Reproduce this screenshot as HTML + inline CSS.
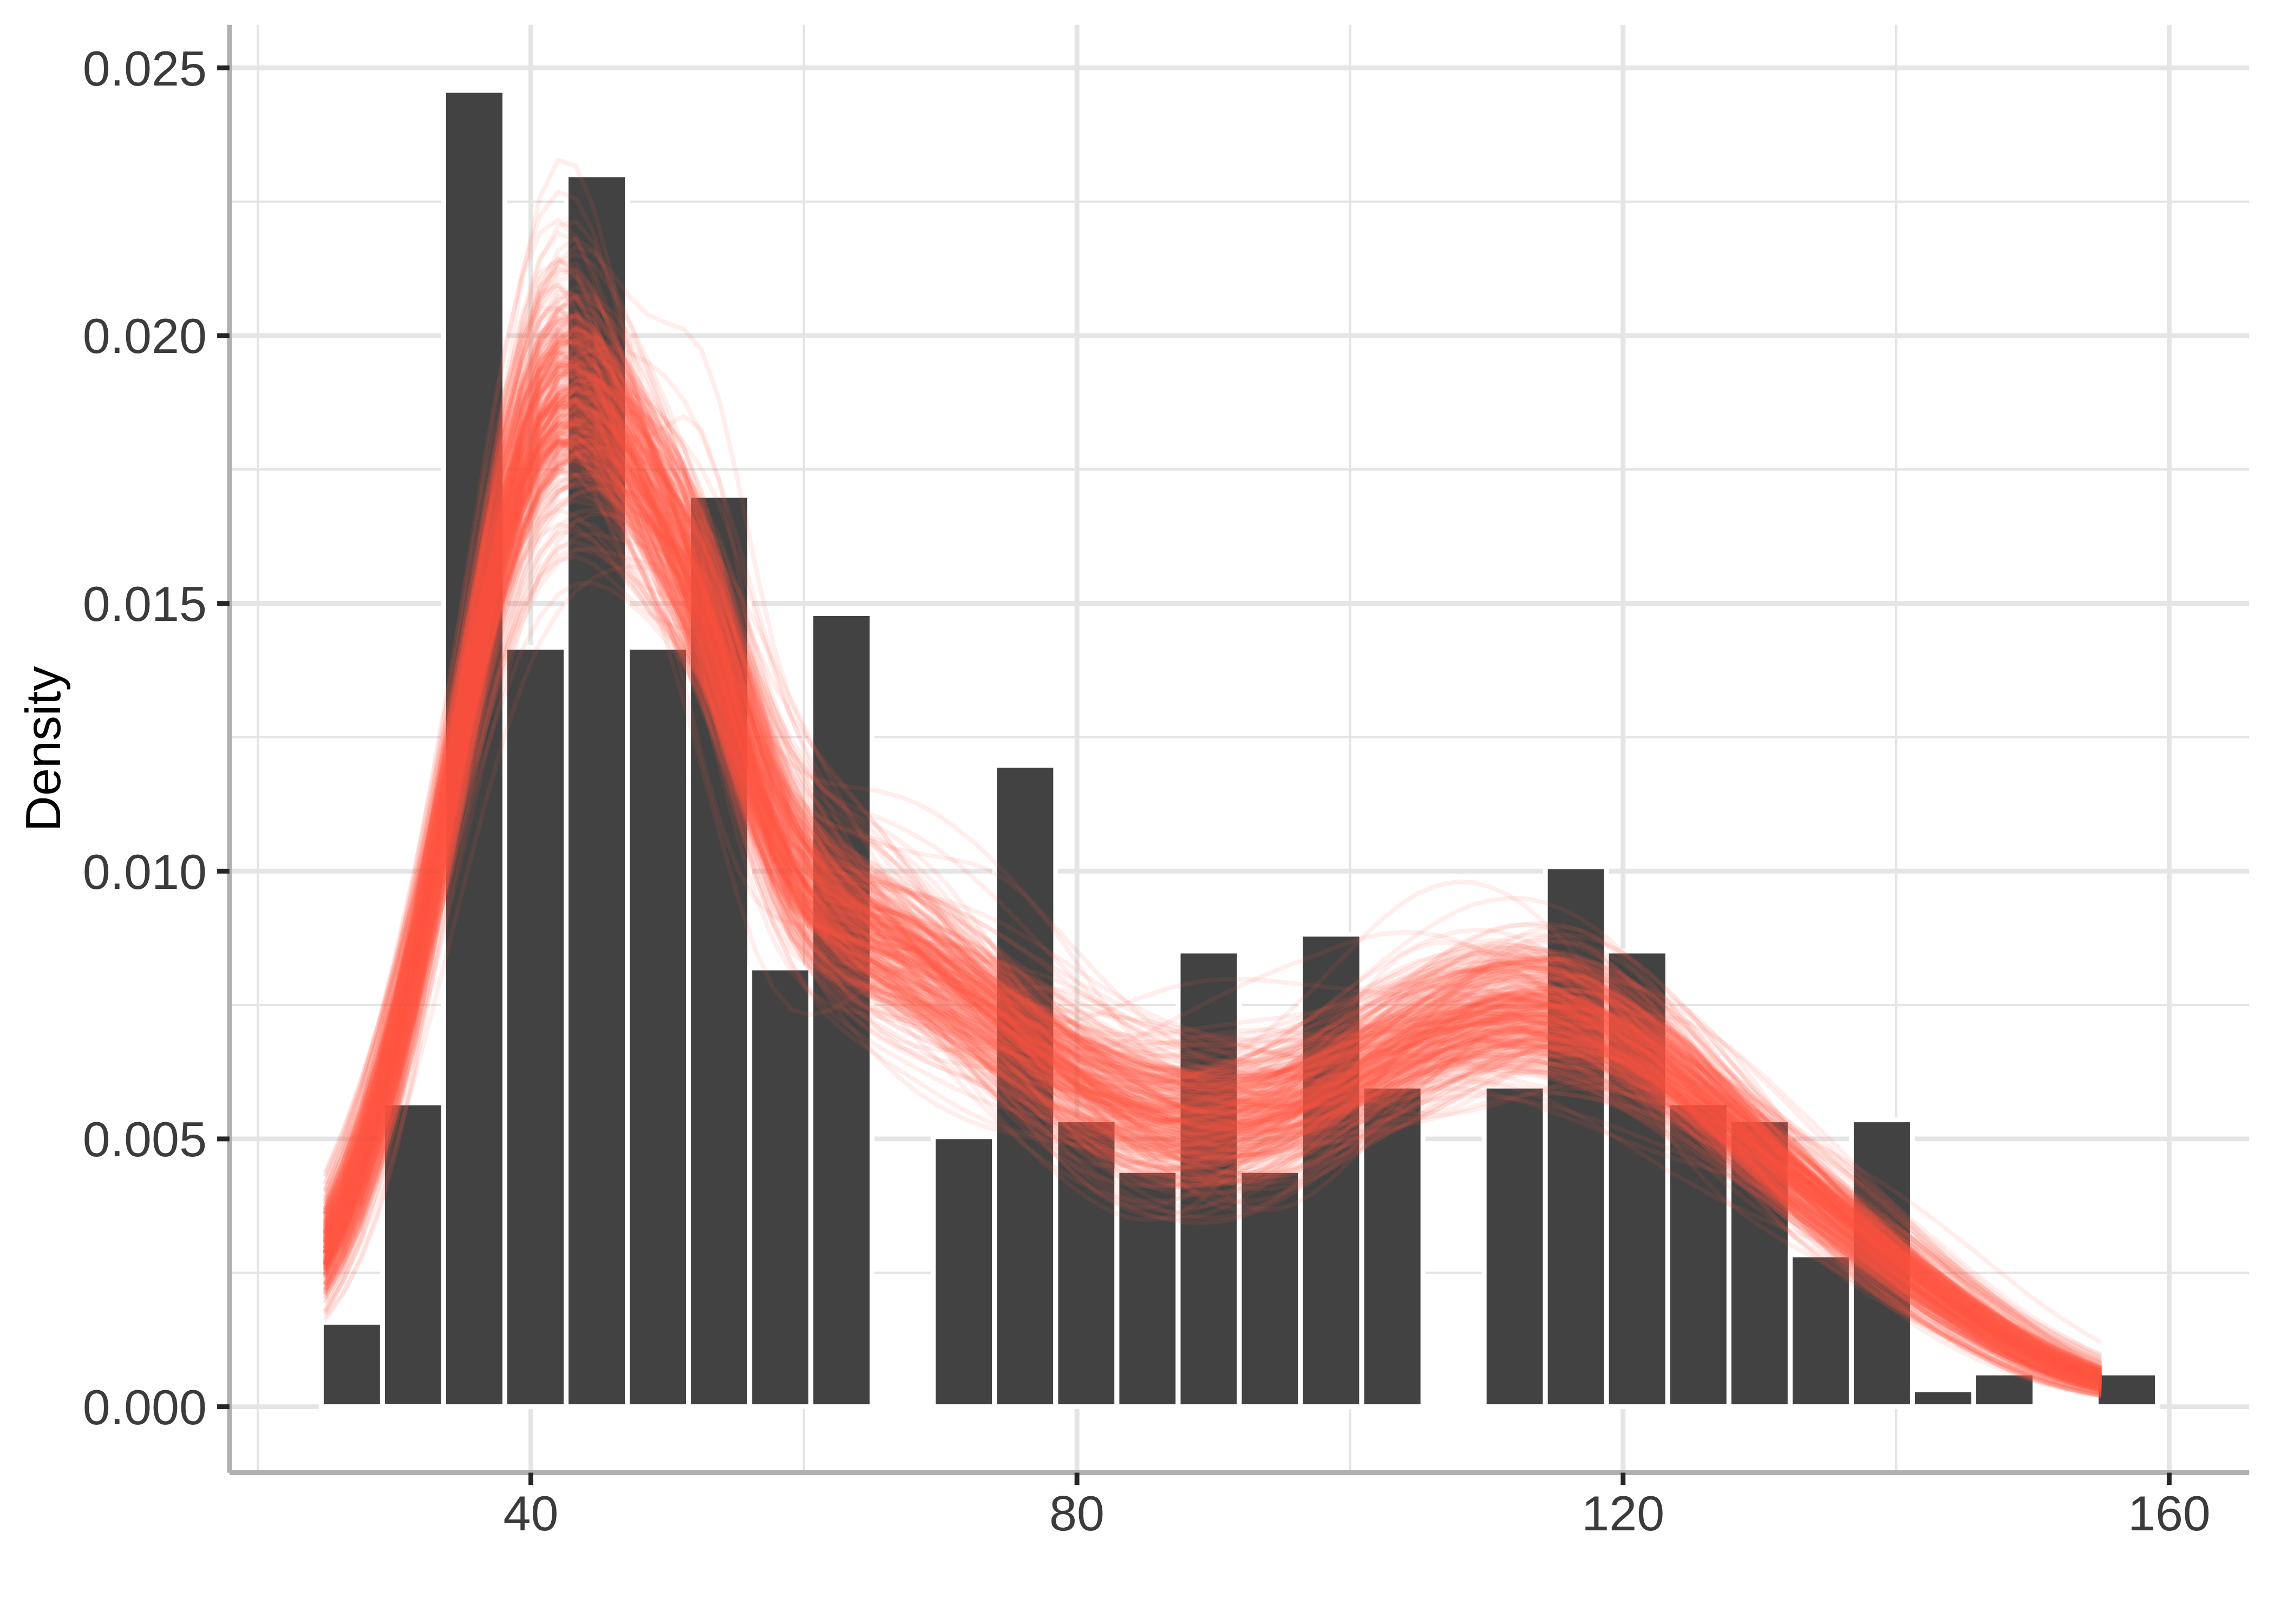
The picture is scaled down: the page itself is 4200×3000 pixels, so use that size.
<!DOCTYPE html>
<html><head><meta charset="utf-8"><title>Density</title>
<style>html,body{margin:0;padding:0;background:#fff;width:4200px;height:3000px;overflow:hidden}svg{display:block}text{font-family:"Liberation Sans",Arial,Helvetica,sans-serif;font-size:91.67px}</style></head>
<body>
<svg width="4200" height="3000" viewBox="0 0 4200 3000">
<rect width="4200" height="3000" fill="#fff"/>
<g stroke="#E5E5E5" stroke-width="4.4" fill="none">
<line x1="423.8" x2="4154.2" y1="2351.3" y2="2351.3"/><line x1="423.8" x2="4154.2" y1="1856.6" y2="1856.6"/><line x1="423.8" x2="4154.2" y1="1361.9" y2="1361.9"/><line x1="423.8" x2="4154.2" y1="867.3" y2="867.3"/><line x1="423.8" x2="4154.2" y1="372.6" y2="372.6"/><line y1="45.8" y2="2720.5" x1="476.2" x2="476.2"/><line y1="45.8" y2="2720.5" x1="1484.8" x2="1484.8"/><line y1="45.8" y2="2720.5" x1="2493.5" x2="2493.5"/><line y1="45.8" y2="2720.5" x1="3502.1" x2="3502.1"/>
</g>
<g stroke="#E5E5E5" stroke-width="8.9" fill="none">
<line x1="423.8" x2="4154.2" y1="2598.6" y2="2598.6"/><line x1="423.8" x2="4154.2" y1="2103.9" y2="2103.9"/><line x1="423.8" x2="4154.2" y1="1609.3" y2="1609.3"/><line x1="423.8" x2="4154.2" y1="1114.6" y2="1114.6"/><line x1="423.8" x2="4154.2" y1="620.0" y2="620.0"/><line x1="423.8" x2="4154.2" y1="125.3" y2="125.3"/><line y1="45.8" y2="2720.5" x1="980.5" x2="980.5"/><line y1="45.8" y2="2720.5" x1="1989.1" x2="1989.1"/><line y1="45.8" y2="2720.5" x1="2997.8" x2="2997.8"/><line y1="45.8" y2="2720.5" x1="4006.4" x2="4006.4"/>
</g>
<g fill="#424242" stroke="#fff" stroke-width="9">
<rect x="593.4" y="2442.7" width="113.04" height="155.9"/><rect x="706.4" y="2037.4" width="113.04" height="561.1"/><rect x="819.5" y="166.9" width="113.04" height="2431.7"/><rect x="932.5" y="1195.7" width="113.04" height="1402.9"/><rect x="1045.6" y="322.8" width="113.04" height="2275.8"/><rect x="1158.6" y="1195.7" width="113.04" height="1402.9"/><rect x="1271.6" y="915.1" width="113.04" height="1683.5"/><rect x="1384.7" y="1788.0" width="113.04" height="810.6"/><rect x="1497.7" y="1133.4" width="113.04" height="1465.2"/><path d="M1610.8 2598.6h113.04" stroke-linecap="square"/><rect x="1723.8" y="2099.8" width="113.04" height="498.8"/><rect x="1836.8" y="1413.9" width="113.04" height="1184.7"/><rect x="1949.9" y="2068.6" width="113.04" height="530.0"/><rect x="2062.9" y="2162.2" width="113.04" height="436.4"/><rect x="2176.0" y="1756.9" width="113.04" height="841.7"/><rect x="2289.0" y="2162.2" width="113.04" height="436.4"/><rect x="2402.0" y="1725.7" width="113.04" height="872.9"/><rect x="2515.1" y="2006.3" width="113.04" height="592.3"/><path d="M2628.1 2598.6h113.04" stroke-linecap="square"/><rect x="2741.2" y="2006.3" width="113.04" height="592.3"/><rect x="2854.2" y="1601.0" width="113.04" height="997.6"/><rect x="2967.2" y="1756.9" width="113.04" height="841.7"/><rect x="3080.3" y="2037.4" width="113.04" height="561.1"/><rect x="3193.3" y="2068.6" width="113.04" height="530.0"/><rect x="3306.4" y="2318.0" width="113.04" height="280.6"/><rect x="3419.4" y="2068.6" width="113.04" height="530.0"/><rect x="3532.4" y="2567.4" width="113.04" height="31.2"/><rect x="3645.5" y="2536.2" width="113.04" height="62.4"/><path d="M3758.5 2598.6h113.04" stroke-linecap="square"/><rect x="3871.6" y="2536.2" width="113.04" height="62.4"/>
</g>
<g fill="none" stroke="#FF5A44" stroke-opacity="0.1" stroke-width="8.3" stroke-linejoin="round" stroke-linecap="butt">
<path d="M600 2202l33-69 33-85 33-104 33-121 34-138 33-151 33-156 33-155 33-142 33-120 33-89 33-51 34-12 33 24 33 52 33 68 33 71 33 67 33 62 34 64 33 77 33 95 33 108 33 109 33 97 33 77 34 56 33 41 33 29 33 25 33 23 33 22 33 21 34 22 33 20 33 18 33 15 33 13 33 8 33 5 34 2 33-1 33-4 33-5 33-7 33-7 33-8 34-8 33-10 33-11 33-12 33-14 33-17 33-20 34-22 33-24 33-26 33-27 33-28 33-28 33-27 34-24 33-22 33-17 33-13 33-8 33-2 33 4 34 11 33 16 33 23 33 28 33 32 33 37 33 40 34 43 33 43 33 45 33 43 33 42 33 39 33 37 34 35 33 33 33 33 33 32 33 31 33 32 33 31 34 29 33 27 33 23 33 20 33 17 33 13 33 11 34 9 33 7 33 5"/>
<path d="M600 2219l33-72 33-88 33-105 33-123 34-139 33-152 33-161 33-160 33-152 33-134 33-108 33-74 34-38 33 0 33 30 33 51 33 57 33 51 33 44 34 52 33 78 33 111 33 130 33 127 33 104 33 76 34 52 33 40 33 32 33 31 33 32 33 32 33 34 34 34 33 34 33 34 33 32 33 29 33 26 33 22 34 18 33 13 33 9 33 6 33 2 33-1 33-3 34-5 33-6 33-7 33-8 33-9 33-9 33-10 34-10 33-11 33-11 33-11 33-11 33-10 33-10 34-8 33-8 33-5 33-4 33-1 33 1 33 3 34 5 33 7 33 10 33 11 33 12 33 15 33 15 34 16 33 16 33 17 33 17 33 18 33 17 33 17 34 18 33 18 33 19 33 20 33 20 33 22 33 22 34 23 33 23 33 23 33 23 33 21 33 21 33 19 34 17 33 16 33 14"/>
<path d="M600 2198l33-81 33-96 33-111 33-125 34-136 33-144 33-145 33-140 33-128 33-109 33-84 33-55 34-24 33 7 33 34 33 53 33 61 33 55 33 40 34 26 33 24 33 43 33 78 33 109 33 122 33 112 34 88 33 62 33 42 33 30 33 24 33 22 33 21 34 22 33 22 33 22 33 23 33 22 33 22 33 21 34 20 33 17 33 15 33 13 33 9 33 5 33 1 34-4 33-8 33-13 33-17 33-21 33-25 33-28 34-28 33-29 33-28 33-25 33-22 33-18 33-13 34-8 33-5 33 0 33 4 33 6 33 8 33 11 34 12 33 14 33 17 33 19 33 23 33 26 33 29 34 32 33 35 33 38 33 38 33 40 33 39 33 39 34 37 33 35 33 33 33 30 33 28 33 25 33 23 34 20 33 18 33 16 33 15 33 12 33 11 33 9 34 8 33 6 33 6"/>
<path d="M600 2299l33-57 33-70 33-84 33-99 34-114 33-126 33-136 33-138 33-135 33-124 33-105 33-79 34-50 33-20 33 9 33 31 33 47 33 55 33 54 34 50 33 44 33 42 33 41 33 44 33 45 33 45 34 41 33 33 33 24 33 19 33 15 33 17 33 22 34 28 33 35 33 39 33 40 33 39 33 36 33 32 34 27 33 22 33 18 33 14 33 9 33 6 33 2 34-2 33-6 33-9 33-13 33-16 33-18 33-22 34-23 33-24 33-25 33-24 33-22 33-21 33-17 34-14 33-9 33-4 33 1 33 7 33 12 33 16 34 22 33 25 33 30 33 32 33 35 33 37 33 38 34 39 33 40 33 40 33 39 33 39 33 37 33 35 34 33 33 32 33 29 33 28 33 26 33 25 33 23 34 22 33 20 33 18 33 17 33 15 33 13 33 11 34 10 33 8 33 6"/>
<path d="M600 2313l33-70 33-88 33-108 33-128 34-149 33-166 33-177 33-180 33-174 33-157 33-129 33-95 34-55 33-16 33 18 33 44 33 61 33 69 33 73 34 75 33 80 33 86 33 92 33 93 33 89 33 78 34 66 33 52 33 43 33 36 33 33 33 33 33 33 34 35 33 37 33 38 33 38 33 38 33 37 33 35 34 32 33 28 33 24 33 19 33 13 33 7 33 2 34-4 33-8 33-13 33-15 33-18 33-20 33-20 34-19 33-20 33-18 33-16 33-15 33-14 33-11 34-10 33-7 33-5 33-2 33 0 33 3 33 6 34 8 33 11 33 14 33 17 33 18 33 21 33 22 34 24 33 24 33 25 33 25 33 26 33 25 33 24 34 24 33 24 33 23 33 23 33 23 33 22 33 21 34 22 33 21 33 20 33 19 33 18 33 17 33 15 34 14 33 12 33 11"/>
<path d="M600 2289l33-65 33-81 33-97 33-116 34-132 33-147 33-156 33-159 33-152 33-137 33-112 33-81 34-47 33-13 33 15 33 34 33 41 33 41 33 42 34 51 33 69 33 93 33 111 33 117 33 105 33 84 34 59 33 40 33 26 33 18 33 16 33 14 33 15 34 17 33 17 33 19 33 19 33 20 33 20 33 19 34 19 33 18 33 16 33 15 33 12 33 9 33 6 34 3 33 0 33-3 33-6 33-9 33-11 33-14 34-15 33-17 33-18 33-19 33-19 33-19 33-19 34-19 33-16 33-12 33-8 33-1 33 7 33 15 34 22 33 28 33 32 33 34 33 34 33 32 33 32 34 30 33 30 33 28 33 28 33 28 33 26 33 26 34 25 33 24 33 23 33 23 33 22 33 23 33 23 34 23 33 23 33 22 33 21 33 20 33 19 33 16 34 14 33 12 33 9"/>
<path d="M600 2382l33-49 33-68 33-93 33-123 34-156 33-190 33-216 33-228 33-221 33-192 33-142 33-79 34-17 33 36 33 69 33 87 33 95 33 106 33 122 34 136 33 136 33 120 33 90 33 57 33 30 33 14 34 4 33 3 33 3 33 5 33 7 33 10 33 11 34 14 33 15 33 18 33 18 33 20 33 22 33 22 34 23 33 22 33 21 33 18 33 15 33 12 33 8 34 5 33 2 33-1 33-5 33-6 33-9 33-12 34-12 33-14 33-15 33-15 33-14 33-12 33-11 34-9 33-6 33-4 33-2 33 1 33 4 33 6 34 8 33 10 33 13 33 14 33 17 33 18 33 20 34 21 33 22 33 23 33 22 33 23 33 23 33 22 34 23 33 24 33 24 33 25 33 27 33 27 33 29 34 29 33 29 33 28 33 27 33 25 33 23 33 20 34 18 33 16 33 13"/>
<path d="M600 2281l33-69 33-86 33-106 33-127 34-148 33-165 33-177 33-180 33-174 33-155 33-125 33-87 34-44 33-2 33 33 33 59 33 72 33 75 33 76 34 80 33 90 33 102 33 106 33 101 33 85 33 65 34 46 33 32 33 24 33 21 33 21 33 21 33 21 34 23 33 24 33 25 33 25 33 25 33 24 33 23 34 22 33 20 33 18 33 16 33 13 33 11 33 8 34 6 33 3 33 1 33-1 33-2 33-3 33-4 34-2 33-3 33-1 33-1 33-2 33-4 33-7 34-11 33-14 33-18 33-20 33-21 33-19 33-15 34-9 33-2 33 6 33 13 33 20 33 26 33 31 34 33 33 36 33 37 33 36 33 36 33 34 33 32 34 30 33 28 33 26 33 24 33 22 33 21 33 20 34 19 33 17 33 17 33 17 33 15 33 14 33 13 34 12 33 11 33 10"/>
<path d="M600 2316l33-67 33-84 33-101 33-122 34-140 33-156 33-167 33-170 33-166 33-150 33-126 33-94 34-59 33-23 33 7 33 31 33 46 33 55 33 65 34 77 33 93 33 107 33 118 33 117 33 107 33 90 34 71 33 52 33 38 33 27 33 21 33 17 33 15 34 15 33 16 33 18 33 21 33 24 33 25 33 26 34 26 33 24 33 22 33 19 33 15 33 11 33 7 34 2 33-1 33-6 33-9 33-12 33-14 33-17 34-18 33-19 33-19 33-18 33-17 33-16 33-14 34-11 33-9 33-6 33-4 33 0 33 1 33 5 34 6 33 9 33 11 33 14 33 15 33 18 33 20 34 22 33 24 33 25 33 27 33 28 33 28 33 28 34 28 33 27 33 27 33 26 33 25 33 23 33 23 34 22 33 21 33 20 33 19 33 19 33 17 33 16 34 15 33 13 33 12"/>
<path d="M600 2272l33-79 33-95 33-112 33-130 34-144 33-154 33-158 33-154 33-142 33-122 33-93 33-62 34-27 33 4 33 28 33 43 33 46 33 40 33 36 34 37 33 53 33 74 33 93 33 100 33 91 33 73 34 52 33 36 33 25 33 21 33 19 33 20 33 22 34 23 33 25 33 25 33 26 33 27 33 26 33 25 34 25 33 24 33 23 33 23 33 21 33 20 33 18 34 15 33 12 33 9 33 4 33 1 33-4 33-7 34-10 33-13 33-16 33-17 33-18 33-18 33-18 34-17 33-15 33-13 33-11 33-7 33-4 33-1 34 4 33 7 33 11 33 14 33 18 33 21 33 24 34 26 33 28 33 29 33 31 33 31 33 31 33 32 34 30 33 30 33 29 33 28 33 26 33 26 33 23 34 23 33 21 33 19 33 18 33 17 33 15 33 13 34 12 33 11 33 9"/>
<path d="M600 2355l33-62 33-79 33-99 33-120 34-141 33-158 33-172 33-177 33-172 33-155 33-128 33-92 34-52 33-12 33 23 33 47 33 60 33 61 33 61 34 63 33 72 33 86 33 97 33 101 33 93 33 77 34 57 33 39 33 28 33 21 33 19 33 18 33 20 34 21 33 23 33 26 33 26 33 28 33 28 33 29 34 28 33 26 33 25 33 23 33 21 33 17 33 14 34 11 33 8 33 3 33-1 33-5 33-8 33-13 34-17 33-20 33-22 33-25 33-26 33-27 33-26 34-25 33-23 33-21 33-16 33-13 33-8 33-3 34 2 33 6 33 11 33 15 33 19 33 23 33 25 34 29 33 30 33 31 33 32 33 31 33 32 33 31 34 30 33 29 33 29 33 28 33 27 33 28 33 26 34 27 33 25 33 25 33 23 33 22 33 20 33 18 34 16 33 13 33 11"/>
<path d="M600 2312l33-72 33-90 33-109 33-129 34-147 33-161 33-167 33-165 33-152 33-129 33-97 33-59 34-19 33 17 33 46 33 63 33 69 33 67 33 64 34 63 33 67 33 76 33 80 33 81 33 71 33 58 34 43 33 31 33 25 33 23 33 23 33 25 33 28 34 29 33 29 33 29 33 26 33 23 33 18 33 14 34 9 33 5 33 2 33 0 33-2 33-3 33-3 34-3 33-4 33-4 33-5 33-6 33-7 33-9 34-9 33-11 33-12 33-12 33-13 33-12 33-12 34-10 33-9 33-7 33-5 33-2 33 0 33 4 34 7 33 10 33 13 33 16 33 18 33 22 33 23 34 26 33 27 33 28 33 29 33 30 33 30 33 30 34 30 33 30 33 29 33 28 33 27 33 27 33 25 34 25 33 23 33 21 33 21 33 18 33 17 33 16 34 13 33 12 33 11"/>
<path d="M600 2400l33-64 33-83 33-103 33-125 34-145 33-163 33-173 33-175 33-167 33-148 33-117 33-81 34-39 33 1 33 36 33 58 33 66 33 59 33 41 34 22 33 15 33 27 33 51 33 75 33 87 33 82 34 64 33 45 33 29 33 21 33 20 33 21 33 24 34 28 33 32 33 35 33 36 33 38 33 37 33 36 34 35 33 31 33 28 33 25 33 20 33 16 33 12 34 7 33 3 33-2 33-6 33-10 33-14 33-18 34-21 33-24 33-26 33-27 33-27 33-27 33-25 34-23 33-19 33-15 33-11 33-5 33 0 33 5 34 11 33 17 33 21 33 26 33 30 33 34 33 36 34 38 33 39 33 40 33 40 33 39 33 38 33 37 34 35 33 33 33 32 33 30 33 28 33 26 33 24 34 23 33 21 33 18 33 17 33 15 33 13 33 10 34 9 33 8 33 6"/>
<path d="M600 2200l33-79 33-96 33-116 33-135 34-152 33-163 33-170 33-166 33-153 33-129 33-98 33-59 34-19 33 19 33 52 33 73 33 85 33 86 33 81 34 76 33 73 33 74 33 78 33 81 33 77 33 71 34 60 33 48 33 40 33 32 33 28 33 26 33 24 34 22 33 22 33 21 33 21 33 20 33 19 33 19 34 18 33 16 33 16 33 14 33 12 33 10 33 9 34 7 33 6 33 4 33 3 33 2 33 2 33 1 34-1 33-2 33-5 33-8 33-11 33-15 33-17 34-20 33-21 33-21 33-19 33-17 33-13 33-9 34-5 33 1 33 5 33 9 33 13 33 16 33 20 34 21 33 24 33 26 33 27 33 28 33 28 33 29 34 29 33 29 33 29 33 28 33 28 33 27 33 26 34 25 33 24 33 22 33 20 33 18 33 17 33 15 34 13 33 12 33 10"/>
<path d="M600 2254l33-78 33-93 33-107 33-119 34-130 33-135 33-135 33-129 33-117 33-99 33-75 33-48 34-20 33 5 33 25 33 37 33 43 33 42 33 41 34 43 33 53 33 65 33 75 33 79 33 71 33 55 34 38 33 21 33 10 33 4 33 4 33 7 33 13 34 19 33 24 33 29 33 30 33 30 33 28 33 25 34 22 33 19 33 15 33 12 33 9 33 7 33 3 34 0 33-3 33-5 33-9 33-11 33-14 33-15 34-17 33-18 33-19 33-19 33-18 33-16 33-15 34-13 33-10 33-6 33-3 33 2 33 5 33 11 34 15 33 19 33 24 33 27 33 31 33 34 33 36 34 37 33 39 33 38 33 38 33 38 33 36 33 34 34 32 33 31 33 29 33 28 33 25 33 25 33 23 34 22 33 21 33 19 33 18 33 16 33 14 33 13 34 11 33 9 33 8"/>
<path d="M600 2317l33-79 33-97 33-114 33-131 34-146 33-157 33-164 33-163 33-155 33-140 33-118 33-92 34-64 33-37 33-16 33-1 33 9 33 17 33 27 34 43 33 64 33 88 33 106 33 115 33 111 33 101 34 85 33 72 33 62 33 56 33 54 33 53 33 54 34 55 33 54 33 53 33 51 33 49 33 45 33 40 34 36 33 32 33 26 33 21 33 15 33 10 33 4 34-1 33-6 33-12 33-15 33-20 33-23 33-26 34-29 33-32 33-33 33-35 33-35 33-35 33-34 34-32 33-29 33-24 33-20 33-14 33-7 33-2 34 5 33 10 33 15 33 20 33 24 33 27 33 29 34 32 33 33 33 34 33 35 33 36 33 35 33 35 34 35 33 34 33 33 33 31 33 31 33 29 33 27 34 26 33 25 33 22 33 21 33 19 33 17 33 15 34 13 33 12 33 10"/>
<path d="M600 2269l33-79 33-97 33-117 33-138 34-156 33-171 33-180 33-179 33-170 33-151 33-121 33-88 34-52 33-18 33 10 33 30 33 45 33 61 33 77 34 96 33 114 33 125 33 126 33 114 33 96 33 75 34 56 33 41 33 33 33 28 33 26 33 27 33 27 34 29 33 30 33 31 33 31 33 31 33 31 33 29 34 27 33 26 33 23 33 20 33 18 33 13 33 11 34 6 33 2 33-3 33-7 33-13 33-18 33-23 34-28 33-33 33-36 33-38 33-38 33-37 33-33 34-27 33-21 33-12 33-3 33 5 33 12 33 20 34 25 33 29 33 33 33 34 33 36 33 36 33 36 34 36 33 36 33 35 33 33 33 32 33 31 33 29 34 27 33 26 33 24 33 23 33 22 33 20 33 20 34 19 33 19 33 18 33 17 33 17 33 15 33 14 34 12 33 12 33 9"/>
<path d="M600 2322l33-70 33-87 33-103 33-122 34-138 33-151 33-160 33-161 33-155 33-140 33-117 33-88 34-55 33-22 33 5 33 27 33 39 33 44 33 48 34 55 33 69 33 85 33 98 33 103 33 95 33 79 34 61 33 45 33 33 33 26 33 23 33 22 33 24 34 24 33 26 33 28 33 28 33 30 33 29 33 30 34 29 33 28 33 25 33 23 33 19 33 14 33 11 34 6 33 2 33-2 33-4 33-6 33-9 33-10 34-11 33-13 33-13 33-14 33-13 33-14 33-12 34-12 33-10 33-8 33-7 33-3 33-2 33 2 34 4 33 7 33 10 33 13 33 15 33 17 33 20 34 21 33 22 33 22 33 23 33 23 33 23 33 22 34 22 33 23 33 22 33 24 33 24 33 26 33 26 34 27 33 26 33 26 33 25 33 23 33 21 33 18 34 16 33 14 33 12"/>
<path d="M600 2384l33-63 33-79 33-97 33-116 34-132 33-147 33-155 33-158 33-151 33-136 33-112 33-82 34-49 33-17 33 9 33 25 33 27 33 23 33 18 34 25 33 48 33 77 33 102 33 108 33 98 33 73 34 48 33 28 33 16 33 11 33 10 33 11 33 13 34 16 33 19 33 21 33 23 33 25 33 25 33 26 34 26 33 25 33 24 33 22 33 21 33 19 33 17 34 15 33 13 33 11 33 7 33 5 33 1 33-2 34-5 33-9 33-10 33-13 33-15 33-15 33-16 34-16 33-15 33-13 33-13 33-10 33-8 33-6 34-4 33-1 33 3 33 7 33 11 33 18 33 23 34 28 33 33 33 36 33 38 33 38 33 38 33 36 34 35 33 33 33 30 33 29 33 27 33 26 33 25 34 24 33 22 33 22 33 21 33 19 33 19 33 16 34 15 33 13 33 12"/>
<path d="M600 2289l33-76 33-93 33-111 33-129 34-144 33-155 33-160 33-158 33-146 33-125 33-98 33-64 34-29 33 4 33 29 33 43 33 43 33 33 33 27 34 34 33 58 33 93 33 118 33 122 33 106 33 79 34 53 33 35 33 25 33 19 33 19 33 20 33 20 34 22 33 23 33 24 33 25 33 24 33 24 33 24 34 21 33 21 33 18 33 15 33 13 33 10 33 7 34 4 33 1 33-2 33-4 33-7 33-9 33-12 34-12 33-14 33-15 33-14 33-15 33-14 33-12 34-11 33-8 33-5 33-3 33 1 33 5 33 7 34 10 33 13 33 14 33 16 33 18 33 18 33 19 34 19 33 20 33 21 33 22 33 22 33 23 33 23 34 23 33 23 33 23 33 23 33 23 33 23 33 23 34 23 33 23 33 22 33 22 33 22 33 20 33 19 34 17 33 16 33 14"/>
<path d="M600 2265l33-74 33-88 33-103 33-118 34-131 33-140 33-144 33-143 33-133 33-118 33-94 33-68 34-37 33-9 33 15 33 29 33 31 33 26 33 23 34 34 33 64 33 99 33 123 33 125 33 107 33 79 34 54 33 38 33 28 33 24 33 22 33 22 33 23 34 23 33 24 33 24 33 25 33 24 33 23 33 21 34 20 33 17 33 14 33 11 33 8 33 5 33 2 34-2 33-5 33-7 33-11 33-13 33-15 33-18 34-19 33-21 33-22 33-23 33-23 33-22 33-21 34-20 33-17 33-13 33-10 33-5 33 0 33 5 34 10 33 15 33 19 33 23 33 25 33 29 33 30 34 31 33 31 33 31 33 30 33 30 33 29 33 28 34 27 33 27 33 28 33 28 33 28 33 30 33 29 34 29 33 29 33 27 33 24 33 23 33 20 33 17 34 14 33 13 33 10"/>
<path d="M600 2273l33-77 33-92 33-106 33-119 34-131 33-138 33-140 33-137 33-127 33-112 33-91 33-66 34-41 33-18 33 1 33 12 33 18 33 22 33 28 34 40 33 59 33 80 33 96 33 102 33 94 33 81 34 62 33 46 33 35 33 28 33 25 33 26 33 27 34 29 33 30 33 32 33 32 33 30 33 27 33 24 34 21 33 18 33 16 33 15 33 15 33 14 33 15 34 15 33 14 33 12 33 9 33 6 33 0 33-4 34-10 33-15 33-19 33-21 33-22 33-23 33-21 34-19 33-17 33-15 33-12 33-10 33-7 33-3 34-1 33 2 33 6 33 8 33 12 33 14 33 17 34 19 33 20 33 22 33 23 33 24 33 24 33 24 34 24 33 24 33 24 33 25 33 25 33 25 33 26 34 27 33 26 33 27 33 25 33 25 33 23 33 21 34 19 33 16 33 15"/>
<path d="M600 2348l33-59 33-75 33-93 33-112 34-134 33-152 33-168 33-176 33-176 33-166 33-145 33-116 34-79 33-42 33-9 33 16 33 33 33 46 33 61 34 83 33 108 33 127 33 131 33 119 33 97 33 73 34 52 33 39 33 29 33 24 33 22 33 21 33 22 34 22 33 25 33 26 33 28 33 29 33 30 33 30 34 30 33 29 33 27 33 25 33 23 33 19 33 16 34 12 33 9 33 5 33 1 33-2 33-5 33-8 34-10 33-12 33-14 33-15 33-15 33-16 33-16 34-16 33-15 33-14 33-13 33-11 33-8 33-5 34-1 33 1 33 6 33 10 33 13 33 17 33 20 34 23 33 25 33 27 33 28 33 29 33 30 33 30 34 30 33 29 33 29 33 28 33 27 33 26 33 25 34 23 33 22 33 20 33 19 33 18 33 15 33 14 34 12 33 11 33 9"/>
<path d="M600 2317l33-69 33-84 33-102 33-121 34-136 33-150 33-158 33-158 33-150 33-133 33-108 33-76 34-41 33-6 33 22 33 39 33 42 33 36 33 33 34 45 33 75 33 111 33 133 33 127 33 102 33 68 34 41 33 22 33 10 33 6 33 5 33 6 33 9 34 12 33 16 33 19 33 22 33 24 33 24 33 26 34 25 33 24 33 22 33 21 33 18 33 16 33 12 34 9 33 5 33 2 33-2 33-5 33-8 33-12 34-14 33-16 33-17 33-19 33-18 33-17 33-16 34-14 33-10 33-6 33-3 33 3 33 6 33 10 34 13 33 15 33 18 33 18 33 19 33 20 33 20 34 22 33 23 33 24 33 26 33 27 33 28 33 29 34 29 33 30 33 29 33 29 33 28 33 27 33 25 34 24 33 22 33 21 33 19 33 18 33 15 33 14 34 12 33 11 33 9"/>
<path d="M600 2320l33-70 33-86 33-102 33-119 34-134 33-145 33-150 33-149 33-141 33-124 33-101 33-71 34-40 33-10 33 15 33 27 33 24 33 11 33-5 34-2 33 27 33 73 33 113 33 128 33 115 33 87 34 59 33 39 33 29 33 26 33 25 33 26 33 26 34 28 33 27 33 27 33 27 33 27 33 25 33 24 34 23 33 21 33 19 33 17 33 14 33 11 33 8 34 6 33 2 33-2 33-4 33-7 33-10 33-12 34-14 33-16 33-18 33-18 33-18 33-18 33-17 34-15 33-13 33-11 33-7 33-3 33 0 33 4 34 9 33 11 33 15 33 18 33 21 33 23 33 24 34 26 33 27 33 28 33 28 33 28 33 28 33 29 34 28 33 28 33 28 33 28 33 29 33 28 33 27 34 28 33 26 33 25 33 24 33 22 33 20 33 18 34 16 33 13 33 12"/>
<path d="M600 2247l33-69 33-83 33-99 33-115 34-129 33-143 33-151 33-154 33-150 33-137 33-117 33-92 34-61 33-31 33-4 33 15 33 27 33 32 33 39 34 51 33 72 33 96 33 114 33 119 33 110 33 92 34 72 33 56 33 45 33 40 33 38 33 37 33 38 34 39 33 38 33 38 33 36 33 35 33 33 33 30 34 28 33 24 33 21 33 18 33 13 33 10 33 5 34 1 33-2 33-7 33-11 33-14 33-18 33-20 34-23 33-25 33-26 33-27 33-27 33-25 33-24 34-21 33-17 33-13 33-9 33-3 33 3 33 10 34 14 33 20 33 24 33 27 33 27 33 26 33 25 34 23 33 21 33 19 33 18 33 20 33 20 33 22 34 23 33 25 33 25 33 27 33 27 33 26 33 26 34 25 33 24 33 23 33 22 33 20 33 18 33 17 34 14 33 13 33 11"/>
<path d="M600 2284l33-71 33-84 33-97 33-110 34-121 33-129 33-133 33-132 33-126 33-114 33-97 33-75 34-52 33-30 33-12 33 1 33 6 33 7 33 12 34 26 33 49 33 76 33 99 33 107 33 100 33 83 34 63 33 46 33 33 33 27 33 24 33 23 33 23 34 23 33 24 33 25 33 25 33 25 33 24 33 24 34 23 33 21 33 20 33 17 33 15 33 12 33 9 34 6 33 3 33 0 33-4 33-7 33-10 33-11 34-14 33-13 33-13 33-13 33-10 33-9 33-5 34-4 33-1 33 1 33 3 33 5 33 6 33 8 34 9 33 10 33 12 33 14 33 16 33 17 33 19 34 20 33 21 33 23 33 23 33 24 33 24 33 25 34 24 33 25 33 24 33 25 33 25 33 24 33 24 34 24 33 23 33 22 33 21 33 21 33 18 33 18 34 15 33 15 33 12"/>
<path d="M600 2343l33-72 33-90 33-113 33-136 34-157 33-175 33-185 33-186 33-175 33-152 33-119 33-77 34-34 33 7 33 38 33 55 33 59 33 53 33 47 34 50 33 64 33 82 33 96 33 96 33 83 33 63 34 44 33 30 33 24 33 21 33 23 33 24 33 27 34 29 33 31 33 31 33 31 33 31 33 31 33 29 34 28 33 27 33 25 33 24 33 21 33 19 33 17 34 15 33 12 33 10 33 8 33 6 33 5 33 3 34 2 33 0 33 0 33-3 33-4 33-6 33-7 34-9 33-10 33-10 33-9 33-8 33-5 33-3 34 1 33 4 33 8 33 12 33 15 33 17 33 20 34 22 33 23 33 24 33 24 33 25 33 24 33 23 34 23 33 23 33 21 33 21 33 20 33 20 33 19 34 18 33 18 33 17 33 16 33 16 33 14 33 13 34 12 33 11 33 10"/>
<path d="M600 2307l33-77 33-96 33-117 33-138 34-157 33-173 33-182 33-183 33-172 33-151 33-122 33-84 34-43 33-4 33 29 33 53 33 65 33 71 33 75 34 82 33 91 33 104 33 109 33 106 33 93 33 74 34 54 33 37 33 27 33 21 33 19 33 20 33 23 34 24 33 27 33 30 33 30 33 32 33 32 33 32 34 31 33 31 33 29 33 27 33 24 33 22 33 19 34 14 33 11 33 6 33 2 33-3 33-8 33-13 34-18 33-21 33-24 33-26 33-27 33-28 33-26 34-25 33-22 33-19 33-15 33-11 33-7 33-3 34 1 33 5 33 9 33 13 33 16 33 19 33 22 34 24 33 26 33 27 33 28 33 30 33 29 33 30 34 30 33 29 33 29 33 29 33 29 33 27 33 27 34 26 33 25 33 23 33 22 33 19 33 18 33 16 34 15 33 12 33 10"/>
<path d="M600 2317l33-75 33-96 33-117 33-139 34-161 33-177 33-187 33-189 33-177 33-156 33-125 33-85 34-45 33-6 33 25 33 44 33 55 33 61 33 67 34 79 33 92 33 104 33 108 33 101 33 86 33 66 34 48 33 36 33 29 33 26 33 26 33 29 33 30 34 33 33 35 33 36 33 36 33 37 33 37 33 36 34 35 33 36 33 34 33 34 33 33 33 29 33 26 34 21 33 16 33 9 33 3 33-3 33-8 33-13 34-16 33-20 33-22 33-23 33-25 33-24 33-24 34-22 33-21 33-19 33-15 33-13 33-9 33-5 34-1 33 2 33 7 33 10 33 13 33 17 33 20 34 22 33 24 33 26 33 27 33 28 33 28 33 29 34 30 33 29 33 29 33 28 33 28 33 27 33 26 34 25 33 24 33 22 33 20 33 18 33 16 33 15 34 12 33 11 33 9"/>
<path d="M600 2339l33-64 33-79 33-99 33-118 34-137 33-153 33-163 33-166 33-159 33-142 33-117 33-82 34-44 33-7 33 26 33 50 33 64 33 73 33 80 34 90 33 101 33 110 33 110 33 98 33 79 33 56 34 37 33 21 33 12 33 6 33 2 33 2 33 0 34 1 33 2 33 3 33 6 33 10 33 12 33 15 34 17 33 18 33 18 33 17 33 14 33 12 33 8 34 4 33 0 33-2 33-6 33-9 33-11 33-13 34-15 33-16 33-18 33-17 33-18 33-17 33-16 34-14 33-12 33-10 33-7 33-4 33 0 33 4 34 7 33 11 33 15 33 19 33 22 33 24 33 27 34 29 33 31 33 31 33 32 33 32 33 32 33 32 34 31 33 31 33 30 33 31 33 30 33 31 33 29 34 29 33 29 33 26 33 25 33 23 33 20 33 18 34 16 33 13 33 11"/>
<path d="M600 2334l33-72 33-89 33-107 33-125 34-142 33-156 33-163 33-165 33-157 33-141 33-116 33-86 34-52 33-17 33 11 33 26 33 23 33 1 33-20 34-18 33 25 33 95 33 159 33 184 33 165 33 122 34 82 33 53 33 37 33 31 33 28 33 28 33 27 34 29 33 29 33 31 33 33 33 34 33 35 33 36 34 35 33 34 33 31 33 25 33 19 33 11 33 4 34-3 33-8 33-14 33-17 33-18 33-20 33-21 34-22 33-21 33-22 33-22 33-22 33-21 33-20 34-18 33-17 33-13 33-11 33-8 33-5 33-1 34 2 33 6 33 10 33 13 33 17 33 19 33 22 34 25 33 27 33 28 33 29 33 30 33 29 33 29 34 27 33 25 33 23 33 21 33 19 33 19 33 19 34 20 33 21 33 24 33 24 33 25 33 25 33 24 34 22 33 20 33 16"/>
<path d="M600 2287l33-63 33-79 33-98 33-116 34-135 33-151 33-162 33-165 33-159 33-143 33-117 33-83 34-45 33-8 33 25 33 50 33 64 33 73 33 78 34 84 33 93 33 102 33 106 33 101 33 87 33 69 34 50 33 34 33 23 33 16 33 13 33 12 33 12 34 12 33 13 33 13 33 14 33 15 33 15 33 15 34 15 33 16 33 14 33 14 33 13 33 11 33 8 34 5 33 2 33-3 33-6 33-10 33-13 33-15 34-17 33-17 33-17 33-17 33-15 33-14 33-11 34-9 33-7 33-5 33-2 33 1 33 3 33 6 34 8 33 11 33 14 33 17 33 19 33 21 33 24 34 26 33 27 33 28 33 29 33 28 33 27 33 27 34 24 33 23 33 21 33 20 33 19 33 19 33 20 34 22 33 23 33 24 33 24 33 24 33 23 33 21 34 18 33 16 33 13"/>
<path d="M600 2269l33-79 33-92 33-106 33-120 34-132 33-139 33-143 33-141 33-133 33-120 33-100 33-78 34-54 33-30 33-10 33 3 33 11 33 14 33 20 34 31 33 50 33 73 33 93 33 102 33 101 33 89 34 74 33 60 33 50 33 44 33 42 33 41 33 41 34 41 33 41 33 41 33 39 33 39 33 36 33 35 34 32 33 30 33 27 33 24 33 20 33 18 33 13 34 10 33 6 33 3 33-1 33-4 33-7 33-11 34-13 33-15 33-18 33-20 33-20 33-22 33-21 34-21 33-20 33-17 33-16 33-12 33-9 33-6 34-2 33 2 33 6 33 9 33 12 33 15 33 18 34 20 33 22 33 24 33 24 33 26 33 25 33 26 34 26 33 25 33 26 33 25 33 24 33 24 33 24 34 24 33 23 33 22 33 21 33 21 33 19 33 18 34 17 33 15 33 14"/>
<path d="M600 2288l33-79 33-96 33-113 33-129 34-142 33-151 33-155 33-151 33-139 33-119 33-95 33-65 34-37 33-10 33 10 33 24 33 33 33 43 33 56 34 72 33 89 33 102 33 104 33 97 33 80 33 61 34 42 33 28 33 19 33 14 33 12 33 12 33 14 34 15 33 17 33 19 33 19 33 21 33 21 33 22 34 20 33 21 33 19 33 17 33 16 33 14 33 11 34 10 33 6 33 5 33 2 33-1 33-2 33-4 34-6 33-7 33-7 33-8 33-8 33-8 33-7 34-6 33-4 33-3 33-1 33 1 33 4 33 6 34 9 33 11 33 13 33 16 33 18 33 20 33 21 34 23 33 23 33 25 33 24 33 24 33 25 33 23 34 24 33 22 33 23 33 22 33 22 33 22 33 21 34 22 33 21 33 21 33 20 33 18 33 18 33 17 34 14 33 14 33 11"/>
<path d="M600 2326l33-60 33-77 33-95 33-116 34-138 33-155 33-169 33-175 33-170 33-153 33-127 33-90 34-48 33-5 33 31 33 58 33 71 33 72 33 69 34 72 33 84 33 101 33 114 33 115 33 100 33 77 34 51 33 32 33 19 33 11 33 9 33 8 33 8 34 9 33 10 33 11 33 12 33 11 33 12 33 12 34 11 33 10 33 9 33 8 33 6 33 3 33 2 34-1 33-4 33-6 33-9 33-12 33-14 33-17 34-19 33-20 33-20 33-21 33-20 33-19 33-16 34-13 33-11 33-6 33-4 33 1 33 4 33 7 34 11 33 13 33 17 33 21 33 23 33 26 33 30 34 32 33 35 33 36 33 38 33 38 33 38 33 37 34 36 33 35 33 33 33 31 33 30 33 28 33 28 34 25 33 25 33 23 33 21 33 20 33 18 33 15 34 14 33 12 33 10"/>
<path d="M600 2335l33-65 33-84 33-104 33-127 34-149 33-166 33-178 33-181 33-170 33-150 33-116 33-76 34-33 33 7 33 37 33 58 33 66 33 71 33 77 34 87 33 100 33 109 33 107 33 94 33 74 33 53 34 35 33 24 33 18 33 18 33 19 33 19 33 21 34 20 33 19 33 16 33 13 33 11 33 10 33 10 34 10 33 10 33 11 33 10 33 10 33 9 33 8 34 5 33 4 33 1 33-2 33-3 33-6 33-7 34-9 33-10 33-12 33-11 33-12 33-12 33-11 34-10 33-10 33-7 33-7 33-4 33-2 33 1 34 3 33 7 33 10 33 13 33 17 33 20 33 23 34 25 33 28 33 29 33 30 33 30 33 29 33 29 34 28 33 27 33 26 33 25 33 24 33 24 33 24 34 23 33 23 33 22 33 21 33 21 33 19 33 17 34 16 33 15 33 12"/>
<path d="M600 2315l33-62 33-78 33-94 33-112 34-129 33-143 33-154 33-156 33-153 33-139 33-117 33-88 34-55 33-21 33 10 33 31 33 44 33 46 33 47 34 53 33 66 33 86 33 102 33 108 33 99 33 79 34 58 33 38 33 25 33 18 33 14 33 13 33 13 34 15 33 15 33 17 33 17 33 18 33 17 33 18 34 17 33 17 33 15 33 14 33 12 33 11 33 8 34 7 33 4 33 2 33 0 33-1 33-4 33-5 34-7 33-8 33-10 33-12 33-13 33-14 33-16 34-16 33-15 33-12 33-9 33-5 33 2 33 8 34 13 33 19 33 22 33 24 33 27 33 27 33 28 34 28 33 28 33 28 33 28 33 28 33 27 33 26 34 26 33 25 33 24 33 24 33 24 33 24 33 23 34 23 33 23 33 22 33 20 33 20 33 17 33 16 34 13 33 12 33 10"/>
<path d="M600 2320l33-69 33-86 33-104 33-123 34-140 33-154 33-163 33-164 33-157 33-140 33-115 33-84 34-48 33-14 33 15 33 37 33 50 33 55 33 59 34 64 33 73 33 83 33 91 33 93 33 86 33 72 34 57 33 42 33 32 33 25 33 22 33 22 33 22 34 24 33 26 33 26 33 28 33 28 33 28 33 26 34 25 33 21 33 18 33 15 33 11 33 7 33 3 34 1 33-2 33-3 33-5 33-5 33-6 33-8 34-7 33-9 33-11 33-11 33-12 33-13 33-14 34-14 33-13 33-12 33-11 33-8 33-6 33-4 34 0 33 3 33 7 33 10 33 13 33 16 33 19 34 22 33 23 33 26 33 27 33 27 33 29 33 29 34 30 33 30 33 29 33 29 33 30 33 28 33 28 34 27 33 26 33 24 33 24 33 21 33 20 33 18 34 16 33 14 33 13"/>
<path d="M600 2236l33-75 33-89 33-104 33-118 34-130 33-140 33-142 33-140 33-130 33-112 33-88 33-61 34-31 33-3 33 17 33 30 33 32 33 30 33 29 34 40 33 63 33 90 33 111 33 118 33 106 33 85 34 62 33 43 33 31 33 23 33 21 33 19 33 19 34 19 33 20 33 20 33 20 33 19 33 20 33 19 34 18 33 17 33 16 33 14 33 13 33 12 33 9 34 8 33 5 33 4 33 0 33-2 33-4 33-8 34-10 33-13 33-15 33-16 33-17 33-17 33-16 34-15 33-12 33-10 33-6 33-4 33 1 33 3 34 7 33 9 33 11 33 14 33 15 33 16 33 18 34 19 33 20 33 21 33 21 33 21 33 21 33 20 34 20 33 18 33 18 33 18 33 17 33 19 33 19 34 22 33 23 33 25 33 26 33 26 33 26 33 24 34 22 33 20 33 17"/>
<path d="M600 2288l33-70 33-84 33-100 33-116 34-130 33-141 33-148 33-148 33-141 33-128 33-108 33-83 34-58 33-34 33-11 33 6 33 24 33 41 33 60 34 79 33 98 33 106 33 107 33 97 33 81 33 61 34 45 33 32 33 23 33 20 33 18 33 20 33 23 34 25 33 29 33 31 33 33 33 35 33 34 33 34 34 32 33 30 33 27 33 23 33 19 33 15 33 11 34 6 33 2 33-3 33-6 33-10 33-14 33-17 34-19 33-20 33-22 33-22 33-22 33-21 33-18 34-17 33-16 33-13 33-13 33-11 33-9 33-8 34-4 33 0 33 4 33 10 33 15 33 20 33 23 34 28 33 30 33 31 33 33 33 33 33 33 33 33 34 32 33 31 33 30 33 29 33 29 33 28 33 29 34 28 33 27 33 26 33 26 33 23 33 22 33 20 34 17 33 14 33 13"/>
<path d="M600 2427l33-59 33-72 33-87 33-102 34-116 33-125 33-132 33-131 33-126 33-115 33-97 33-78 34-57 33-39 33-24 33-15 33-6 33 3 33 14 34 30 33 47 33 59 33 64 33 61 33 51 33 36 34 23 33 12 33 6 33 5 33 5 33 9 33 13 34 18 33 23 33 26 33 30 33 34 33 35 33 37 34 37 33 36 33 36 33 34 33 31 33 29 33 26 34 22 33 18 33 14 33 11 33 6 33 3 33-1 34-4 33-7 33-10 33-12 33-13 33-14 33-15 34-14 33-14 33-11 33-9 33-7 33-2 33 2 34 5 33 10 33 14 33 18 33 20 33 23 33 25 34 27 33 27 33 28 33 28 33 28 33 27 33 27 34 27 33 26 33 26 33 25 33 24 33 24 33 24 34 24 33 23 33 22 33 22 33 20 33 19 33 18 34 16 33 15 33 12"/>
<path d="M600 2287l33-71 33-87 33-101 33-116 34-129 33-138 33-142 33-142 33-135 33-120 33-101 33-79 34-54 33-32 33-13 33 3 33 18 33 34 33 54 34 74 33 94 33 105 33 107 33 98 33 82 33 61 34 44 33 29 33 19 33 14 33 13 33 14 33 17 34 22 33 26 33 31 33 35 33 38 33 39 33 39 34 38 33 38 33 35 33 32 33 28 33 24 33 16 34 8 33-1 33-9 33-15 33-21 33-23 33-24 34-23 33-23 33-20 33-20 33-17 33-17 33-15 34-14 33-12 33-10 33-8 33-5 33-2 33 1 34 4 33 8 33 10 33 13 33 17 33 18 33 21 34 22 33 24 33 24 33 25 33 25 33 26 33 25 34 27 33 26 33 28 33 28 33 29 33 29 33 29 34 28 33 28 33 27 33 24 33 23 33 20 33 18 34 15 33 13 33 12"/>
<path d="M600 2346l33-60 33-75 33-93 33-112 34-132 33-148 33-162 33-167 33-165 33-152 33-129 33-99 34-62 33-27 33 6 33 28 33 39 33 43 33 47 34 57 33 76 33 98 33 113 33 113 33 98 33 75 34 52 33 34 33 23 33 17 33 16 33 15 33 17 34 18 33 19 33 21 33 21 33 22 33 22 33 22 34 21 33 19 33 18 33 16 33 14 33 11 33 8 34 6 33 3 33 0 33-3 33-4 33-6 33-8 34-8 33-9 33-9 33-9 33-9 33-8 33-8 34-6 33-6 33-5 33-3 33-1 33 0 33 2 34 4 33 8 33 10 33 14 33 18 33 21 33 24 34 26 33 28 33 28 33 28 33 28 33 27 33 25 34 25 33 23 33 23 33 22 33 22 33 22 33 22 34 23 33 22 33 22 33 21 33 20 33 20 33 18 34 16 33 14 33 13"/>
<path d="M600 2285l33-77 33-95 33-114 33-132 34-149 33-161 33-167 33-164 33-151 33-129 33-100 33-66 34-30 33 2 33 25 33 40 33 48 33 53 33 61 34 73 33 91 33 106 33 111 33 107 33 90 33 70 34 51 33 35 33 24 33 19 33 16 33 16 33 17 34 18 33 20 33 20 33 21 33 22 33 22 33 21 34 21 33 19 33 18 33 16 33 14 33 12 33 8 34 6 33 2 33 0 33-3 33-7 33-9 33-11 34-14 33-15 33-16 33-17 33-17 33-17 33-17 34-15 33-14 33-12 33-10 33-8 33-5 33-3 34 1 33 4 33 7 33 11 33 15 33 19 33 22 34 25 33 27 33 29 33 30 33 31 33 31 33 31 34 31 33 31 33 30 33 30 33 30 33 29 33 28 34 27 33 27 33 24 33 23 33 22 33 19 33 18 34 15 33 13 33 12"/>
<path d="M600 2322l33-62 33-80 33-99 33-120 34-143 33-162 33-175 33-181 33-177 33-159 33-131 33-95 34-55 33-18 33 11 33 33 33 48 33 63 33 85 34 109 33 129 33 135 33 126 33 105 33 78 33 54 34 38 33 27 33 23 33 21 33 22 33 23 33 25 34 25 33 27 33 26 33 26 33 25 33 23 33 21 34 17 33 14 33 10 33 5 33 2 33-3 33-6 34-9 33-11 33-13 33-14 33-15 33-17 33-18 34-18 33-20 33-20 33-19 33-19 33-17 33-15 34-12 33-9 33-6 33-2 33 2 33 5 33 10 34 13 33 18 33 20 33 24 33 27 33 30 33 31 34 34 33 34 33 34 33 35 33 34 33 34 33 33 34 32 33 31 33 30 33 29 33 28 33 26 33 26 34 24 33 23 33 21 33 20 33 17 33 16 33 14 34 12 33 10 33 9"/>
<path d="M600 2278l33-71 33-86 33-104 33-122 34-137 33-149 33-158 33-157 33-150 33-134 33-109 33-81 34-48 33-19 33 7 33 28 33 48 33 66 33 89 34 110 33 128 33 132 33 124 33 105 33 82 33 59 34 41 33 28 33 20 33 15 33 12 33 11 33 10 34 9 33 10 33 11 33 9 33 10 33 8 33 7 34 4 33 2 33-2 33-7 33-10 33-13 33-17 34-17 33-18 33-17 33-15 33-15 33-14 33-13 34-13 33-13 33-12 33-10 33-7 33-3 33 1 34 5 33 9 33 13 33 16 33 18 33 20 33 22 34 23 33 25 33 26 33 28 33 30 33 31 33 32 34 33 33 32 33 33 33 32 33 31 33 30 33 29 34 27 33 27 33 26 33 25 33 25 33 24 33 23 34 22 33 21 33 20 33 18 33 17 33 14 33 12 34 11 33 9 33 7"/>
<path d="M600 2313l33-77 33-94 33-111 33-127 34-142 33-152 33-157 33-156 33-145 33-128 33-104 33-77 34-48 33-21 33-1 33 14 33 25 33 39 33 57 34 80 33 103 33 117 33 121 33 110 33 91 33 70 34 50 33 35 33 25 33 19 33 16 33 15 33 15 34 16 33 19 33 21 33 22 33 25 33 25 33 26 34 26 33 24 33 23 33 20 33 17 33 14 33 11 34 6 33 3 33-1 33-5 33-9 33-12 33-14 34-18 33-19 33-20 33-22 33-21 33-21 33-19 34-17 33-15 33-12 33-8 33-5 33 0 33 4 34 9 33 13 33 17 33 21 33 24 33 27 33 30 34 32 33 33 33 33 33 34 33 32 33 31 33 30 34 29 33 27 33 26 33 26 33 25 33 26 33 25 34 25 33 24 33 23 33 22 33 20 33 17 33 15 34 13 33 11 33 8"/>
<path d="M600 2230l33-82 33-96 33-109 33-121 34-131 33-136 33-139 33-135 33-127 33-111 33-93 33-71 34-48 33-26 33-8 33 6 33 16 33 27 33 38 34 55 33 75 33 92 33 105 33 107 33 99 33 87 34 70 33 57 33 45 33 38 33 33 33 32 33 30 34 31 33 30 33 32 33 31 33 31 33 31 33 30 34 29 33 27 33 25 33 22 33 19 33 15 33 12 34 8 33 4 33 1 33-4 33-8 33-11 33-15 34-19 33-21 33-24 33-26 33-28 33-28 33-27 34-26 33-25 33-21 33-17 33-14 33-9 33-5 34 0 33 4 33 8 33 11 33 15 33 17 33 20 34 22 33 24 33 25 33 26 33 27 33 27 33 27 34 27 33 27 33 28 33 27 33 27 33 28 33 27 34 28 33 27 33 27 33 26 33 25 33 23 33 21 34 19 33 17 33 14"/>
<path d="M600 2336l33-65 33-82 33-103 33-125 34-146 33-165 33-179 33-183 33-177 33-160 33-130 33-93 34-51 33-9 33 26 33 51 33 67 33 75 33 81 34 88 33 97 33 102 33 104 33 94 33 80 33 60 34 44 33 30 33 22 33 19 33 18 33 18 33 20 34 21 33 23 33 24 33 24 33 25 33 25 33 24 34 22 33 22 33 19 33 17 33 15 33 12 33 9 34 6 33 2 33 0 33-4 33-6 33-9 33-11 34-13 33-15 33-15 33-15 33-15 33-14 33-12 34-10 33-8 33-4 33-1 33 3 33 7 33 10 34 13 33 16 33 17 33 18 33 19 33 20 33 20 34 20 33 21 33 21 33 22 33 22 33 23 33 23 34 23 33 22 33 23 33 23 33 24 33 23 33 24 34 24 33 23 33 23 33 22 33 20 33 19 33 17 34 15 33 14 33 11"/>
<path d="M600 2315l33-62 33-79 33-96 33-116 34-135 33-153 33-165 33-170 33-168 33-154 33-131 33-101 34-65 33-30 33 3 33 30 33 53 33 70 33 87 34 102 33 113 33 119 33 116 33 106 33 89 33 69 34 52 33 38 33 28 33 22 33 20 33 19 33 19 34 19 33 20 33 19 33 20 33 18 33 17 33 15 34 12 33 10 33 7 33 4 33 1 33-2 33-6 34-9 33-12 33-16 33-20 33-23 33-27 33-31 34-32 33-35 33-34 33-33 33-31 33-26 33-21 34-13 33-7 33 1 33 9 33 15 33 22 33 28 34 34 33 37 33 40 33 44 33 45 33 47 33 47 34 47 33 46 33 45 33 42 33 40 33 37 33 33 34 30 33 27 33 24 33 22 33 19 33 19 33 17 34 17 33 17 33 16 33 16 33 15 33 13 33 12 34 11 33 8 33 7"/>
<path d="M600 2306l33-71 33-88 33-105 33-122 34-139 33-150 33-158 33-157 33-148 33-132 33-108 33-79 34-47 33-18 33 9 33 30 33 46 33 61 33 75 34 88 33 100 33 106 33 105 33 97 33 82 33 64 34 47 33 34 33 25 33 19 33 16 33 15 33 15 34 17 33 17 33 18 33 18 33 19 33 19 33 18 34 17 33 15 33 13 33 11 33 7 33 4 33-1 34-5 33-9 33-14 33-17 33-20 33-22 33-22 34-22 33-20 33-19 33-16 33-14 33-13 33-11 34-10 33-8 33-6 33-4 33-1 33 3 33 7 34 12 33 16 33 20 33 24 33 28 33 30 33 31 34 33 33 34 33 34 33 34 33 33 33 33 33 32 34 32 33 31 33 30 33 29 33 27 33 27 33 26 34 24 33 23 33 22 33 20 33 19 33 17 33 15 34 14 33 13 33 11"/>
<path d="M600 2358l33-68 33-88 33-110 33-136 34-159 33-181 33-195 33-199 33-191 33-170 33-135 33-93 34-46 33-3 33 30 33 48 33 55 33 57 33 65 34 83 33 107 33 124 33 126 33 111 33 85 33 59 34 38 33 28 33 22 33 22 33 24 33 26 33 29 34 31 33 34 33 36 33 36 33 37 33 37 33 36 34 35 33 32 33 30 33 27 33 24 33 20 33 16 34 13 33 8 33 4 33 0 33-3 33-7 33-10 34-13 33-15 33-19 33-20 33-23 33-23 33-25 34-24 33-24 33-23 33-20 33-18 33-14 33-11 34-5 33 0 33 4 33 10 33 15 33 18 33 22 34 25 33 27 33 29 33 30 33 30 33 31 33 31 34 30 33 30 33 30 33 29 33 28 33 28 33 27 34 27 33 25 33 25 33 22 33 21 33 20 33 17 34 15 33 13 33 11"/>
<path d="M600 2376l33-68 33-87 33-109 33-133 34-155 33-176 33-188 33-193 33-185 33-166 33-136 33-97 34-57 33-18 33 15 33 36 33 49 33 54 33 57 34 63 33 70 33 77 33 82 33 79 33 71 33 60 34 50 33 42 33 40 33 40 33 42 33 46 33 48 34 50 33 51 33 52 33 51 33 50 33 46 33 44 34 40 33 35 33 31 33 26 33 21 33 15 33 11 34 5 33 0 33-5 33-8 33-13 33-15 33-19 34-20 33-22 33-22 33-23 33-23 33-22 33-23 34-21 33-21 33-19 33-17 33-13 33-7 33-2 34 5 33 11 33 18 33 24 33 28 33 31 33 32 34 34 33 34 33 34 33 33 33 33 33 31 33 31 34 30 33 29 33 28 33 26 33 26 33 24 33 24 34 21 33 21 33 19 33 18 33 16 33 14 33 13 34 12 33 10 33 8"/>
<path d="M600 2295l33-68 33-87 33-111 33-135 34-161 33-181 33-196 33-199 33-190 33-165 33-127 33-79 34-27 33 23 33 65 33 94 33 108 33 109 33 103 34 97 33 94 33 95 33 95 33 92 33 82 33 68 34 51 33 37 33 25 33 18 33 15 33 13 33 14 34 14 33 15 33 15 33 16 33 16 33 15 33 14 34 14 33 12 33 11 33 9 33 6 33 5 33 2 34-1 33-3 33-5 33-8 33-11 33-13 33-16 34-18 33-22 33-24 33-27 33-28 33-28 33-27 34-25 33-20 33-13 33-5 33 2 33 11 33 18 34 24 33 29 33 31 33 33 33 34 33 34 33 34 34 34 33 33 33 32 33 32 33 31 33 31 33 30 34 28 33 28 33 26 33 25 33 23 33 23 33 20 34 20 33 18 33 17 33 17 33 15 33 14 33 14 34 12 33 12 33 10"/>
<path d="M600 2257l33-68 33-83 33-102 33-120 34-137 33-150 33-157 33-157 33-146 33-126 33-98 33-62 34-25 33 11 33 40 33 59 33 69 33 69 33 65 34 62 33 64 33 71 33 79 33 81 33 76 33 64 34 49 33 32 33 21 33 12 33 7 33 7 33 8 34 11 33 14 33 18 33 21 33 23 33 24 33 24 34 22 33 21 33 18 33 15 33 13 33 11 33 9 34 7 33 6 33 4 33 3 33 0 33-2 33-6 34-11 33-14 33-18 33-20 33-22 33-22 33-21 34-18 33-15 33-11 33-7 33-4 33 1 33 5 34 9 33 12 33 16 33 19 33 22 33 24 33 27 34 29 33 30 33 31 33 31 33 31 33 31 33 29 34 28 33 26 33 25 33 24 33 23 33 22 33 21 34 22 33 21 33 22 33 21 33 20 33 19 33 18 34 16 33 15 33 12"/>
<path d="M600 2283l33-74 33-90 33-107 33-124 34-140 33-152 33-160 33-161 33-153 33-138 33-115 33-87 34-55 33-25 33-1 33 17 33 28 33 38 33 51 34 72 33 94 33 112 33 119 33 112 33 95 33 76 34 59 33 47 33 39 33 36 33 36 33 36 33 36 34 38 33 38 33 39 33 39 33 37 33 37 33 34 34 32 33 28 33 24 33 20 33 14 33 9 33 3 34-3 33-8 33-13 33-18 33-22 33-26 33-27 34-30 33-31 33-31 33-30 33-28 33-27 33-23 34-19 33-14 33-8 33-2 33 4 33 10 33 15 34 20 33 23 33 25 33 25 33 26 33 25 33 25 34 25 33 25 33 26 33 26 33 27 33 26 33 26 34 24 33 24 33 23 33 23 33 24 33 24 33 25 34 25 33 26 33 25 33 23 33 22 33 19 33 16 34 13 33 11 33 8"/>
<path d="M600 2325l33-70 33-87 33-106 33-126 34-145 33-160 33-170 33-173 33-166 33-150 33-124 33-92 34-54 33-19 33 11 33 32 33 43 33 49 33 56 34 70 33 90 33 111 33 123 33 122 33 107 33 85 34 63 33 46 33 36 33 31 33 28 33 30 33 30 34 31 33 32 33 32 33 32 33 31 33 29 33 28 34 26 33 23 33 21 33 19 33 15 33 12 33 8 34 4 33 0 33-4 33-9 33-13 33-17 33-21 34-24 33-29 33-31 33-33 33-36 33-36 33-36 34-34 33-32 33-29 33-24 33-19 33-14 33-7 34-1 33 5 33 11 33 17 33 22 33 27 33 32 34 36 33 38 33 41 33 42 33 43 33 44 33 42 34 42 33 41 33 38 33 37 33 34 33 32 33 29 34 27 33 25 33 22 33 20 33 17 33 16 33 13 34 12 33 10 33 8"/>
<path d="M600 2224l33-71 33-89 33-106 33-125 34-143 33-156 33-166 33-166 33-156 33-138 33-109 33-74 34-35 33 4 33 37 33 62 33 76 33 81 33 81 34 83 33 87 33 94 33 96 33 93 33 82 33 68 34 52 33 39 33 32 33 28 33 26 33 26 33 26 34 27 33 28 33 28 33 28 33 27 33 26 33 25 34 24 33 21 33 19 33 16 33 12 33 9 33 5 34 2 33-3 33-6 33-9 33-12 33-14 33-14 34-14 33-14 33-12 33-11 33-10 33-10 33-11 34-13 33-16 33-18 33-19 33-20 33-19 33-14 34-10 33-4 33 2 33 10 33 15 33 21 33 25 34 29 33 32 33 33 33 35 33 35 33 35 33 34 34 33 33 32 33 30 33 28 33 27 33 26 33 24 34 23 33 21 33 21 33 19 33 18 33 16 33 14 34 13 33 11 33 10"/>
<path d="M600 2293l33-60 33-74 33-92 33-111 34-128 33-144 33-155 33-158 33-150 33-134 33-108 33-73 34-34 33 5 33 38 33 60 33 68 33 63 33 50 34 41 33 45 33 63 33 86 33 101 33 99 33 84 34 61 33 40 33 26 33 17 33 14 33 13 33 13 34 14 33 15 33 16 33 16 33 18 33 17 33 18 34 17 33 16 33 14 33 12 33 9 33 6 33 3 34-2 33-5 33-9 33-13 33-17 33-19 33-23 34-24 33-25 33-26 33-24 33-23 33-20 33-15 34-10 33-4 33 2 33 7 33 13 33 15 33 16 34 17 33 14 33 13 33 12 33 11 33 12 33 15 34 19 33 23 33 27 33 30 33 34 33 35 33 36 34 36 33 36 33 34 33 32 33 31 33 30 33 28 34 26 33 25 33 23 33 22 33 20 33 18 33 16 34 14 33 12 33 11"/>
<path d="M600 2324l33-66 33-80 33-97 33-115 34-132 33-145 33-154 33-156 33-150 33-135 33-113 33-84 34-53 33-22 33 3 33 19 33 27 33 32 33 36 34 47 33 64 33 84 33 98 33 100 33 91 33 73 34 55 33 41 33 32 33 26 33 26 33 26 33 26 34 27 33 28 33 27 33 28 33 28 33 27 33 27 34 27 33 25 33 23 33 22 33 18 33 16 33 12 34 9 33 5 33 2 33-2 33-5 33-8 33-10 34-13 33-13 33-14 33-15 33-14 33-12 33-11 34-8 33-6 33-3 33 0 33 3 33 6 33 8 34 10 33 11 33 13 33 14 33 14 33 16 33 15 34 17 33 17 33 18 33 18 33 19 33 20 33 20 34 21 33 21 33 22 33 22 33 23 33 24 33 24 34 24 33 25 33 25 33 23 33 23 33 21 33 19 34 17 33 15 33 12"/>
<path d="M600 2330l33-64 33-81 33-98 33-115 34-132 33-146 33-154 33-156 33-149 33-133 33-109 33-79 34-46 33-13 33 13 33 31 33 38 33 34 33 26 34 25 33 33 33 52 33 75 33 89 33 92 33 81 34 64 33 49 33 36 33 30 33 27 33 26 33 26 34 25 33 26 33 25 33 25 33 23 33 21 33 19 34 17 33 13 33 9 33 6 33 1 33-1 33-3 34-5 33-5 33-4 33-5 33-4 33-4 33-5 34-6 33-8 33-10 33-11 33-12 33-11 33-11 34-9 33-6 33-3 33 0 33 5 33 8 33 13 34 17 33 20 33 25 33 27 33 30 33 33 33 34 34 35 33 35 33 35 33 33 33 32 33 30 33 27 34 26 33 25 33 24 33 24 33 24 33 25 33 24 34 25 33 25 33 23 33 21 33 20 33 16 33 15 34 11 33 10 33 7"/>
<path d="M600 2324l33-67 33-85 33-106 33-128 34-148 33-166 33-178 33-181 33-173 33-154 33-125 33-87 34-45 33-6 33 28 33 53 33 70 33 82 33 93 34 104 33 114 33 118 33 111 33 95 33 72 33 52 34 33 33 22 33 14 33 12 33 12 33 12 33 15 34 16 33 19 33 20 33 22 33 23 33 23 33 24 34 25 33 24 33 24 33 22 33 21 33 18 33 14 34 10 33 4 33-1 33-6 33-11 33-14 33-15 34-17 33-16 33-16 33-16 33-14 33-14 33-13 34-12 33-11 33-9 33-8 33-6 33-5 33-1 34 0 33 4 33 7 33 11 33 15 33 18 33 22 34 25 33 28 33 31 33 31 33 33 33 33 33 32 34 31 33 30 33 29 33 27 33 25 33 25 33 23 34 22 33 21 33 20 33 19 33 19 33 17 33 15 34 14 33 13 33 12"/>
<path d="M600 2348l33-67 33-82 33-97 33-112 34-126 33-135 33-141 33-140 33-133 33-119 33-100 33-75 34-49 33-25 33-5 33 9 33 18 33 22 33 32 34 45 33 63 33 80 33 91 33 89 33 78 33 61 34 43 33 29 33 20 33 15 33 14 33 15 33 17 34 21 33 23 33 26 33 29 33 29 33 29 33 29 34 26 33 23 33 21 33 20 33 18 33 17 33 17 34 15 33 13 33 11 33 7 33 3 33-1 33-6 34-10 33-14 33-18 33-22 33-24 33-27 33-27 34-28 33-26 33-25 33-21 33-17 33-13 33-8 34-2 33 3 33 9 33 14 33 20 33 24 33 29 34 32 33 35 33 37 33 39 33 41 33 40 33 41 34 39 33 39 33 38 33 35 33 34 33 32 33 30 34 28 33 26 33 23 33 21 33 19 33 16 33 15 34 13 33 10 33 9"/>
<path d="M600 2308l33-71 33-88 33-104 33-122 34-139 33-151 33-159 33-160 33-154 33-139 33-116 33-88 34-56 33-24 33 3 33 22 33 33 33 37 33 42 34 53 33 70 33 90 33 105 33 108 33 98 33 80 34 61 33 46 33 35 33 29 33 27 33 27 33 25 34 25 33 22 33 20 33 19 33 17 33 15 33 16 34 16 33 17 33 17 33 19 33 18 33 19 33 18 34 18 33 16 33 14 33 11 33 8 33 5 33 1 34-3 33-6 33-9 33-12 33-14 33-14 33-15 34-15 33-14 33-12 33-10 33-8 33-5 33-1 34 1 33 5 33 8 33 12 33 14 33 18 33 20 34 22 33 24 33 25 33 26 33 27 33 27 33 26 34 26 33 26 33 25 33 23 33 24 33 22 33 22 34 22 33 21 33 20 33 20 33 20 33 18 33 18 34 16 33 15 33 14"/>
<path d="M600 2338l33-71 33-88 33-108 33-129 34-149 33-165 33-176 33-178 33-170 33-152 33-123 33-89 34-49 33-13 33 17 33 34 33 40 33 39 33 42 34 53 33 75 33 98 33 113 33 112 33 95 33 72 34 50 33 35 33 26 33 22 33 23 33 24 33 27 34 30 33 31 33 33 33 35 33 35 33 36 33 35 34 34 33 33 33 32 33 31 33 29 33 30 33 28 34 28 33 27 33 23 33 18 33 11 33 0 33-9 34-19 33-26 33-31 33-32 33-31 33-29 33-25 34-21 33-17 33-13 33-10 33-6 33-2 33 1 34 5 33 8 33 11 33 14 33 16 33 18 33 19 34 21 33 20 33 21 33 21 33 21 33 20 33 19 34 18 33 19 33 18 33 18 33 19 33 20 33 21 34 22 33 23 33 24 33 23 33 24 33 22 33 20 34 18 33 16 33 14"/>
<path d="M600 2338l33-55 33-72 33-92 33-115 34-140 33-164 33-181 33-190 33-188 33-172 33-140 33-99 34-51 33-4 33 37 33 67 33 84 33 93 33 98 34 103 33 108 33 108 33 102 33 86 33 67 33 45 34 29 33 17 33 11 33 11 33 12 33 15 33 19 34 24 33 26 33 29 33 31 33 31 33 30 33 28 34 27 33 24 33 22 33 19 33 15 33 13 33 10 34 7 33 3 33 0 33-3 33-7 33-10 33-13 34-16 33-19 33-21 33-23 33-24 33-25 33-24 34-25 33-23 33-22 33-19 33-17 33-14 33-10 34-7 33-2 33 2 33 6 33 10 33 15 33 18 34 22 33 25 33 28 33 30 33 32 33 32 33 34 34 34 33 33 33 33 33 32 33 32 33 31 33 30 34 30 33 29 33 27 33 27 33 25 33 24 33 22 34 20 33 17 33 16"/>
<path d="M600 2174l33-77 33-91 33-105 33-117 34-128 33-137 33-140 33-137 33-129 33-115 33-93 33-69 34-43 33-16 33 6 33 23 33 34 33 39 33 44 34 54 33 67 33 83 33 96 33 100 33 95 33 83 34 68 33 57 33 48 33 43 33 41 33 42 33 43 34 44 33 43 33 43 33 41 33 38 33 34 33 29 34 24 33 20 33 14 33 10 33 6 33 2 33-2 34-5 33-8 33-11 33-13 33-16 33-17 33-18 34-20 33-21 33-21 33-21 33-20 33-20 33-18 34-16 33-14 33-10 33-8 33-4 33-1 33 3 34 7 33 10 33 13 33 17 33 19 33 22 33 24 34 25 33 27 33 28 33 28 33 29 33 29 33 28 34 28 33 27 33 27 33 25 33 25 33 24 33 22 34 22 33 21 33 19 33 18 33 17 33 15 33 14 34 13 33 11 33 9"/>
<path d="M600 2294l33-64 33-81 33-101 33-121 34-142 33-161 33-172 33-178 33-172 33-155 33-128 33-91 34-51 33-11 33 23 33 47 33 64 33 74 33 85 34 98 33 111 33 117 33 114 33 99 33 77 33 57 34 39 33 27 33 21 33 18 33 17 33 18 33 20 34 20 33 22 33 22 33 22 33 23 33 21 33 20 34 18 33 15 33 12 33 8 33 4 33 1 33-3 34-6 33-9 33-10 33-11 33-10 33-10 33-9 34-9 33-7 33-6 33-6 33-7 33-6 33-6 34-5 33-5 33-2 33-1 33 2 33 4 33 7 34 10 33 12 33 15 33 17 33 20 33 21 33 23 34 24 33 25 33 26 33 26 33 26 33 27 33 26 34 26 33 25 33 24 33 24 33 23 33 22 33 22 34 22 33 21 33 20 33 20 33 19 33 19 33 17 34 16 33 15 33 13"/>
<path d="M600 2279l33-67 33-83 33-98 33-116 34-129 33-142 33-147 33-147 33-137 33-121 33-95 33-65 34-32 33-1 33 25 33 41 33 47 33 50 33 51 34 61 33 77 33 95 33 104 33 102 33 87 33 66 34 46 33 31 33 21 33 16 33 13 33 13 33 13 34 14 33 14 33 15 33 14 33 14 33 14 33 13 34 12 33 10 33 8 33 6 33 4 33 1 33-1 34-5 33-7 33-11 33-13 33-16 33-19 33-22 34-23 33-26 33-26 33-27 33-27 33-26 33-24 34-21 33-18 33-14 33-8 33-4 33 1 33 7 34 13 33 17 33 23 33 28 33 33 33 36 33 40 34 42 33 44 33 44 33 44 33 43 33 41 33 39 34 36 33 34 33 32 33 30 33 28 33 28 33 26 34 26 33 24 33 23 33 22 33 20 33 19 33 16 34 14 33 12 33 10"/>
<path d="M600 2311l33-65 33-83 33-102 33-124 34-145 33-163 33-176 33-180 33-173 33-156 33-127 33-90 34-48 33-6 33 31 33 57 33 74 33 81 33 84 34 86 33 90 33 96 33 101 33 100 33 90 33 76 34 59 33 43 33 31 33 22 33 19 33 17 33 18 34 18 33 18 33 20 33 20 33 20 33 20 33 19 34 19 33 16 33 15 33 13 33 10 33 7 33 4 34 1 33-2 33-5 33-8 33-12 33-14 33-16 34-19 33-20 33-22 33-23 33-24 33-24 33-25 34-25 33-25 33-24 33-22 33-20 33-15 33-9 34-2 33 7 33 16 33 25 33 33 33 38 33 42 34 45 33 45 33 44 33 43 33 40 33 38 33 36 34 34 33 32 33 30 33 29 33 28 33 27 33 26 34 24 33 23 33 23 33 20 33 20 33 17 33 16 34 14 33 13 33 11"/>
<path d="M600 2277l33-77 33-92 33-108 33-125 34-139 33-151 33-155 33-156 33-147 33-131 33-110 33-83 34-56 33-29 33-8 33 9 33 22 33 33 33 48 34 66 33 87 33 103 33 113 33 112 33 100 33 84 34 66 33 51 33 39 33 33 33 30 33 29 33 29 34 29 33 29 33 30 33 30 33 29 33 28 33 26 34 24 33 22 33 19 33 15 33 12 33 9 33 4 34 1 33-4 33-6 33-11 33-13 33-17 33-19 34-22 33-24 33-25 33-26 33-27 33-25 33-22 34-19 33-15 33-9 33-1 33 5 33 13 33 20 34 27 33 33 33 39 33 43 33 46 33 46 33 45 34 42 33 38 33 32 33 27 33 23 33 21 33 19 34 19 33 19 33 19 33 20 33 20 33 20 33 20 34 19 33 17 33 17 33 15 33 14 33 12 33 11 34 10 33 8 33 7"/>
<path d="M600 2344l33-62 33-77 33-94 33-112 34-129 33-144 33-154 33-158 33-153 33-139 33-117 33-88 34-54 33-21 33 11 33 35 33 48 33 55 33 57 34 58 33 63 33 75 33 84 33 90 33 86 33 75 34 59 33 43 33 30 33 23 33 18 33 18 33 18 34 19 33 21 33 22 33 24 33 25 33 26 33 26 34 26 33 26 33 24 33 24 33 21 33 19 33 16 34 12 33 7 33 2 33-3 33-8 33-13 33-18 34-22 33-25 33-27 33-29 33-30 33-28 33-28 34-25 33-23 33-19 33-15 33-11 33-6 33-2 34 3 33 7 33 12 33 16 33 20 33 23 33 26 34 29 33 30 33 32 33 32 33 32 33 33 33 32 34 33 33 32 33 31 33 32 33 31 33 31 33 31 34 30 33 28 33 27 33 25 33 22 33 20 33 18 34 15 33 13 33 10"/>
<path d="M600 2345l33-65 33-80 33-98 33-117 34-135 33-152 33-163 33-168 33-165 33-154 33-132 33-104 34-70 33-37 33-5 33 19 33 38 33 50 33 62 34 74 33 89 33 102 33 109 33 106 33 96 33 79 34 61 33 47 33 38 33 31 33 28 33 27 33 27 34 26 33 27 33 26 33 26 33 24 33 24 33 23 34 21 33 20 33 17 33 15 33 11 33 8 33 4 34 0 33-4 33-7 33-10 33-12 33-12 33-13 34-13 33-12 33-12 33-11 33-10 33-10 33-9 34-9 33-8 33-7 33-6 33-4 33-1 33 1 34 4 33 7 33 11 33 14 33 17 33 19 33 23 34 24 33 26 33 28 33 28 33 29 33 28 33 29 34 29 33 27 33 28 33 26 33 26 33 26 33 24 34 24 33 23 33 22 33 21 33 20 33 18 33 17 34 15 33 13 33 12"/>
<path d="M600 2266l33-79 33-97 33-118 33-138 34-157 33-172 33-181 33-180 33-171 33-150 33-120 33-82 34-41 33-1 33 33 33 55 33 66 33 70 33 72 34 79 33 94 33 111 33 121 33 119 33 105 33 83 34 61 33 44 33 33 33 28 33 26 33 26 33 28 34 29 33 30 33 31 33 30 33 30 33 28 33 27 34 23 33 21 33 18 33 15 33 11 33 8 33 4 34 1 33-2 33-6 33-8 33-12 33-14 33-16 34-19 33-20 33-21 33-22 33-22 33-22 33-21 34-20 33-19 33-17 33-16 33-13 33-10 33-7 34-3 33 1 33 8 33 13 33 20 33 26 33 31 34 36 33 39 33 40 33 41 33 41 33 39 33 38 34 35 33 33 33 32 33 29 33 28 33 26 33 24 34 22 33 21 33 19 33 18 33 16 33 14 33 13 34 11 33 10 33 8"/>
<path d="M600 2336l33-58 33-74 33-93 33-115 34-136 33-155 33-171 33-177 33-174 33-158 33-132 33-94 34-51 33-7 33 32 33 58 33 64 33 54 33 38 34 39 33 64 33 105 33 133 33 132 33 104 33 68 34 38 33 20 33 12 33 11 33 12 33 14 33 18 34 20 33 24 33 25 33 28 33 28 33 28 33 28 34 27 33 25 33 22 33 20 33 16 33 12 33 7 34 3 33-3 33-9 33-15 33-22 33-27 33-33 34-35 33-35 33-33 33-29 33-23 33-18 33-13 34-9 33-6 33-5 33-3 33-1 33 0 33 3 34 7 33 11 33 15 33 20 33 24 33 28 33 31 34 34 33 35 33 37 33 37 33 36 33 35 33 34 34 32 33 31 33 30 33 29 33 29 33 30 33 29 34 29 33 29 33 28 33 26 33 24 33 21 33 19 34 16 33 12 33 11"/>
<path d="M600 2296l33-78 33-96 33-116 33-136 34-153 33-167 33-175 33-173 33-162 33-141 33-112 33-75 34-37 33 1 33 32 33 54 33 66 33 72 33 74 34 79 33 88 33 96 33 101 33 96 33 84 33 69 34 53 33 42 33 35 33 31 33 30 33 31 33 31 34 32 33 31 33 32 33 30 33 29 33 27 33 25 34 21 33 18 33 15 33 10 33 7 33 3 33 0 34-4 33-6 33-9 33-11 33-14 33-15 33-19 34-21 33-22 33-23 33-23 33-20 33-16 33-10 34-5 33 1 33 6 33 9 33 10 33 10 33 9 34 8 33 8 33 8 33 9 33 13 33 15 33 19 34 23 33 26 33 28 33 29 33 30 33 30 33 30 34 29 33 28 33 27 33 27 33 26 33 24 33 24 34 24 33 21 33 21 33 19 33 17 33 15 33 13 34 11 33 9 33 8"/>
<path d="M600 2334l33-58 33-74 33-91 33-111 34-130 33-146 33-158 33-163 33-156 33-142 33-115 33-84 34-49 33-16 33 11 33 29 33 39 33 48 33 57 34 69 33 84 33 95 33 97 33 88 33 72 33 51 34 34 33 20 33 14 33 12 33 13 33 16 33 20 34 23 33 26 33 27 33 28 33 28 33 27 33 26 34 24 33 21 33 20 33 16 33 14 33 10 33 8 34 4 33 1 33-2 33-6 33-8 33-10 33-14 34-15 33-16 33-18 33-19 33-19 33-18 33-17 34-16 33-14 33-12 33-9 33-5 33-2 33 1 34 6 33 9 33 13 33 17 33 20 33 24 33 26 34 28 33 29 33 31 33 31 33 30 33 31 33 29 34 29 33 29 33 29 33 29 33 29 33 30 33 30 34 31 33 30 33 28 33 27 33 24 33 22 33 19 34 17 33 14 33 11"/>
<path d="M600 2306l33-79 33-101 33-123 33-146 34-169 33-185 33-194 33-193 33-180 33-155 33-118 33-75 34-29 33 16 33 50 33 74 33 85 33 84 33 80 34 76 33 79 33 86 33 92 33 93 33 85 33 72 34 56 33 41 33 31 33 25 33 24 33 23 33 25 34 27 33 29 33 29 33 31 33 31 33 31 33 30 34 30 33 28 33 27 33 24 33 22 33 20 33 16 34 14 33 10 33 8 33 4 33 1 33-2 33-5 34-8 33-10 33-13 33-14 33-17 33-17 33-19 34-20 33-21 33-21 33-21 33-20 33-20 33-17 34-15 33-9 33-4 33 3 33 11 33 16 33 23 34 26 33 29 33 30 33 30 33 29 33 29 33 29 34 28 33 28 33 27 33 28 33 28 33 28 33 27 34 26 33 26 33 25 33 23 33 21 33 20 33 17 34 16 33 13 33 12"/>
<path d="M600 2382l33-66 33-84 33-107 33-129 34-152 33-172 33-186 33-191 33-185 33-167 33-137 33-99 34-54 33-11 33 26 33 48 33 54 33 52 33 57 34 78 33 113 33 141 33 143 33 121 33 85 33 52 34 30 33 18 33 12 33 10 33 9 33 10 33 12 34 13 33 16 33 18 33 20 33 23 33 23 33 25 34 24 33 24 33 23 33 21 33 21 33 18 33 18 34 14 33 13 33 9 33 5 33 2 33-1 33-4 34-7 33-8 33-9 33-10 33-10 33-10 33-9 34-8 33-8 33-5 33-4 33-2 33 0 33 3 34 5 33 7 33 9 33 12 33 14 33 17 33 17 34 20 33 21 33 21 33 23 33 23 33 23 33 24 34 24 33 23 33 24 33 23 33 23 33 23 33 22 34 22 33 21 33 21 33 20 33 19 33 17 33 16 34 15 33 14 33 12"/>
<path d="M600 2295l33-67 33-81 33-96 33-111 34-125 33-136 33-142 33-143 33-136 33-121 33-102 33-76 34-48 33-24 33-3 33 10 33 16 33 20 33 29 34 47 33 73 33 100 33 116 33 119 33 105 33 84 34 60 33 41 33 27 33 19 33 15 33 13 33 12 34 14 33 14 33 15 33 16 33 17 33 18 33 18 34 18 33 17 33 16 33 15 33 13 33 11 33 7 34 5 33 2 33-2 33-4 33-7 33-10 33-12 34-12 33-14 33-13 33-13 33-13 33-11 33-10 34-8 33-7 33-6 33-3 33-2 33 1 33 3 34 5 33 8 33 11 33 14 33 16 33 19 33 21 34 23 33 24 33 26 33 27 33 29 33 28 33 29 34 30 33 29 33 29 33 29 33 28 33 28 33 27 34 25 33 25 33 23 33 21 33 20 33 19 33 17 34 15 33 13 33 12"/>
<path d="M600 2347l33-63 33-82 33-105 33-132 34-157 33-181 33-198 33-205 33-198 33-177 33-140 33-94 34-41 33 10 33 52 33 82 33 97 33 100 33 99 34 97 33 98 33 102 33 102 33 98 33 85 33 67 34 49 33 34 33 22 33 15 33 12 33 12 33 13 34 14 33 15 33 17 33 17 33 19 33 18 33 19 34 18 33 19 33 17 33 16 33 16 33 13 33 12 34 10 33 7 33 5 33 2 33-2 33-4 33-7 34-11 33-12 33-15 33-17 33-17 33-19 33-18 34-18 33-17 33-16 33-13 33-9 33-5 33 0 34 8 33 13 33 20 33 25 33 28 33 29 33 29 34 26 33 24 33 21 33 20 33 18 33 18 33 18 34 20 33 21 33 22 33 23 33 25 33 24 33 26 34 24 33 25 33 23 33 23 33 21 33 19 33 18 34 17 33 14 33 13"/>
<path d="M600 2286l33-76 33-95 33-115 33-134 34-152 33-164 33-171 33-167 33-153 33-131 33-97 33-60 34-21 33 17 33 47 33 67 33 78 33 81 33 80 34 80 33 81 33 85 33 87 33 88 33 82 33 73 34 61 33 51 33 40 33 31 33 25 33 17 33 12 34 5 33 2 33-1 33-1 33-1 33 2 33 5 34 7 33 9 33 10 33 9 33 9 33 8 33 5 34 4 33 0 33-2 33-6 33-9 33-13 33-15 34-19 33-21 33-22 33-22 33-19 33-17 33-12 34-7 33-2 33 3 33 6 33 9 33 11 33 14 34 14 33 16 33 18 33 20 33 21 33 23 33 25 34 26 33 27 33 27 33 26 33 25 33 22 33 21 34 20 33 19 33 19 33 20 33 23 33 26 33 29 34 30 33 32 33 30 33 28 33 25 33 22 33 19 34 15 33 12 33 10"/>
<path d="M600 2329l33-74 33-90 33-107 33-122 34-136 33-146 33-151 33-149 33-141 33-124 33-102 33-76 34-47 33-22 33-2 33 11 33 16 33 21 33 28 34 43 33 67 33 91 33 105 33 108 33 95 33 77 34 57 33 40 33 29 33 22 33 19 33 18 33 18 34 18 33 18 33 18 33 18 33 18 33 16 33 16 34 15 33 13 33 11 33 10 33 9 33 8 33 8 34 8 33 7 33 8 33 7 33 8 33 7 33 6 34 6 33 3 33 3 33 1 33 0 33-2 33-2 34-2 33-2 33-2 33-1 33 1 33 3 33 4 34 6 33 8 33 11 33 12 33 14 33 15 33 18 34 18 33 20 33 21 33 21 33 22 33 23 33 22 34 23 33 23 33 23 33 22 33 23 33 21 33 22 34 21 33 20 33 19 33 19 33 17 33 17 33 16 34 14 33 14 33 12"/>
<path d="M600 2289l33-57 33-74 33-93 33-116 34-138 33-161 33-180 33-191 33-192 33-181 33-156 33-120 34-74 33-26 33 19 33 56 33 82 33 96 33 102 34 107 33 114 33 121 33 127 33 123 33 110 33 90 34 69 33 50 33 36 33 26 33 21 33 19 33 16 34 14 33 13 33 11 33 11 33 9 33 10 33 11 34 12 33 14 33 16 33 17 33 17 33 16 33 13 34 9 33 5 33-1 33-6 33-11 33-16 33-19 34-23 33-26 33-27 33-29 33-28 33-28 33-27 34-25 33-23 33-19 33-15 33-11 33-7 33-2 34 4 33 8 33 14 33 18 33 24 33 27 33 30 34 33 33 35 33 37 33 36 33 37 33 36 33 35 34 34 33 33 33 31 33 30 33 29 33 28 33 28 34 27 33 27 33 25 33 24 33 22 33 20 33 17 34 16 33 13 33 10"/>
<path d="M600 2280l33-64 33-80 33-99 33-121 34-144 33-162 33-177 33-181 33-176 33-158 33-126 33-87 34-42 33 2 33 40 33 67 33 81 33 85 33 83 34 82 33 84 33 90 33 93 33 92 33 83 33 69 34 53 33 41 33 32 33 27 33 25 33 25 33 25 34 25 33 25 33 25 33 25 33 25 33 23 33 22 34 22 33 20 33 18 33 16 33 15 33 11 33 10 34 6 33 4 33 2 33-1 33-3 33-4 33-7 34-7 33-9 33-10 33-12 33-13 33-13 33-16 34-16 33-17 33-17 33-17 33-16 33-14 33-11 34-9 33-4 33 0 33 4 33 9 33 13 33 17 34 20 33 24 33 25 33 27 33 28 33 28 33 28 34 28 33 26 33 26 33 26 33 24 33 25 33 24 34 24 33 24 33 24 33 23 33 23 33 22 33 20 34 18 33 17 33 15"/>
<path d="M600 2322l33-66 33-86 33-108 33-134 34-157 33-179 33-192 33-195 33-184 33-159 33-122 33-73 34-21 33 28 33 70 33 98 33 111 33 115 33 113 34 116 33 120 33 122 33 117 33 99 33 70 33 39 34 11 33-7 33-17 33-21 33-19 33-16 33-11 34-7 33-4 33 0 33 3 33 6 33 8 33 11 34 14 33 16 33 17 33 18 33 18 33 17 33 15 34 12 33 9 33 6 33 3 33 0 33-4 33-5 34-8 33-9 33-10 33-11 33-10 33-10 33-9 34-7 33-5 33-3 33 0 33 4 33 6 33 11 34 13 33 18 33 20 33 24 33 26 33 29 33 31 34 32 33 33 33 34 33 34 33 34 33 33 33 32 34 30 33 29 33 27 33 25 33 23 33 22 33 19 34 18 33 17 33 15 33 14 33 12 33 11 33 10 34 10 33 8 33 7"/>
<path d="M600 2311l33-68 33-83 33-99 33-117 34-132 33-144 33-152 33-153 33-146 33-129 33-107 33-79 34-48 33-21 33 1 33 15 33 23 33 29 33 38 34 52 33 73 33 91 33 102 33 101 33 89 33 72 34 54 33 40 33 32 33 27 33 26 33 27 33 27 34 28 33 28 33 27 33 26 33 22 33 19 33 15 34 11 33 7 33 6 33 5 33 7 33 9 33 10 34 12 33 13 33 10 33 8 33 5 33 1 33-3 34-5 33-8 33-10 33-11 33-13 33-14 33-13 34-14 33-13 33-12 33-10 33-8 33-6 33-4 34-1 33 3 33 5 33 7 33 11 33 13 33 16 34 18 33 20 33 22 33 23 33 25 33 25 33 26 34 28 33 27 33 28 33 29 33 29 33 28 33 28 34 28 33 27 33 26 33 25 33 23 33 22 33 20 34 18 33 16 33 15"/>
<path d="M600 2268l33-69 33-87 33-105 33-124 34-140 33-154 33-161 33-160 33-150 33-130 33-101 33-68 34-31 33 1 33 27 33 47 33 59 33 68 33 75 34 85 33 95 33 100 33 100 33 90 33 75 33 56 34 38 33 22 33 12 33 6 33 3 33 3 33 4 34 7 33 11 33 13 33 16 33 19 33 20 33 22 34 21 33 21 33 19 33 18 33 15 33 12 33 10 34 7 33 5 33 1 33-1 33-5 33-7 33-9 34-12 33-14 33-14 33-16 33-16 33-16 33-14 34-14 33-11 33-9 33-7 33-3 33 0 33 4 34 8 33 11 33 15 33 19 33 22 33 25 33 28 34 29 33 32 33 32 33 33 33 33 33 32 33 32 34 31 33 30 33 28 33 27 33 27 33 25 33 24 34 23 33 23 33 21 33 21 33 19 33 17 33 17 34 14 33 13 33 11"/>
<path d="M600 2279l33-65 33-81 33-101 33-121 34-143 33-161 33-173 33-179 33-173 33-156 33-128 33-91 34-50 33-9 33 26 33 49 33 63 33 69 33 73 34 81 33 93 33 105 33 112 33 106 33 92 33 71 34 51 33 36 33 26 33 22 33 19 33 20 33 20 34 22 33 23 33 24 33 24 33 24 33 24 33 24 34 22 33 21 33 20 33 18 33 16 33 14 33 11 34 8 33 5 33 1 33-3 33-6 33-11 33-13 34-17 33-19 33-21 33-22 33-25 33-26 33-28 34-29 33-30 33-29 33-25 33-18 33-10 33 2 34 13 33 25 33 33 33 40 33 42 33 43 33 41 34 40 33 37 33 35 33 33 33 32 33 31 33 29 34 28 33 27 33 26 33 24 33 23 33 21 33 20 34 19 33 18 33 17 33 16 33 15 33 15 33 13 34 12 33 12 33 10"/>
<path d="M600 2337l33-69 33-86 33-103 33-122 34-138 33-152 33-160 33-160 33-152 33-136 33-110 33-80 34-46 33-15 33 11 33 28 33 38 33 41 33 47 34 56 33 73 33 89 33 100 33 101 33 90 33 73 34 54 33 38 33 28 33 22 33 20 33 20 33 22 34 22 33 25 33 26 33 26 33 27 33 27 33 27 34 25 33 24 33 21 33 19 33 17 33 13 33 10 34 6 33 4 33-1 33-3 33-7 33-10 33-13 34-16 33-17 33-19 33-20 33-21 33-21 33-20 34-19 33-18 33-15 33-13 33-10 33-6 33-3 34 0 33 4 33 8 33 11 33 14 33 18 33 20 34 22 33 24 33 26 33 26 33 28 33 28 33 29 34 29 33 29 33 29 33 29 33 30 33 29 33 29 34 29 33 28 33 27 33 26 33 25 33 23 33 22 34 19 33 17 33 16"/>
<path d="M600 2339l33-62 33-79 33-100 33-122 34-146 33-167 33-182 33-190 33-186 33-170 33-142 33-105 34-61 33-18 33 18 33 45 33 64 33 73 33 83 34 92 33 103 33 113 33 117 33 109 33 94 33 73 34 51 33 32 33 20 33 13 33 9 33 9 33 11 34 15 33 20 33 24 33 28 33 30 33 32 33 32 34 31 33 29 33 26 33 24 33 20 33 17 33 14 34 11 33 7 33 5 33 2 33-1 33-3 33-5 34-8 33-9 33-10 33-12 33-12 33-13 33-13 34-12 33-12 33-12 33-10 33-9 33-7 33-5 34-2 33-1 33 2 33 5 33 6 33 9 33 11 34 13 33 14 33 16 33 16 33 17 33 17 33 18 34 18 33 19 33 19 33 20 33 21 33 22 33 24 34 25 33 26 33 26 33 27 33 27 33 26 33 24 34 23 33 21 33 19"/>
<path d="M600 2387l33-61 33-79 33-99 33-121 34-144 33-163 33-178 33-184 33-182 33-166 33-140 33-104 34-62 33-20 33 18 33 48 33 67 33 76 33 82 34 87 33 94 33 101 33 100 33 90 33 73 33 53 34 35 33 22 33 15 33 13 33 14 33 17 33 19 34 23 33 26 33 28 33 29 33 30 33 30 33 28 34 27 33 25 33 22 33 19 33 17 33 13 33 12 34 9 33 7 33 6 33 5 33 2 33 2 33-1 34-3 33-6 33-9 33-12 33-14 33-18 33-18 34-19 33-18 33-15 33-13 33-9 33-4 33-1 34 3 33 7 33 10 33 13 33 16 33 17 33 19 34 21 33 22 33 22 33 23 33 24 33 23 33 24 34 24 33 23 33 24 33 23 33 24 33 23 33 23 34 23 33 22 33 22 33 22 33 20 33 20 33 19 34 17 33 16 33 14"/>
<path d="M600 2364l33-61 33-79 33-102 33-127 34-152 33-175 33-192 33-200 33-195 33-176 33-144 33-101 34-54 33-8 33 30 33 58 33 73 33 83 33 88 34 96 33 104 33 110 33 109 33 100 33 83 33 63 34 45 33 30 33 21 33 16 33 15 33 17 33 18 34 20 33 23 33 24 33 26 33 26 33 27 33 26 34 25 33 23 33 21 33 18 33 15 33 11 33 7 34 5 33 3 33 0 33-2 33-4 33-5 33-8 34-9 33-11 33-13 33-13 33-14 33-13 33-13 34-10 33-9 33-7 33-5 33-3 33-1 33 2 34 3 33 6 33 9 33 11 33 14 33 18 33 20 34 23 33 26 33 27 33 28 33 29 33 28 33 28 34 25 33 24 33 22 33 20 33 20 33 19 33 21 34 22 33 24 33 24 33 26 33 24 33 23 33 20 34 18 33 15 33 13"/>
<path d="M600 2326l33-63 33-83 33-107 33-135 34-163 33-191 33-211 33-222 33-216 33-195 33-157 33-106 34-46 33 12 33 59 33 90 33 101 33 99 33 95 34 102 33 118 33 134 33 137 33 122 33 93 33 62 34 37 33 22 33 15 33 11 33 11 33 12 33 12 34 12 33 13 33 12 33 12 33 13 33 13 33 13 34 15 33 15 33 15 33 15 33 13 33 11 33 10 34 9 33 8 33 7 33 8 33 8 33 9 33 8 34 7 33 5 33 1 33-2 33-7 33-11 33-14 34-15 33-14 33-12 33-8 33-3 33 1 33 6 34 10 33 14 33 17 33 20 33 22 33 24 33 26 34 27 33 27 33 27 33 26 33 25 33 25 33 23 34 22 33 21 33 21 33 20 33 20 33 21 33 20 34 21 33 20 33 20 33 19 33 18 33 16 33 15 34 12 33 11 33 8"/>
<path d="M600 2428l33-60 33-78 33-100 33-123 34-145 33-164 33-178 33-183 33-178 33-160 33-131 33-94 34-52 33-11 33 23 33 46 33 58 33 60 33 61 34 67 33 78 33 90 33 94 33 88 33 72 33 50 34 30 33 17 33 9 33 7 33 8 33 10 33 14 34 18 33 21 33 24 33 27 33 29 33 31 33 32 34 32 33 31 33 31 33 30 33 28 33 26 33 23 34 19 33 16 33 12 33 7 33 2 33-3 33-8 34-12 33-17 33-19 33-21 33-22 33-22 33-22 34-20 33-19 33-16 33-14 33-11 33-7 33-4 34 0 33 4 33 8 33 12 33 15 33 19 33 23 34 25 33 27 33 29 33 30 33 31 33 32 33 31 34 31 33 31 33 30 33 29 33 28 33 27 33 26 34 25 33 25 33 23 33 21 33 21 33 19 33 18 34 16 33 14 33 13"/>
<path d="M600 2211l33-79 33-96 33-113 33-131 34-147 33-160 33-166 33-165 33-155 33-137 33-110 33-77 34-41 33-6 33 23 33 44 33 55 33 61 33 69 34 83 33 103 33 121 33 131 33 126 33 109 33 85 34 62 33 45 33 33 33 26 33 23 33 21 33 21 34 21 33 20 33 21 33 21 33 20 33 20 33 18 34 17 33 14 33 13 33 9 33 7 33 3 33 0 34-4 33-8 33-11 33-16 33-18 33-22 33-23 34-25 33-25 33-24 33-22 33-19 33-15 33-11 34-6 33-2 33 3 33 7 33 11 33 13 33 16 34 18 33 20 33 21 33 22 33 23 33 25 33 25 34 26 33 26 33 27 33 27 33 28 33 27 33 26 34 27 33 25 33 26 33 24 33 24 33 23 33 22 34 21 33 20 33 19 33 18 33 17 33 16 33 15 34 13 33 11 33 11"/>
<path d="M600 2335l33-75 33-94 33-116 33-139 34-160 33-177 33-189 33-191 33-182 33-163 33-132 33-93 34-52 33-13 33 19 33 41 33 53 33 62 33 76 34 97 33 121 33 138 33 141 33 128 33 102 33 75 34 52 33 36 33 27 33 22 33 22 33 21 33 24 34 24 33 26 33 27 33 28 33 28 33 27 33 26 34 24 33 22 33 19 33 15 33 12 33 8 33 4 34 0 33-2 33-6 33-9 33-10 33-13 33-14 34-15 33-15 33-15 33-15 33-15 33-13 33-11 34-9 33-7 33-4 33-2 33 1 33 3 33 4 34 7 33 8 33 10 33 12 33 13 33 16 33 16 34 19 33 20 33 21 33 22 33 23 33 22 33 23 34 23 33 23 33 24 33 25 33 25 33 26 33 27 34 27 33 26 33 26 33 24 33 22 33 20 33 18 34 15 33 13 33 11"/>
<path d="M600 2277l33-72 33-87 33-102 33-118 34-132 33-142 33-149 33-149 33-142 33-128 33-107 33-83 34-56 33-32 33-14 33-5 33 1 33 10 33 29 34 58 33 94 33 122 33 132 33 124 33 103 33 76 34 55 33 39 33 30 33 26 33 24 33 23 33 25 34 26 33 27 33 28 33 28 33 29 33 28 33 28 34 27 33 25 33 23 33 21 33 19 33 16 33 12 34 10 33 7 33 5 33 1 33-1 33-4 33-6 34-9 33-11 33-14 33-18 33-19 33-21 33-21 34-21 33-17 33-15 33-9 33-5 33 0 33 5 34 8 33 11 33 14 33 16 33 19 33 20 33 22 34 24 33 25 33 26 33 27 33 27 33 28 33 27 34 27 33 26 33 26 33 25 33 25 33 23 33 23 34 22 33 21 33 20 33 19 33 18 33 16 33 15 34 14 33 13 33 11"/>
<path d="M600 2361l33-76 33-95 33-118 33-140 34-161 33-176 33-186 33-184 33-172 33-148 33-115 33-74 34-33 33 6 33 36 33 53 33 61 33 62 33 68 34 78 33 96 33 109 33 113 33 105 33 86 33 64 34 44 33 30 33 19 33 11 33 7 33 3 33 3 34 4 33 7 33 12 33 15 33 20 33 23 33 26 34 26 33 27 33 26 33 24 33 23 33 19 33 17 34 13 33 11 33 7 33 5 33 1 33-1 33-4 34-6 33-8 33-9 33-11 33-12 33-12 33-12 34-11 33-10 33-9 33-6 33-4 33 0 33 3 34 6 33 10 33 13 33 16 33 20 33 22 33 24 34 25 33 27 33 27 33 27 33 28 33 27 33 26 34 27 33 25 33 25 33 25 33 25 33 23 33 24 34 22 33 22 33 20 33 19 33 17 33 16 33 13 34 12 33 11 33 8"/>
<path d="M600 2282l33-70 33-84 33-100 33-115 34-128 33-139 33-145 33-146 33-138 33-125 33-104 33-78 34-51 33-25 33-2 33 15 33 27 33 36 33 48 34 63 33 82 33 99 33 109 33 109 33 98 33 82 34 65 33 49 33 39 33 33 33 30 33 30 33 30 34 31 33 30 33 29 33 27 33 24 33 22 33 20 34 18 33 18 33 17 33 16 33 16 33 13 33 12 34 7 33 4 33 0 33-6 33-10 33-14 33-19 34-22 33-27 33-30 33-34 33-38 33-39 33-41 34-39 33-36 33-31 33-26 33-18 33-11 33-3 34 4 33 11 33 17 33 22 33 27 33 31 33 35 34 37 33 38 33 40 33 40 33 40 33 38 33 38 34 35 33 34 33 32 33 31 33 29 33 28 33 27 34 26 33 24 33 23 33 22 33 20 33 19 33 16 34 15 33 13 33 10"/>
<path d="M600 2301l33-71 33-88 33-105 33-123 34-138 33-151 33-157 33-158 33-148 33-132 33-107 33-78 34-48 33-19 33 5 33 25 33 42 33 58 33 74 34 91 33 104 33 113 33 111 33 99 33 82 33 62 34 43 33 29 33 19 33 13 33 10 33 10 33 11 34 13 33 15 33 16 33 19 33 19 33 21 33 20 34 20 33 19 33 17 33 15 33 13 33 11 33 7 34 5 33 2 33-1 33-3 33-6 33-7 33-10 34-11 33-12 33-13 33-13 33-13 33-12 33-11 34-10 33-8 33-6 33-3 33 0 33 3 33 6 34 9 33 13 33 16 33 19 33 22 33 24 33 26 34 28 33 30 33 30 33 32 33 31 33 31 33 30 34 30 33 29 33 28 33 26 33 25 33 24 33 23 34 21 33 20 33 19 33 17 33 15 33 14 33 13 34 12 33 10 33 8"/>
<path d="M600 2306l33-70 33-87 33-106 33-127 34-145 33-163 33-173 33-178 33-172 33-156 33-130 33-96 34-57 33-16 33 20 33 47 33 63 33 67 33 64 34 65 33 75 33 93 33 110 33 115 33 105 33 84 34 62 33 43 33 30 33 25 33 23 33 22 33 24 34 25 33 26 33 27 33 29 33 29 33 28 33 28 34 27 33 25 33 22 33 20 33 18 33 14 33 10 34 7 33 2 33-1 33-6 33-9 33-13 33-15 34-18 33-18 33-17 33-17 33-15 33-13 33-12 34-9 33-8 33-7 33-5 33-2 33-1 33 2 34 5 33 7 33 11 33 13 33 17 33 19 33 21 34 23 33 25 33 26 33 27 33 27 33 28 33 27 34 27 33 27 33 26 33 25 33 24 33 24 33 22 34 22 33 21 33 19 33 19 33 17 33 17 33 15 34 14 33 12 33 12"/>
<path d="M600 2268l33-71 33-86 33-106 33-126 34-144 33-160 33-169 33-172 33-163 33-145 33-116 33-80 34-40 33-1 33 32 33 53 33 64 33 64 33 66 34 75 33 91 33 109 33 117 33 109 33 91 33 68 34 48 33 35 33 28 33 25 33 25 33 25 33 26 34 28 33 28 33 30 33 30 33 30 33 29 33 28 34 26 33 23 33 21 33 17 33 13 33 9 33 4 34 0 33-4 33-8 33-11 33-15 33-18 33-20 34-21 33-23 33-24 33-24 33-24 33-24 33-22 34-20 33-18 33-15 33-12 33-9 33-4 33-1 34 4 33 8 33 11 33 16 33 20 33 22 33 26 34 28 33 29 33 32 33 31 33 33 33 32 33 31 34 31 33 30 33 30 33 28 33 28 33 27 33 26 34 25 33 25 33 23 33 22 33 20 33 18 33 17 34 15 33 13 33 11"/>
<path d="M600 2352l33-69 33-84 33-103 33-120 34-136 33-150 33-159 33-160 33-155 33-140 33-118 33-90 34-58 33-25 33 4 33 28 33 42 33 51 33 55 34 59 33 66 33 76 33 87 33 94 33 94 33 84 34 70 33 53 33 37 33 25 33 17 33 13 33 12 34 13 33 15 33 17 33 19 33 21 33 23 33 23 34 25 33 24 33 23 33 22 33 19 33 17 33 15 34 11 33 8 33 4 33 1 33-2 33-6 33-9 34-12 33-14 33-17 33-19 33-19 33-20 33-20 34-20 33-18 33-16 33-13 33-9 33-6 33-1 34 4 33 8 33 13 33 18 33 22 33 26 33 28 34 31 33 31 33 32 33 33 33 31 33 31 33 30 34 29 33 28 33 27 33 26 33 26 33 26 33 26 34 25 33 24 33 24 33 22 33 21 33 19 33 17 34 15 33 13 33 12"/>
<path d="M600 2314l33-78 33-96 33-117 33-137 34-155 33-170 33-176 33-175 33-163 33-140 33-109 33-72 34-31 33 7 33 37 33 57 33 66 33 69 33 70 34 79 33 93 33 108 33 117 33 113 33 98 33 76 34 54 33 38 33 27 33 21 33 19 33 19 33 20 34 22 33 24 33 25 33 26 33 27 33 28 33 26 34 26 33 23 33 20 33 16 33 12 33 5 33 0 34-6 33-10 33-15 33-18 33-19 33-19 33-21 34-20 33-22 33-23 33-25 33-27 33-28 33-30 34-30 33-28 33-26 33-23 33-19 33-15 33-9 34-3 33 3 33 9 33 15 33 21 33 27 33 31 34 35 33 39 33 40 33 41 33 41 33 41 33 40 34 39 33 38 33 36 33 35 33 34 33 33 33 32 34 30 33 28 33 27 33 24 33 23 33 19 33 17 34 15 33 12 33 10"/>
<path d="M600 2423l33-56 33-75 33-97 33-121 34-146 33-169 33-188 33-199 33-198 33-184 33-158 33-120 34-75 33-25 33 19 33 54 33 71 33 72 33 63 34 56 33 61 33 79 33 99 33 106 33 94 33 70 34 42 33 22 33 12 33 10 33 12 33 19 33 26 34 33 33 39 33 44 33 46 33 47 33 47 33 44 34 42 33 39 33 34 33 29 33 25 33 21 33 15 34 11 33 5 33 1 33-4 33-9 33-13 33-17 34-21 33-24 33-27 33-28 33-30 33-30 33-30 34-28 33-25 33-23 33-18 33-14 33-9 33-2 34 2 33 9 33 14 33 20 33 25 33 29 33 33 34 35 33 38 33 40 33 40 33 40 33 39 33 38 34 36 33 34 33 33 33 31 33 29 33 28 33 27 34 25 33 25 33 23 33 21 33 20 33 17 33 14 34 13 33 10 33 9"/>
<path d="M600 2300l33-70 33-87 33-106 33-126 34-144 33-159 33-169 33-169 33-160 33-141 33-113 33-78 34-38 33-1 33 32 33 56 33 71 33 78 33 82 34 85 33 89 33 93 33 93 33 89 33 77 33 64 34 47 33 35 33 25 33 19 33 16 33 14 33 15 34 16 33 17 33 17 33 19 33 20 33 20 33 20 34 19 33 18 33 17 33 16 33 12 33 11 33 8 34 5 33 1 33-1 33-4 33-7 33-10 33-12 34-14 33-15 33-16 33-17 33-16 33-16 33-14 34-13 33-11 33-8 33-6 33-4 33 0 33 3 34 7 33 9 33 13 33 16 33 19 33 21 33 24 34 25 33 26 33 27 33 28 33 28 33 29 33 28 34 28 33 28 33 28 33 28 33 28 33 27 33 26 34 26 33 25 33 23 33 21 33 20 33 18 33 16 34 14 33 12 33 10"/>
<path d="M600 2242l33-72 33-91 33-112 33-133 34-155 33-171 33-182 33-182 33-171 33-148 33-113 33-71 34-24 33 21 33 57 33 81 33 88 33 85 33 78 34 80 33 93 33 111 33 123 33 120 33 103 33 78 34 55 33 37 33 27 33 22 33 19 33 20 33 19 34 20 33 20 33 20 33 19 33 19 33 17 33 15 34 14 33 11 33 9 33 5 33 3 33-1 33-5 34-7 33-12 33-14 33-17 33-20 33-21 33-23 34-23 33-24 33-23 33-22 33-21 33-20 33-18 34-16 33-14 33-13 33-9 33-7 33-4 33 1 34 5 33 11 33 17 33 23 33 28 33 32 33 36 34 38 33 39 33 40 33 39 33 39 33 38 33 36 34 35 33 34 33 32 33 32 33 29 33 29 33 26 34 25 33 23 33 21 33 18 33 17 33 14 33 12 34 11 33 9 33 7"/>
<path d="M600 2346l33-72 33-93 33-117 33-142 34-165 33-184 33-195 33-194 33-178 33-150 33-109 33-62 34-13 33 31 33 62 33 79 33 83 33 78 33 71 34 70 33 75 33 81 33 83 33 76 33 64 33 47 34 35 33 26 33 21 33 21 33 23 33 26 33 29 34 33 33 37 33 40 33 42 33 43 33 43 33 42 34 38 33 34 33 30 33 24 33 19 33 14 33 10 34 4 33 1 33-4 33-8 33-13 33-17 33-22 34-26 33-30 33-33 33-36 33-36 33-36 33-35 34-33 33-30 33-26 33-21 33-16 33-10 33-5 34 2 33 6 33 12 33 16 33 21 33 24 33 27 34 29 33 32 33 32 33 34 33 35 33 36 33 35 34 36 33 35 33 35 33 34 33 33 33 32 33 31 34 30 33 28 33 26 33 24 33 22 33 19 33 18 34 15 33 13 33 11"/>
<path d="M600 2166l33-77 33-92 33-107 33-121 34-132 33-140 33-143 33-139 33-127 33-108 33-84 33-55 34-24 33 3 33 24 33 37 33 39 33 37 33 38 34 48 33 70 33 94 33 113 33 115 33 105 33 84 34 61 33 45 33 33 33 27 33 25 33 24 33 25 34 25 33 25 33 26 33 24 33 23 33 22 33 18 34 17 33 13 33 11 33 9 33 7 33 4 33 3 34 1 33-2 33-3 33-5 33-8 33-9 33-12 34-14 33-15 33-16 33-16 33-16 33-14 33-12 34-9 33-5 33-3 33 0 33 2 33 4 33 6 34 8 33 9 33 11 33 12 33 15 33 16 33 18 34 20 33 22 33 22 33 23 33 24 33 25 33 24 34 23 33 24 33 23 33 22 33 23 33 23 33 23 34 23 33 23 33 23 33 22 33 21 33 19 33 18 34 15 33 14 33 12"/>
<path d="M600 2259l33-79 33-95 33-113 33-128 34-143 33-153 33-156 33-153 33-140 33-121 33-95 33-65 34-35 33-7 33 16 33 33 33 46 33 57 33 70 34 84 33 96 33 104 33 102 33 93 33 76 33 58 34 40 33 27 33 20 33 16 33 17 33 19 33 20 34 23 33 22 33 21 33 18 33 16 33 12 33 10 34 10 33 11 33 12 33 14 33 15 33 15 33 13 34 9 33 4 33-1 33-6 33-8 33-12 33-12 34-13 33-14 33-14 33-15 33-15 33-15 33-16 34-14 33-13 33-11 33-8 33-4 33-1 33 3 34 8 33 11 33 16 33 20 33 24 33 27 33 30 34 32 33 34 33 35 33 35 33 35 33 35 33 33 34 32 33 30 33 29 33 28 33 28 33 27 33 27 34 26 33 26 33 24 33 22 33 20 33 17 33 15 34 12 33 10 33 9"/>
<path d="M600 2260l33-72 33-85 33-101 33-114 34-127 33-135 33-138 33-136 33-126 33-109 33-86 33-61 34-35 33-10 33 8 33 21 33 29 33 38 33 48 34 63 33 80 33 92 33 98 33 94 33 81 33 64 34 48 33 34 33 25 33 20 33 17 33 17 33 17 34 18 33 19 33 19 33 19 33 20 33 18 33 19 34 17 33 15 33 14 33 11 33 9 33 6 33 3 34 0 33-2 33-6 33-9 33-10 33-13 33-15 34-16 33-17 33-18 33-18 33-17 33-17 33-17 34-15 33-14 33-12 33-10 33-7 33-4 33 1 34 4 33 9 33 13 33 18 33 21 33 24 33 27 34 29 33 31 33 31 33 32 33 31 33 32 33 31 34 31 33 31 33 30 33 29 33 29 33 29 33 28 34 27 33 26 33 25 33 23 33 22 33 20 33 18 34 16 33 14 33 13"/>
<path d="M600 2290l33-68 33-84 33-101 33-119 34-134 33-147 33-154 33-155 33-147 33-130 33-106 33-78 34-48 33-21 33 3 33 21 33 37 33 56 33 76 34 97 33 114 33 118 33 112 33 96 33 74 33 54 34 38 33 28 33 22 33 20 33 19 33 19 33 20 34 22 33 23 33 23 33 24 33 24 33 23 33 22 34 20 33 18 33 16 33 13 33 10 33 6 33 4 34 0 33-4 33-6 33-10 33-12 33-15 33-17 34-19 33-19 33-21 33-21 33-21 33-19 33-19 34-17 33-14 33-11 33-7 33-4 33 1 33 6 34 11 33 16 33 20 33 25 33 29 33 31 33 32 34 32 33 31 33 31 33 28 33 28 33 27 33 26 34 26 33 27 33 27 33 27 33 27 33 26 33 26 34 25 33 23 33 22 33 20 33 19 33 16 33 16 34 13 33 12 33 10"/>
<path d="M600 2440l33-49 33-66 33-89 33-115 34-142 33-169 33-188 33-198 33-192 33-171 33-132 33-83 34-28 33 22 33 62 33 81 33 79 33 64 33 45 34 40 33 49 33 69 33 82 33 80 33 64 33 41 34 20 33 8 33 3 33 2 33 5 33 8 33 12 34 15 33 20 33 23 33 26 33 30 33 32 33 34 34 36 33 35 33 34 33 32 33 27 33 23 33 16 34 10 33 3 33-3 33-8 33-12 33-16 33-19 34-21 33-22 33-24 33-25 33-27 33-26 33-26 34-24 33-20 33-17 33-10 33-4 33 3 33 10 34 16 33 20 33 24 33 27 33 29 33 30 33 30 34 32 33 32 33 32 33 33 33 33 33 33 33 32 34 33 33 32 33 31 33 29 33 29 33 27 33 26 34 25 33 22 33 22 33 19 33 18 33 16 33 15 34 13 33 12 33 10"/>
<path d="M600 2335l33-71 33-88 33-107 33-126 34-145 33-159 33-168 33-170 33-163 33-146 33-121 33-90 34-54 33-21 33 9 33 32 33 46 33 55 33 61 34 70 33 80 33 91 33 100 33 103 33 97 33 84 34 70 33 54 33 43 33 35 33 31 33 29 33 28 34 30 33 29 33 31 33 30 33 30 33 29 33 27 34 26 33 23 33 20 33 17 33 13 33 9 33 5 34 1 33-4 33-8 33-12 33-16 33-19 33-22 34-25 33-26 33-28 33-28 33-28 33-27 33-25 34-24 33-20 33-17 33-13 33-9 33-5 33 0 34 5 33 10 33 14 33 19 33 22 33 26 33 29 34 30 33 33 33 34 33 34 33 34 33 34 33 33 34 33 33 32 33 32 33 31 33 30 33 30 33 29 34 28 33 27 33 25 33 23 33 21 33 18 33 17 34 14 33 12 33 10"/>
<path d="M600 2336l33-67 33-86 33-107 33-130 34-152 33-170 33-182 33-185 33-178 33-157 33-125 33-86 34-41 33 2 33 37 33 63 33 77 33 84 33 90 34 98 33 107 33 112 33 109 33 96 33 76 33 54 34 37 33 24 33 18 33 14 33 15 33 16 33 17 34 19 33 20 33 22 33 23 33 23 33 23 33 22 34 20 33 18 33 16 33 14 33 10 33 7 33 4 34 0 33-4 33-6 33-10 33-13 33-15 33-17 34-18 33-20 33-20 33-20 33-20 33-19 33-17 34-15 33-13 33-10 33-6 33-3 33 2 33 6 34 9 33 14 33 18 33 22 33 24 33 28 33 29 34 31 33 31 33 31 33 30 33 28 33 27 33 26 34 24 33 25 33 26 33 28 33 29 33 31 33 32 34 32 33 31 33 29 33 25 33 23 33 19 33 15 34 13 33 10 33 8"/>
<path d="M600 2332l33-69 33-88 33-107 33-128 34-147 33-163 33-174 33-177 33-170 33-154 33-127 33-94 34-56 33-19 33 15 33 41 33 59 33 70 33 77 34 85 33 94 33 103 33 106 33 105 33 94 33 78 34 60 33 44 33 31 33 23 33 17 33 15 33 14 34 15 33 16 33 19 33 20 33 22 33 25 33 26 34 27 33 26 33 25 33 22 33 19 33 15 33 10 34 6 33 2 33-3 33-8 33-11 33-14 33-18 34-20 33-22 33-23 33-24 33-24 33-24 33-23 34-22 33-21 33-18 33-16 33-13 33-8 33-2 34 3 33 11 33 18 33 24 33 29 33 33 33 35 34 38 33 38 33 37 33 37 33 37 33 35 33 33 34 33 33 30 33 29 33 28 33 25 33 25 33 23 34 23 33 21 33 21 33 19 33 19 33 17 33 16 34 15 33 13 33 11"/>
<path d="M600 2341l33-68 33-86 33-107 33-129 34-150 33-168 33-179 33-183 33-176 33-157 33-128 33-90 34-49 33-9 33 23 33 43 33 52 33 55 33 57 34 69 33 87 33 108 33 121 33 120 33 105 33 82 34 58 33 40 33 28 33 21 33 19 33 18 33 19 34 20 33 21 33 22 33 24 33 25 33 25 33 25 34 25 33 24 33 21 33 20 33 16 33 14 33 10 34 6 33 2 33-1 33-6 33-9 33-13 33-16 34-19 33-21 33-22 33-24 33-23 33-24 33-23 34-20 33-19 33-16 33-12 33-8 33-5 33 1 34 5 33 10 33 14 33 20 33 23 33 28 33 31 34 33 33 36 33 37 33 38 33 38 33 37 33 37 34 35 33 33 33 31 33 30 33 28 33 26 33 25 34 24 33 22 33 20 33 19 33 17 33 16 33 14 34 12 33 10 33 9"/>
<path d="M600 2188l33-79 33-92 33-106 33-119 34-128 33-135 33-137 33-132 33-121 33-105 33-84 33-58 34-33 33-11 33 7 33 16 33 23 33 30 33 43 34 65 33 91 33 111 33 118 33 112 33 93 33 71 34 51 33 36 33 26 33 20 33 18 33 15 33 15 34 15 33 15 33 16 33 15 33 16 33 16 33 16 34 15 33 16 33 14 33 14 33 13 33 11 33 9 34 7 33 5 33 2 33-1 33-4 33-7 33-9 34-11 33-13 33-14 33-14 33-14 33-13 33-13 34-10 33-9 33-6 33-3 33-1 33 3 33 5 34 9 33 12 33 15 33 19 33 22 33 24 33 27 34 29 33 31 33 31 33 32 33 31 33 31 33 29 34 29 33 27 33 25 33 24 33 22 33 21 33 20 34 19 33 18 33 17 33 17 33 15 33 15 33 14 34 13 33 11 33 10"/>
<path d="M600 2243l33-76 33-93 33-111 33-129 34-146 33-161 33-168 33-170 33-161 33-144 33-117 33-84 34-46 33-9 33 26 33 51 33 69 33 77 33 84 34 90 33 99 33 111 33 118 33 116 33 105 33 86 34 66 33 48 33 35 33 26 33 22 33 21 33 20 34 21 33 22 33 23 33 24 33 25 33 25 33 25 34 23 33 22 33 20 33 17 33 14 33 11 33 6 34 3 33-2 33-5 33-10 33-13 33-16 33-18 34-20 33-21 33-22 33-21 33-19 33-18 33-15 34-12 33-9 33-6 33-3 33-3 33 0 33 0 34 0 33 2 33 3 33 6 33 9 33 12 33 15 34 19 33 22 33 25 33 26 33 27 33 28 33 28 34 28 33 28 33 28 33 27 33 27 33 26 33 26 34 25 33 25 33 24 33 22 33 20 33 19 33 17 34 15 33 13 33 11"/>
<path d="M600 2293l33-70 33-87 33-106 33-123 34-141 33-154 33-162 33-163 33-156 33-138 33-113 33-80 34-45 33-11 33 16 33 34 33 42 33 45 33 52 34 69 33 96 33 120 33 131 33 124 33 102 33 75 34 51 33 35 33 24 33 20 33 18 33 18 33 19 34 20 33 20 33 20 33 18 33 15 33 13 33 9 34 7 33 5 33 4 33 4 33 6 33 7 33 9 34 11 33 12 33 12 33 10 33 7 33 2 33-3 34-8 33-13 33-18 33-21 33-24 33-24 33-24 34-22 33-20 33-16 33-12 33-7 33-3 33 3 34 7 33 11 33 16 33 19 33 23 33 26 33 28 34 31 33 32 33 32 33 34 33 33 33 32 33 32 34 31 33 29 33 29 33 27 33 25 33 25 33 23 34 22 33 22 33 20 33 19 33 18 33 17 33 15 34 14 33 12 33 11"/>
<path d="M600 2330l33-63 33-82 33-105 33-131 34-159 33-185 33-207 33-217 33-216 33-198 33-166 33-119 34-65 33-8 33 41 33 79 33 105 33 119 33 124 34 127 33 128 33 127 33 119 33 106 33 88 33 68 34 51 33 38 33 30 33 27 33 26 33 26 33 28 34 30 33 31 33 31 33 33 33 32 33 32 33 30 34 30 33 28 33 25 33 22 33 20 33 16 33 12 34 8 33 4 33-1 33-6 33-11 33-16 33-21 34-25 33-30 33-33 33-35 33-35 33-35 33-31 34-26 33-19 33-12 33-5 33-1 33 2 33 0 34-2 33-6 33-8 33-9 33-7 33-3 33 4 34 10 33 17 33 22 33 25 33 29 33 30 33 32 34 32 33 33 33 33 33 34 33 34 33 34 33 34 34 33 33 32 33 31 33 30 33 27 33 25 33 22 34 20 33 17 33 15"/>
<path d="M600 2274l33-77 33-95 33-116 33-137 34-157 33-173 33-182 33-182 33-172 33-151 33-120 33-82 34-40 33-3 33 28 33 50 33 64 33 74 33 85 34 100 33 117 33 128 33 129 33 116 33 97 33 73 34 53 33 38 33 28 33 24 33 22 33 22 33 23 34 23 33 24 33 24 33 25 33 24 33 23 33 23 34 20 33 19 33 17 33 13 33 12 33 8 33 5 34 2 33-1 33-4 33-7 33-9 33-11 33-13 34-14 33-15 33-15 33-15 33-13 33-11 33-9 34-7 33-3 33 0 33 3 33 4 33 5 33 6 34 6 33 7 33 6 33 7 33 8 33 10 33 12 34 14 33 17 33 20 33 21 33 23 33 24 33 24 34 25 33 24 33 25 33 24 33 24 33 25 33 24 34 24 33 24 33 24 33 22 33 21 33 19 33 17 34 15 33 13 33 11"/>
<path d="M600 2335l33-66 33-83 33-102 33-121 34-140 33-154 33-164 33-165 33-157 33-138 33-110 33-76 34-38 33-3 33 23 33 38 33 40 33 35 33 36 34 50 33 75 33 102 33 117 33 112 33 92 33 65 34 41 33 25 33 16 33 13 33 12 33 13 33 15 34 17 33 19 33 20 33 22 33 22 33 23 33 23 34 22 33 21 33 19 33 18 33 15 33 13 33 9 34 7 33 4 33 1 33-1 33-4 33-7 33-8 34-10 33-12 33-13 33-13 33-14 33-13 33-13 34-12 33-12 33-10 33-9 33-8 33-6 33-4 34-2 33 0 33 4 33 9 33 13 33 18 33 23 34 27 33 31 33 34 33 36 33 36 33 36 33 34 34 34 33 31 33 31 33 28 33 28 33 27 33 26 34 25 33 24 33 23 33 22 33 21 33 19 33 17 34 16 33 13 33 12"/>
<path d="M600 2348l33-79 33-96 33-114 33-131 34-145 33-155 33-159 33-156 33-144 33-125 33-98 33-68 34-36 33-5 33 22 33 38 33 40 33 27 33 6 34-8 33 3 33 39 33 83 33 111 33 108 33 85 34 57 33 38 33 28 33 27 33 28 33 31 33 35 34 38 33 41 33 42 33 43 33 43 33 42 33 40 34 38 33 35 33 31 33 27 33 23 33 18 33 14 34 9 33 5 33 0 33-3 33-8 33-10 33-13 34-16 33-17 33-19 33-19 33-19 33-18 33-18 34-16 33-14 33-11 33-9 33-6 33-2 33 1 34 4 33 8 33 11 33 14 33 16 33 19 33 20 34 23 33 24 33 25 33 26 33 27 33 27 33 26 34 27 33 26 33 25 33 25 33 25 33 23 33 23 34 23 33 22 33 21 33 20 33 20 33 18 33 17 34 15 33 14 33 13"/>
<path d="M600 2304l33-72 33-92 33-112 33-135 34-156 33-173 33-184 33-186 33-175 33-153 33-121 33-81 34-36 33 4 33 40 33 66 33 81 33 89 33 91 34 93 33 94 33 94 33 91 33 82 33 70 33 56 34 43 33 34 33 28 33 25 33 24 33 26 33 26 34 29 33 29 33 30 33 30 33 31 33 29 33 29 34 27 33 26 33 24 33 22 33 19 33 16 33 12 34 7 33 2 33-5 33-10 33-17 33-23 33-28 34-32 33-34 33-36 33-35 33-34 33-30 33-24 34-19 33-11 33-6 33 0 33 4 33 8 33 10 34 12 33 15 33 16 33 19 33 22 33 24 33 27 34 29 33 31 33 33 33 33 33 33 33 32 33 32 34 31 33 29 33 29 33 27 33 26 33 25 33 25 34 23 33 22 33 21 33 20 33 19 33 17 33 15 34 14 33 13 33 10"/>
<path d="M600 2349l33-67 33-86 33-111 33-138 34-164 33-188 33-204 33-211 33-204 33-181 33-146 33-100 34-50 33-2 33 38 33 69 33 92 33 109 33 121 34 128 33 130 33 122 33 107 33 86 33 63 33 43 34 27 33 18 33 13 33 14 33 17 33 21 33 26 34 30 33 33 33 35 33 34 33 32 33 30 33 26 34 23 33 19 33 16 33 13 33 10 33 7 33 4 34 1 33-1 33-5 33-7 33-11 33-12 33-15 34-16 33-18 33-18 33-17 33-18 33-15 33-14 34-12 33-8 33-5 33-1 33 2 33 7 33 10 34 15 33 19 33 22 33 25 33 28 33 31 33 32 34 34 33 35 33 35 33 34 33 33 33 32 33 31 34 27 33 26 33 23 33 21 33 19 33 17 33 17 34 15 33 15 33 15 33 15 33 14 33 13 33 13 34 12 33 10 33 9"/>
<path d="M600 2387l33-66 33-84 33-106 33-127 34-151 33-169 33-184 33-189 33-185 33-170 33-144 33-108 34-68 33-28 33 9 33 33 33 45 33 45 33 39 34 39 33 48 33 68 33 91 33 105 33 105 33 91 34 72 33 54 33 42 33 37 33 35 33 37 33 38 34 41 33 42 33 43 33 43 33 42 33 42 33 40 34 37 33 35 33 31 33 27 33 23 33 19 33 15 34 11 33 6 33 2 33-1 33-5 33-7 33-10 34-11 33-12 33-13 33-13 33-12 33-10 33-9 34-7 33-4 33-2 33 1 33 3 33 6 33 7 34 9 33 10 33 11 33 12 33 13 33 13 33 14 34 16 33 16 33 17 33 19 33 19 33 20 33 20 34 20 33 21 33 20 33 21 33 20 33 20 33 20 34 20 33 20 33 18 33 19 33 17 33 16 33 14 34 14 33 11 33 11"/>
<path d="M600 2244l33-72 33-89 33-107 33-126 34-145 33-160 33-171 33-173 33-167 33-151 33-125 33-91 34-51 33-10 33 26 33 53 33 63 33 57 33 45 34 42 33 62 33 102 33 141 33 157 33 143 33 110 34 76 33 51 33 38 33 31 33 30 33 30 33 32 34 32 33 32 33 32 33 28 33 25 33 21 33 16 34 13 33 9 33 8 33 5 33 5 33 3 33 2 34 1 33 0 33-3 33-4 33-7 33-9 33-11 34-13 33-14 33-15 33-16 33-17 33-17 33-16 34-16 33-14 33-13 33-11 33-8 33-6 33-1 34 1 33 6 33 9 33 12 33 16 33 18 33 21 34 22 33 24 33 25 33 26 33 26 33 26 33 26 34 27 33 26 33 27 33 26 33 25 33 26 33 25 34 24 33 23 33 22 33 21 33 19 33 18 33 16 34 14 33 13 33 12"/>
<path d="M600 2353l33-67 33-85 33-104 33-127 34-148 33-167 33-180 33-188 33-184 33-170 33-145 33-111 34-70 33-28 33 11 33 38 33 50 33 50 33 46 34 53 33 80 33 118 33 148 33 153 33 135 33 102 34 72 33 49 33 35 33 28 33 23 33 23 33 22 34 23 33 24 33 25 33 26 33 27 33 27 33 26 34 24 33 23 33 20 33 16 33 14 33 9 33 6 34 3 33-1 33-5 33-7 33-11 33-12 33-15 34-17 33-17 33-18 33-18 33-18 33-16 33-15 34-13 33-10 33-7 33-4 33 0 33 3 33 7 34 9 33 13 33 16 33 17 33 20 33 21 33 23 34 23 33 23 33 24 33 24 33 24 33 24 33 24 34 23 33 24 33 23 33 24 33 23 33 24 33 24 34 23 33 23 33 22 33 21 33 20 33 19 33 17 34 15 33 13 33 11"/>
<path d="M600 2278l33-75 33-92 33-111 33-130 34-148 33-160 33-167 33-166 33-154 33-134 33-104 33-68 34-30 33 6 33 35 33 55 33 65 33 65 33 64 34 65 33 71 33 81 33 89 33 89 33 81 33 68 34 52 33 39 33 31 33 27 33 25 33 26 33 27 34 28 33 28 33 28 33 28 33 26 33 26 33 24 34 24 33 22 33 21 33 19 33 18 33 16 33 13 34 10 33 6 33 2 33-3 33-6 33-11 33-15 34-17 33-20 33-22 33-22 33-22 33-22 33-21 34-20 33-18 33-17 33-14 33-12 33-10 33-6 34-3 33 1 33 4 33 8 33 13 33 15 33 20 34 23 33 27 33 28 33 31 33 32 33 32 33 32 34 32 33 30 33 30 33 28 33 28 33 27 33 27 34 27 33 27 33 26 33 25 33 24 33 21 33 20 34 18 33 15 33 13"/>
<path d="M600 2269l33-72 33-88 33-102 33-118 34-132 33-142 33-147 33-147 33-139 33-124 33-103 33-77 34-48 33-19 33 5 33 21 33 29 33 28 33 26 34 30 33 43 33 65 33 87 33 102 33 101 33 88 34 70 33 50 33 37 33 28 33 25 33 24 33 24 34 25 33 26 33 27 33 28 33 28 33 28 33 29 34 28 33 28 33 27 33 25 33 24 33 22 33 18 34 15 33 12 33 7 33 4 33 0 33-4 33-8 34-11 33-14 33-16 33-18 33-19 33-19 33-20 34-20 33-18 33-17 33-14 33-11 33-8 33-4 34 1 33 6 33 11 33 15 33 20 33 24 33 27 34 30 33 31 33 32 33 33 33 32 33 32 33 30 34 29 33 28 33 27 33 26 33 26 33 25 33 25 34 25 33 24 33 23 33 21 33 20 33 18 33 16 34 13 33 11 33 9"/>
<path d="M600 2392l33-61 33-79 33-100 33-122 34-146 33-166 33-180 33-186 33-181 33-163 33-134 33-95 34-52 33-9 33 26 33 50 33 61 33 63 33 64 34 73 33 87 33 103 33 110 33 105 33 86 33 63 34 41 33 26 33 17 33 13 33 14 33 15 33 17 34 20 33 22 33 25 33 26 33 26 33 27 33 27 34 26 33 25 33 22 33 21 33 18 33 14 33 12 34 9 33 5 33 3 33-1 33-3 33-5 33-8 34-10 33-12 33-13 33-15 33-15 33-16 33-15 34-16 33-14 33-13 33-11 33-9 33-6 33-5 34-1 33 1 33 4 33 7 33 10 33 12 33 14 34 16 33 18 33 19 33 21 33 21 33 23 33 24 34 24 33 25 33 27 33 26 33 28 33 28 33 29 34 28 33 29 33 27 33 27 33 25 33 24 33 21 34 20 33 18 33 16"/>
<path d="M600 2295l33-75 33-93 33-112 33-134 34-153 33-169 33-179 33-181 33-174 33-157 33-128 33-93 34-53 33-12 33 23 33 50 33 63 33 66 33 62 34 58 33 65 33 80 33 100 33 116 33 119 33 109 34 90 33 68 33 50 33 37 33 28 33 23 33 20 34 17 33 14 33 14 33 12 33 11 33 12 33 13 34 14 33 13 33 14 33 14 33 12 33 12 33 12 34 11 33 10 33 10 33 9 33 6 33 4 33 0 34-4 33-8 33-11 33-14 33-16 33-16 33-16 34-15 33-13 33-11 33-8 33-6 33-1 33 1 34 6 33 9 33 12 33 15 33 18 33 21 33 22 34 24 33 25 33 25 33 25 33 25 33 25 33 24 34 23 33 24 33 24 33 25 33 25 33 26 33 27 34 26 33 26 33 26 33 24 33 22 33 20 33 17 34 15 33 13 33 11"/>
<path d="M600 2314l33-75 33-91 33-108 33-124 34-138 33-149 33-155 33-154 33-145 33-131 33-108 33-83 34-55 33-28 33-6 33 13 33 28 33 43 33 60 34 81 33 99 33 111 33 112 33 104 33 87 33 69 34 52 33 40 33 31 33 28 33 25 33 26 33 26 34 26 33 28 33 27 33 28 33 27 33 27 33 25 34 24 33 22 33 19 33 16 33 13 33 9 33 5 34 2 33-4 33-8 33-14 33-21 33-26 33-33 34-38 33-42 33-42 33-40 33-36 33-27 33-17 34-8 33 1 33 7 33 11 33 12 33 12 33 10 34 7 33 5 33 4 33 4 33 6 33 10 33 15 34 22 33 28 33 35 33 39 33 43 33 45 33 45 34 43 33 42 33 39 33 36 33 33 33 31 33 28 34 27 33 24 33 23 33 21 33 19 33 17 33 16 34 14 33 12 33 11"/>
<path d="M600 2248l33-66 33-81 33-99 33-117 34-136 33-153 33-163 33-168 33-165 33-150 33-126 33-95 34-57 33-20 33 15 33 39 33 53 33 55 33 58 34 65 33 83 33 109 33 130 33 137 33 127 33 108 34 85 33 66 33 50 33 40 33 32 33 26 33 20 34 18 33 15 33 13 33 14 33 13 33 13 33 14 34 13 33 12 33 11 33 10 33 8 33 5 33 3 34 1 33-1 33-3 33-4 33-4 33-5 33-4 34-4 33-6 33-8 33-13 33-18 33-22 33-27 34-29 33-28 33-26 33-22 33-16 33-10 33-5 34 1 33 5 33 9 33 13 33 17 33 20 33 23 34 26 33 27 33 29 33 30 33 30 33 31 33 30 34 30 33 28 33 28 33 28 33 26 33 25 33 25 34 24 33 24 33 23 33 22 33 20 33 20 33 18 34 17 33 15 33 13"/>
<path d="M600 2303l33-65 33-80 33-99 33-117 34-136 33-151 33-160 33-163 33-156 33-138 33-111 33-77 34-40 33-3 33 28 33 48 33 59 33 63 33 68 34 77 33 94 33 109 33 115 33 109 33 89 33 66 34 41 33 24 33 13 33 6 33 4 33 4 33 6 34 8 33 11 33 13 33 15 33 17 33 17 33 17 34 16 33 15 33 14 33 13 33 10 33 8 33 6 34 4 33 2 33-1 33-4 33-6 33-8 33-11 34-13 33-14 33-15 33-16 33-15 33-15 33-14 34-12 33-10 33-8 33-5 33-2 33 0 33 4 34 8 33 11 33 14 33 17 33 20 33 22 33 25 34 26 33 28 33 28 33 29 33 29 33 29 33 29 34 28 33 27 33 27 33 26 33 26 33 25 33 23 34 24 33 22 33 21 33 21 33 19 33 18 33 17 34 15 33 14 33 12"/>
<path d="M600 2312l33-75 33-93 33-110 33-127 34-144 33-157 33-163 33-163 33-155 33-139 33-114 33-84 34-50 33-19 33 10 33 29 33 41 33 44 33 46 34 51 33 61 33 78 33 92 33 102 33 99 33 87 34 69 33 51 33 37 33 27 33 23 33 21 33 22 34 23 33 25 33 28 33 29 33 30 33 30 33 30 34 29 33 26 33 23 33 20 33 17 33 12 33 8 34 4 33 0 33-4 33-8 33-11 33-14 33-16 34-18 33-19 33-18 33-19 33-17 33-16 33-14 34-11 33-9 33-6 33-2 33 0 33 5 33 8 34 11 33 16 33 19 33 23 33 26 33 29 33 31 34 33 33 34 33 34 33 35 33 34 33 33 33 32 34 30 33 29 33 28 33 26 33 25 33 23 33 22 34 20 33 19 33 18 33 16 33 15 33 14 33 11 34 11 33 9 33 7"/>
<path d="M600 2371l33-60 33-77 33-98 33-119 34-141 33-159 33-173 33-177 33-172 33-153 33-125 33-88 34-48 33-8 33 25 33 51 33 67 33 75 33 80 34 84 33 86 33 88 33 86 33 78 33 67 33 51 34 37 33 25 33 16 33 10 33 9 33 9 33 11 34 13 33 16 33 18 33 21 33 23 33 24 33 25 34 24 33 24 33 22 33 19 33 15 33 12 33 7 34 3 33-1 33-6 33-9 33-13 33-15 33-17 34-18 33-19 33-18 33-18 33-16 33-14 33-11 34-9 33-4 33-1 33 4 33 8 33 13 33 17 34 20 33 24 33 27 33 28 33 30 33 32 33 32 34 32 33 32 33 32 33 32 33 31 33 30 33 30 34 28 33 28 33 27 33 26 33 26 33 24 33 23 34 22 33 20 33 18 33 16 33 15 33 13 33 10 34 9 33 8 33 6"/>
<path d="M600 2366l33-66 33-83 33-102 33-123 34-141 33-158 33-168 33-171 33-164 33-148 33-121 33-88 34-52 33-14 33 15 33 37 33 48 33 53 33 59 34 70 33 85 33 102 33 111 33 106 33 90 33 68 34 47 33 31 33 22 33 17 33 16 33 17 33 18 34 19 33 20 33 19 33 19 33 18 33 17 33 16 34 13 33 11 33 8 33 4 33 0 33-3 33-4 34-5 33-2 33 1 33 5 33 6 33 7 33 6 34 2 33-2 33-6 33-9 33-11 33-13 33-14 34-12 33-12 33-9 33-7 33-3 33-1 33 3 34 7 33 11 33 14 33 18 33 22 33 24 33 26 34 26 33 28 33 27 33 27 33 27 33 25 33 25 34 24 33 24 33 22 33 23 33 23 33 23 33 23 34 24 33 24 33 25 33 24 33 23 33 22 33 20 34 19 33 15 33 14"/>
<path d="M600 2294l33-86 33-105 33-125 33-145 34-162 33-174 33-179 33-177 33-165 33-144 33-115 33-79 34-42 33-6 33 23 33 41 33 48 33 48 33 48 34 59 33 79 33 107 33 127 33 132 33 118 33 95 34 69 33 49 33 34 33 26 33 22 33 21 33 20 34 21 33 20 33 21 33 21 33 20 33 19 33 17 34 15 33 11 33 7 33 4 33 1 33-2 33-5 34-6 33-6 33-6 33-4 33-1 33 0 33 4 34 5 33 6 33 8 33 7 33 7 33 6 33 6 34 5 33 4 33 3 33 5 33 5 33 6 33 8 34 11 33 12 33 15 33 17 33 20 33 21 33 23 34 25 33 25 33 27 33 26 33 26 33 25 33 25 34 24 33 22 33 21 33 20 33 19 33 18 33 18 34 16 33 16 33 15 33 14 33 14 33 13 33 12 34 11 33 10 33 9"/>
<path d="M600 2259l33-79 33-96 33-113 33-130 34-144 33-153 33-157 33-151 33-139 33-117 33-88 33-55 34-20 33 13 33 40 33 59 33 70 33 74 33 75 34 77 33 82 33 88 33 92 33 90 33 82 33 68 34 52 33 38 33 25 33 18 33 12 33 10 33 8 34 7 33 8 33 7 33 8 33 7 33 7 33 7 34 7 33 6 33 5 33 5 33 5 33 4 33 3 34 3 33 1 33 0 33-1 33-4 33-5 33-8 34-10 33-11 33-14 33-15 33-15 33-17 33-16 34-15 33-14 33-12 33-9 33-7 33-3 33 0 34 4 33 8 33 11 33 15 33 19 33 21 33 24 34 27 33 29 33 30 33 31 33 33 33 32 33 34 34 33 33 33 33 32 33 32 33 31 33 30 33 29 34 27 33 26 33 25 33 23 33 20 33 19 33 18 34 15 33 13 33 12"/>
<path d="M600 2213l33-78 33-91 33-104 33-116 34-126 33-132 33-135 33-132 33-124 33-109 33-91 33-69 34-46 33-25 33-8 33 2 33 10 33 18 33 32 34 53 33 79 33 103 33 114 33 113 33 99 33 80 34 62 33 48 33 38 33 33 33 30 33 29 33 30 34 31 33 32 33 33 33 33 33 34 33 34 33 33 34 30 33 28 33 24 33 19 33 15 33 9 33 5 34-1 33-4 33-9 33-12 33-15 33-16 33-19 34-19 33-21 33-21 33-20 33-21 33-19 33-19 34-16 33-15 33-13 33-9 33-7 33-4 33 0 34 3 33 6 33 11 33 14 33 17 33 20 33 23 34 26 33 28 33 29 33 30 33 31 33 31 33 31 34 30 33 30 33 28 33 28 33 27 33 26 33 24 34 23 33 22 33 21 33 20 33 18 33 16 33 15 34 14 33 12 33 11"/>
<path d="M600 2249l33-69 33-85 33-102 33-120 34-136 33-149 33-157 33-158 33-148 33-131 33-104 33-71 34-36 33-3 33 26 33 44 33 52 33 53 33 51 34 53 33 60 33 72 33 84 33 89 33 85 33 72 34 57 33 42 33 30 33 25 33 21 33 21 33 21 34 21 33 22 33 22 33 21 33 18 33 16 33 14 34 11 33 9 33 10 33 11 33 14 33 17 33 20 34 19 33 19 33 16 33 11 33 7 33 2 33-3 34-7 33-9 33-11 33-12 33-13 33-13 33-13 34-12 33-10 33-10 33-8 33-6 33-5 33-2 34 1 33 4 33 6 33 10 33 13 33 17 33 20 34 23 33 25 33 27 33 29 33 30 33 30 33 30 34 29 33 29 33 29 33 27 33 26 33 26 33 24 34 24 33 23 33 22 33 21 33 19 33 18 33 16 34 14 33 13 33 11"/>
<path d="M600 2331l33-72 33-86 33-100 33-113 34-125 33-133 33-134 33-132 33-121 33-106 33-83 33-59 34-32 33-7 33 15 33 29 33 33 33 28 33 18 34 11 33 15 33 33 33 59 33 80 33 88 33 80 34 64 33 45 33 31 33 22 33 18 33 18 33 19 34 21 33 24 33 26 33 29 33 30 33 31 33 30 34 29 33 26 33 23 33 18 33 15 33 10 33 6 34 2 33-1 33-5 33-8 33-11 33-14 33-16 34-17 33-20 33-20 33-21 33-21 33-21 33-19 34-18 33-15 33-12 33-9 33-6 33-2 33 2 34 6 33 10 33 14 33 18 33 21 33 25 33 28 34 30 33 33 33 33 33 35 33 36 33 35 33 35 34 35 33 34 33 33 33 32 33 31 33 29 33 28 34 26 33 25 33 22 33 21 33 19 33 16 33 15 34 13 33 11 33 9"/>
<path d="M600 2343l33-66 33-85 33-108 33-132 34-158 33-181 33-199 33-208 33-206 33-189 33-160 33-118 34-71 33-21 33 22 33 56 33 77 33 86 33 91 34 97 33 107 33 118 33 123 33 115 33 99 33 77 34 56 33 39 33 29 33 26 33 25 33 26 33 29 34 33 33 35 33 38 33 41 33 42 33 44 33 42 34 39 33 35 33 29 33 23 33 16 33 10 33 6 34 2 33-1 33-3 33-5 33-7 33-10 33-12 34-14 33-17 33-19 33-19 33-21 33-21 33-20 34-20 33-18 33-16 33-13 33-10 33-6 33-3 34 1 33 4 33 9 33 13 33 16 33 19 33 22 34 24 33 26 33 28 33 28 33 30 33 29 33 29 34 29 33 29 33 27 33 27 33 26 33 25 33 24 34 24 33 21 33 21 33 20 33 17 33 17 33 15 34 13 33 12 33 10"/>
<path d="M600 2349l33-70 33-88 33-108 33-128 34-148 33-163 33-173 33-174 33-165 33-146 33-117 33-82 34-42 33-5 33 28 33 49 33 61 33 65 33 64 34 66 33 73 33 81 33 90 33 91 33 84 33 69 34 53 33 38 33 26 33 21 33 18 33 18 33 19 34 21 33 23 33 25 33 26 33 27 33 27 33 27 34 26 33 25 33 23 33 21 33 19 33 15 33 13 34 9 33 6 33 2 33-2 33-4 33-8 33-10 34-13 33-15 33-17 33-18 33-18 33-18 33-17 34-15 33-14 33-10 33-7 33-3 33 0 33 3 34 6 33 8 33 10 33 11 33 13 33 13 33 16 34 17 33 20 33 21 33 25 33 25 33 28 33 28 34 29 33 28 33 29 33 28 33 27 33 27 33 25 34 26 33 24 33 23 33 23 33 21 33 19 33 18 34 17 33 15 33 13"/>
<path d="M600 2339l33-65 33-84 33-104 33-127 34-149 33-170 33-186 33-192 33-189 33-174 33-146 33-111 34-69 33-27 33 10 33 37 33 54 33 64 33 72 34 82 33 97 33 111 33 119 33 117 33 105 33 86 34 65 33 48 33 36 33 29 33 25 33 25 33 25 34 26 33 27 33 28 33 29 33 29 33 30 33 29 34 30 33 28 33 27 33 25 33 22 33 19 33 15 34 10 33 7 33 2 33-1 33-5 33-7 33-10 34-13 33-13 33-15 33-16 33-17 33-17 33-18 34-17 33-16 33-14 33-13 33-10 33-8 33-4 34-1 33 3 33 6 33 9 33 13 33 15 33 18 34 20 33 22 33 24 33 24 33 25 33 25 33 26 34 27 33 26 33 27 33 27 33 28 33 27 33 27 34 27 33 25 33 25 33 23 33 22 33 20 33 17 34 16 33 13 33 12"/>
<path d="M600 2373l33-64 33-82 33-101 33-124 34-144 33-163 33-176 33-181 33-177 33-162 33-136 33-101 34-64 33-26 33 5 33 25 33 33 33 35 33 39 34 54 33 79 33 106 33 121 33 122 33 105 33 82 34 60 33 43 33 35 33 32 33 33 33 34 33 37 34 37 33 38 33 36 33 34 33 31 33 27 33 24 34 21 33 17 33 15 33 11 33 10 33 7 33 6 34 4 33 1 33 0 33-2 33-4 33-7 33-8 34-11 33-13 33-15 33-17 33-18 33-18 33-19 34-17 33-16 33-14 33-11 33-8 33-4 33 0 34 4 33 8 33 12 33 16 33 20 33 23 33 25 34 28 33 29 33 31 33 32 33 32 33 32 33 32 34 31 33 31 33 29 33 28 33 28 33 25 33 25 34 23 33 22 33 20 33 19 33 17 33 16 33 14 34 12 33 12 33 9"/>
<path d="M600 2312l33-75 33-93 33-112 33-130 34-148 33-161 33-169 33-167 33-158 33-139 33-112 33-79 34-43 33-10 33 20 33 41 33 53 33 57 33 59 34 59 33 62 33 69 33 76 33 82 33 82 33 76 34 68 33 58 33 48 33 41 33 38 33 35 33 34 34 34 33 34 33 34 33 34 33 33 33 32 33 30 34 27 33 26 33 22 33 18 33 15 33 10 33 7 34 1 33-2 33-7 33-11 33-14 33-18 33-19 34-22 33-24 33-24 33-24 33-23 33-22 33-20 34-18 33-15 33-11 33-7 33-3 33 1 33 5 34 9 33 14 33 17 33 21 33 24 33 27 33 29 34 30 33 31 33 31 33 31 33 30 33 29 33 28 34 27 33 27 33 26 33 26 33 26 33 26 33 27 34 26 33 24 33 24 33 22 33 19 33 17 33 15 34 12 33 10 33 9"/>
<path d="M600 2224l33-75 33-89 33-104 33-118 34-129 33-137 33-138 33-133 33-121 33-101 33-75 33-46 34-16 33 10 33 29 33 39 33 41 33 39 33 40 34 51 33 70 33 91 33 104 33 106 33 94 33 77 34 58 33 43 33 34 33 27 33 23 33 19 33 17 34 14 33 13 33 11 33 11 33 11 33 12 33 12 34 11 33 11 33 9 33 6 33 3 33 0 33-4 34-7 33-10 33-14 33-17 33-19 33-22 33-22 34-24 33-25 33-25 33-25 33-25 33-24 33-23 34-22 33-19 33-16 33-14 33-9 33-5 33-1 34 4 33 9 33 15 33 19 33 23 33 28 33 32 34 34 33 37 33 39 33 39 33 40 33 38 33 38 34 35 33 34 33 31 33 30 33 29 33 28 33 27 34 27 33 27 33 27 33 27 33 25 33 24 33 22 34 20 33 17 33 14"/>
<path d="M600 2372l33-68 33-86 33-105 33-125 34-143 33-158 33-169 33-171 33-166 33-151 33-128 33-97 34-61 33-27 33 4 33 27 33 40 33 46 33 52 34 61 33 77 33 95 33 109 33 107 33 95 33 73 34 50 33 32 33 19 33 13 33 11 33 10 33 11 34 14 33 15 33 18 33 18 33 20 33 21 33 20 34 20 33 20 33 18 33 18 33 16 33 16 33 16 34 15 33 15 33 14 33 14 33 12 33 11 33 9 34 7 33 4 33 3 33 0 33-1 33-2 33-2 34-1 33 0 33 1 33 4 33 7 33 9 33 12 34 15 33 18 33 19 33 20 33 21 33 21 33 21 34 19 33 19 33 17 33 15 33 15 33 14 33 13 34 13 33 14 33 13 33 15 33 15 33 16 33 17 34 18 33 18 33 19 33 18 33 18 33 17 33 16 34 14 33 13 33 11"/>
<path d="M600 2236l33-75 33-95 33-116 33-138 34-158 33-174 33-184 33-183 33-170 33-146 33-111 33-69 34-23 33 21 33 54 33 75 33 82 33 79 33 73 34 74 33 84 33 103 33 119 33 124 33 116 33 97 34 74 33 55 33 39 33 29 33 23 33 18 33 13 34 10 33 7 33 5 33 5 33 5 33 6 33 7 34 9 33 10 33 10 33 9 33 7 33 6 33 4 34 1 33 0 33-2 33-3 33-5 33-5 33-6 34-8 33-9 33-10 33-12 33-13 33-13 33-14 34-13 33-12 33-10 33-8 33-5 33-2 33 2 34 6 33 10 33 13 33 17 33 20 33 22 33 25 34 27 33 28 33 28 33 29 33 29 33 29 33 28 34 28 33 28 33 27 33 27 33 26 33 27 33 25 34 25 33 23 33 22 33 20 33 18 33 16 33 14 34 12 33 10 33 8"/>
<path d="M600 2291l33-77 33-92 33-106 33-121 34-133 33-140 33-143 33-139 33-129 33-113 33-90 33-64 34-37 33-11 33 9 33 22 33 28 33 31 33 38 34 52 33 71 33 92 33 105 33 105 33 94 33 75 34 58 33 44 33 34 33 29 33 26 33 25 33 23 34 22 33 19 33 17 33 15 33 13 33 12 33 11 34 10 33 10 33 10 33 9 33 9 33 7 33 6 34 5 33 2 33 0 33-3 33-5 33-7 33-10 34-11 33-14 33-14 33-15 33-16 33-16 33-14 34-14 33-13 33-10 33-9 33-5 33-3 33 0 34 4 33 6 33 10 33 14 33 16 33 19 33 22 34 24 33 27 33 28 33 29 33 30 33 30 33 31 34 30 33 31 33 29 33 30 33 28 33 27 33 26 34 26 33 24 33 22 33 22 33 20 33 18 33 17 34 14 33 14 33 12"/>
<path d="M600 2256l33-76 33-91 33-108 33-123 34-137 33-147 33-153 33-152 33-143 33-127 33-104 33-76 34-45 33-16 33 7 33 21 33 24 33 23 33 25 34 41 33 69 33 101 33 119 33 119 33 102 33 77 34 57 33 41 33 34 33 30 33 28 33 29 33 29 34 29 33 30 33 29 33 30 33 29 33 29 33 29 34 28 33 28 33 28 33 27 33 27 33 26 33 24 34 22 33 19 33 15 33 9 33 5 33-2 33-7 34-12 33-16 33-19 33-21 33-21 33-21 33-19 34-18 33-16 33-13 33-12 33-10 33-8 33-6 34-3 33-2 33 1 33 3 33 6 33 9 33 12 34 15 33 17 33 19 33 21 33 22 33 23 33 23 34 24 33 24 33 23 33 24 33 24 33 25 33 25 34 25 33 25 33 25 33 24 33 24 33 22 33 20 34 19 33 17 33 14"/>
<path d="M600 2225l33-76 33-91 33-106 33-121 34-132 33-141 33-145 33-142 33-132 33-115 33-93 33-67 34-38 33-13 33 10 33 26 33 38 33 46 33 55 34 64 33 78 33 90 33 98 33 99 33 92 33 80 34 65 33 50 33 38 33 31 33 26 33 23 33 23 34 24 33 24 33 24 33 24 33 24 33 22 33 20 34 18 33 13 33 10 33 5 33 2 33-3 33-5 34-7 33-9 33-10 33-10 33-10 33-11 33-12 34-14 33-15 33-17 33-19 33-20 33-20 33-20 34-19 33-17 33-15 33-11 33-7 33-2 33 3 34 8 33 15 33 19 33 25 33 30 33 34 33 38 34 41 33 42 33 44 33 43 33 43 33 41 33 39 34 37 33 34 33 30 33 28 33 24 33 22 33 19 34 17 33 15 33 14 33 12 33 11 33 10 33 9 34 9 33 8 33 8"/>
<path d="M600 2291l33-73 33-90 33-107 33-124 34-140 33-151 33-156 33-155 33-143 33-124 33-96 33-65 34-30 33 1 33 28 33 46 33 56 33 59 33 59 34 60 33 64 33 70 33 74 33 75 33 69 33 60 34 48 33 38 33 30 33 27 33 24 33 25 33 26 34 26 33 28 33 29 33 28 33 29 33 27 33 27 34 25 33 22 33 21 33 17 33 15 33 11 33 8 34 4 33 0 33-3 33-7 33-10 33-12 33-15 34-17 33-19 33-19 33-20 33-20 33-20 33-18 34-17 33-15 33-13 33-9 33-7 33-3 33 0 34 4 33 7 33 11 33 15 33 17 33 21 33 24 34 26 33 29 33 30 33 31 33 32 33 33 33 32 34 33 33 31 33 31 33 30 33 28 33 26 33 26 34 23 33 22 33 20 33 19 33 18 33 16 33 15 34 14 33 13 33 11"/>
<path d="M600 2360l33-57 33-70 33-84 33-100 34-115 33-127 33-136 33-141 33-138 33-128 33-112 33-90 34-63 33-37 33-13 33 2 33 12 33 15 33 19 34 30 33 51 33 75 33 95 33 102 33 94 33 76 34 55 33 37 33 25 33 19 33 17 33 16 33 18 34 21 33 22 33 23 33 25 33 26 33 26 33 25 34 25 33 24 33 21 33 20 33 18 33 15 33 12 34 9 33 6 33 4 33 0 33-3 33-5 33-9 34-10 33-14 33-15 33-16 33-18 33-18 33-18 34-17 33-16 33-13 33-9 33-7 33-2 33 2 34 7 33 11 33 15 33 19 33 21 33 24 33 26 34 27 33 27 33 27 33 27 33 27 33 27 33 26 34 26 33 27 33 26 33 26 33 27 33 26 33 27 34 26 33 26 33 25 33 24 33 22 33 21 33 18 34 17 33 15 33 12"/>
<path d="M600 2316l33-63 33-80 33-101 33-123 34-145 33-165 33-179 33-185 33-179 33-162 33-131 33-93 34-48 33-4 33 34 33 65 33 83 33 94 33 99 34 99 33 100 33 100 33 95 33 89 33 77 33 64 34 50 33 38 33 30 33 24 33 21 33 19 33 19 34 20 33 19 33 19 33 19 33 19 33 17 33 17 34 15 33 15 33 13 33 11 33 10 33 8 33 7 34 4 33 2 33 1 33-2 33-3 33-5 33-7 34-7 33-9 33-10 33-10 33-11 33-11 33-11 34-11 33-11 33-10 33-8 33-7 33-5 33-2 34 1 33 3 33 7 33 9 33 11 33 14 33 16 34 19 33 19 33 21 33 22 33 24 33 24 33 25 34 25 33 27 33 26 33 27 33 27 33 27 33 27 34 26 33 25 33 24 33 23 33 21 33 19 33 17 34 16 33 14 33 12"/>
<path d="M600 2280l33-76 33-92 33-111 33-129 34-147 33-160 33-169 33-171 33-163 33-147 33-122 33-91 34-57 33-23 33 5 33 26 33 40 33 49 33 55 34 65 33 78 33 92 33 101 33 102 33 95 33 83 34 68 33 57 33 47 33 44 33 41 33 41 33 42 34 42 33 42 33 41 33 40 33 38 33 36 33 32 34 30 33 26 33 24 33 19 33 16 33 13 33 9 34 5 33 2 33-2 33-6 33-8 33-12 33-14 34-16 33-19 33-20 33-21 33-21 33-21 33-21 34-18 33-17 33-12 33-9 33-4 33 1 33 6 34 10 33 14 33 18 33 19 33 22 33 23 33 24 34 25 33 25 33 26 33 27 33 26 33 26 33 25 34 25 33 24 33 22 33 22 33 22 33 20 33 20 34 20 33 19 33 18 33 18 33 16 33 16 33 15 34 13 33 11 33 10"/>
<path d="M600 2242l33-84 33-102 33-121 33-140 34-156 33-167 33-172 33-168 33-154 33-131 33-100 33-64 34-27 33 7 33 36 33 54 33 67 33 76 33 85 34 96 33 108 33 116 33 115 33 105 33 87 33 67 34 49 33 33 33 25 33 18 33 16 33 16 33 16 34 16 33 18 33 18 33 18 33 19 33 18 33 18 34 17 33 16 33 14 33 12 33 11 33 7 33 5 34 3 33-1 33-3 33-6 33-8 33-10 33-13 34-14 33-15 33-16 33-16 33-16 33-14 33-13 34-11 33-9 33-6 33-2 33 1 33 4 33 8 34 12 33 15 33 18 33 21 33 23 33 25 33 27 34 27 33 28 33 28 33 28 33 28 33 26 33 26 34 26 33 24 33 23 33 23 33 22 33 21 33 20 34 20 33 19 33 18 33 17 33 17 33 15 33 15 34 13 33 12 33 11"/>
<path d="M600 2387l33-66 33-84 33-103 33-123 34-139 33-154 33-163 33-162 33-154 33-137 33-110 33-78 34-42 33-10 33 19 33 36 33 46 33 49 33 54 34 62 33 76 33 89 33 94 33 89 33 73 33 53 34 35 33 19 33 12 33 7 33 6 33 7 33 10 34 12 33 15 33 18 33 19 33 22 33 23 33 24 34 23 33 24 33 23 33 22 33 20 33 19 33 17 34 14 33 10 33 7 33 2 33-2 33-7 33-11 34-14 33-16 33-17 33-18 33-17 33-16 33-14 34-12 33-9 33-7 33-4 33-1 33 3 33 6 34 10 33 13 33 16 33 18 33 22 33 24 33 25 34 27 33 28 33 29 33 28 33 29 33 28 33 28 34 27 33 27 33 26 33 26 33 26 33 26 33 25 34 24 33 24 33 23 33 21 33 20 33 18 33 17 34 15 33 13 33 11"/>
<path d="M600 2248l33-78 33-92 33-107 33-120 34-133 33-141 33-146 33-145 33-137 33-123 33-104 33-81 34-57 33-32 33-12 33 3 33 15 33 25 33 38 34 54 33 73 33 89 33 99 33 99 33 91 33 76 34 62 33 50 33 42 33 37 33 35 33 34 33 35 34 35 33 36 33 36 33 36 33 36 33 35 33 34 34 33 33 32 33 29 33 28 33 25 33 22 33 18 34 15 33 12 33 7 33 3 33 0 33-5 33-8 34-12 33-14 33-17 33-18 33-20 33-21 33-21 34-20 33-18 33-17 33-14 33-12 33-8 33-4 34-1 33 3 33 8 33 11 33 15 33 18 33 22 34 24 33 26 33 28 33 30 33 30 33 30 33 31 34 31 33 30 33 29 33 27 33 27 33 25 33 24 34 22 33 21 33 19 33 18 33 15 33 14 33 13 34 11 33 10 33 8"/>
<path d="M600 2293l33-71 33-88 33-104 33-120 34-137 33-148 33-156 33-157 33-151 33-136 33-115 33-87 34-56 33-26 33 2 33 22 33 35 33 41 33 46 34 51 33 60 33 74 33 87 33 95 33 93 33 84 34 69 33 55 33 42 33 35 33 30 33 29 33 29 34 31 33 32 33 33 33 33 33 33 33 33 33 30 34 29 33 26 33 22 33 19 33 14 33 11 33 7 34 2 33-1 33-5 33-9 33-11 33-14 33-16 34-17 33-18 33-19 33-18 33-18 33-17 33-15 34-14 33-12 33-10 33-9 33-8 33-6 33-5 34-2 33 1 33 7 33 12 33 19 33 26 33 33 34 39 33 42 33 43 33 43 33 41 33 39 33 35 34 33 33 30 33 29 33 27 33 26 33 26 33 24 34 24 33 22 33 21 33 19 33 17 33 15 33 13 34 11 33 10 33 7"/>
<path d="M600 2305l33-58 33-74 33-93 33-112 34-132 33-151 33-165 33-172 33-167 33-154 33-128 33-93 34-55 33-16 33 17 33 41 33 56 33 64 33 71 34 80 33 91 33 100 33 102 33 95 33 79 33 61 34 42 33 29 33 21 33 16 33 15 33 15 33 17 34 18 33 19 33 20 33 21 33 21 33 20 33 20 34 19 33 17 33 15 33 12 33 10 33 8 33 4 34 3 33-1 33-2 33-5 33-6 33-8 33-8 34-9 33-10 33-10 33-9 33-9 33-8 33-7 34-6 33-4 33-1 33 0 33 4 33 6 33 9 34 12 33 15 33 18 33 20 33 23 33 24 33 26 34 27 33 27 33 28 33 28 33 28 33 28 33 26 34 27 33 25 33 25 33 25 33 24 33 24 33 23 34 22 33 21 33 20 33 19 33 18 33 16 33 14 34 13 33 11 33 9"/>
<path d="M600 2422l33-64 33-82 33-103 33-124 34-146 33-164 33-175 33-177 33-170 33-150 33-122 33-86 34-45 33-7 33 23 33 42 33 46 33 42 33 37 34 43 33 61 33 84 33 100 33 100 33 84 33 61 34 38 33 21 33 13 33 10 33 11 33 14 33 19 34 22 33 26 33 29 33 32 33 33 33 34 33 33 34 32 33 29 33 27 33 23 33 20 33 16 33 13 34 10 33 6 33 4 33 1 33-1 33-4 33-5 34-8 33-9 33-11 33-11 33-13 33-12 33-12 34-11 33-10 33-9 33-6 33-4 33 0 33 2 34 5 33 8 33 11 33 13 33 15 33 17 33 18 34 19 33 20 33 20 33 20 33 20 33 21 33 21 34 22 33 22 33 23 33 22 33 23 33 24 33 23 34 23 33 22 33 22 33 21 33 21 33 19 33 18 34 17 33 16 33 14"/>
<path d="M600 2392l33-55 33-70 33-88 33-106 34-124 33-141 33-153 33-158 33-156 33-144 33-123 33-97 34-65 33-35 33-9 33 12 33 28 33 44 33 60 34 81 33 100 33 116 33 120 33 113 33 94 33 70 34 44 33 24 33 6 33-4 33-9 33-11 33-8 34-3 33 2 33 7 33 12 33 17 33 19 33 20 34 21 33 21 33 20 33 19 33 16 33 14 33 12 34 8 33 6 33 2 33 0 33-3 33-5 33-8 34-11 33-11 33-13 33-14 33-14 33-14 33-14 34-12 33-11 33-8 33-6 33-2 33 2 33 5 34 10 33 14 33 18 33 21 33 24 33 27 33 29 34 31 33 31 33 33 33 33 33 32 33 33 33 32 34 32 33 30 33 30 33 29 33 27 33 26 33 25 34 23 33 22 33 20 33 19 33 17 33 15 33 14 34 12 33 11 33 9"/>
<path d="M600 2241l33-65 33-81 33-99 33-119 34-138 33-157 33-169 33-174 33-171 33-155 33-131 33-97 34-59 33-19 33 16 33 44 33 62 33 74 33 83 34 92 33 102 33 111 33 114 33 109 33 96 33 79 34 61 33 45 33 36 33 30 33 28 33 28 33 28 34 29 33 28 33 28 33 27 33 25 33 25 33 22 34 21 33 18 33 17 33 14 33 12 33 9 33 7 34 3 33 1 33-2 33-5 33-7 33-11 33-12 34-14 33-16 33-17 33-18 33-18 33-18 33-18 34-16 33-15 33-12 33-11 33-7 33-5 33-1 34 1 33 4 33 8 33 10 33 14 33 16 33 19 34 21 33 23 33 24 33 26 33 26 33 26 33 26 34 25 33 25 33 24 33 24 33 24 33 24 33 24 34 25 33 25 33 25 33 25 33 24 33 22 33 20 34 18 33 16 33 14"/>
<path d="M600 2241l33-78 33-94 33-113 33-131 34-149 33-161 33-169 33-169 33-159 33-141 33-114 33-81 34-44 33-10 33 20 33 41 33 55 33 63 33 72 34 83 33 99 33 116 33 126 33 127 33 114 33 93 34 71 33 50 33 34 33 26 33 23 33 22 33 23 34 26 33 28 33 29 33 29 33 29 33 28 33 25 34 22 33 18 33 14 33 8 33 4 33 0 33-4 34-9 33-11 33-14 33-15 33-17 33-19 33-18 34-19 33-19 33-19 33-18 33-17 33-15 33-14 34-11 33-9 33-7 33-4 33-1 33 1 33 4 34 6 33 8 33 11 33 14 33 18 33 22 33 26 34 30 33 33 33 36 33 36 33 36 33 35 33 34 34 31 33 29 33 28 33 26 33 24 33 23 33 22 34 21 33 19 33 18 33 17 33 15 33 14 33 12 34 11 33 9 33 8"/>
<path d="M600 2218l33-76 33-96 33-120 33-143 34-166 33-185 33-194 33-191 33-176 33-145 33-103 33-53 34-1 33 43 33 77 33 94 33 93 33 82 33 68 34 58 33 62 33 74 33 91 33 103 33 104 33 93 34 76 33 58 33 42 33 31 33 26 33 24 33 24 34 27 33 28 33 31 33 32 33 33 33 31 33 29 34 23 33 16 33 10 33 2 33-3 33-8 33-11 34-12 33-11 33-11 33-11 33-11 33-11 33-13 34-14 33-16 33-18 33-19 33-20 33-19 33-18 34-16 33-13 33-10 33-6 33-2 33 2 33 6 34 10 33 13 33 16 33 19 33 22 33 24 33 26 34 27 33 29 33 30 33 30 33 30 33 30 33 29 34 28 33 28 33 26 33 26 33 24 33 23 33 23 34 21 33 19 33 19 33 18 33 16 33 14 33 14 34 11 33 11 33 9"/>
<path d="M600 2261l33-72 33-86 33-101 33-117 34-129 33-141 33-147 33-147 33-141 33-128 33-108 33-82 34-56 33-28 33-4 33 13 33 24 33 28 33 34 34 43 33 58 33 80 33 98 33 110 33 109 33 97 34 81 33 62 33 48 33 37 33 32 33 29 33 27 34 28 33 29 33 28 33 29 33 29 33 29 33 28 34 26 33 25 33 23 33 21 33 18 33 15 33 11 34 8 33 5 33 2 33-2 33-3 33-5 33-6 34-6 33-5 33-6 33-6 33-8 33-11 33-14 34-17 33-18 33-19 33-16 33-13 33-10 33-7 34-3 33-3 33 0 33 1 33 4 33 8 33 12 34 17 33 21 33 25 33 27 33 28 33 29 33 30 34 29 33 28 33 27 33 26 33 25 33 24 33 24 34 23 33 23 33 22 33 21 33 20 33 19 33 18 34 17 33 15 33 13"/>
<path d="M600 2382l33-65 33-84 33-104 33-126 34-146 33-164 33-174 33-176 33-167 33-146 33-117 33-80 34-39 33-1 33 32 33 55 33 71 33 76 33 79 34 78 33 77 33 74 33 70 33 62 33 51 33 40 34 27 33 18 33 12 33 9 33 7 33 8 33 11 34 12 33 15 33 17 33 20 33 21 33 23 33 23 34 25 33 24 33 24 33 23 33 21 33 18 33 16 34 13 33 9 33 5 33 3 33-1 33-4 33-5 34-8 33-9 33-9 33-10 33-9 33-8 33-7 34-6 33-4 33-3 33 0 33 1 33 4 33 7 34 9 33 13 33 16 33 19 33 22 33 24 33 27 34 29 33 29 33 30 33 30 33 29 33 28 33 27 34 25 33 25 33 22 33 22 33 21 33 20 33 20 34 20 33 20 33 19 33 19 33 19 33 17 33 16 34 15 33 13 33 11"/>
<path d="M600 2242l33-83 33-98 33-116 33-132 34-144 33-154 33-155 33-151 33-138 33-118 33-90 33-59 34-26 33 3 33 26 33 41 33 51 33 56 33 63 34 76 33 90 33 103 33 108 33 102 33 88 33 70 34 50 33 36 33 25 33 20 33 16 33 15 33 14 34 14 33 15 33 14 33 14 33 15 33 13 33 13 34 12 33 11 33 9 33 9 33 7 33 5 33 4 34 3 33 1 33 0 33-2 33-3 33-5 33-5 34-6 33-7 33-7 33-7 33-7 33-6 33-6 34-4 33-4 33-1 33 0 33 3 33 4 33 7 34 9 33 12 33 14 33 15 33 18 33 19 33 21 34 22 33 22 33 23 33 23 33 23 33 22 33 23 34 22 33 22 33 22 33 22 33 21 33 23 33 22 34 22 33 22 33 22 33 20 33 20 33 18 33 17 34 15 33 14 33 12"/>
<path d="M600 2265l33-78 33-95 33-113 33-130 34-145 33-157 33-162 33-159 33-149 33-130 33-104 33-72 34-39 33-7 33 19 33 37 33 49 33 55 33 62 34 70 33 83 33 93 33 99 33 96 33 85 33 69 34 54 33 40 33 31 33 26 33 24 33 24 33 24 34 26 33 27 33 27 33 29 33 28 33 29 33 27 34 27 33 24 33 23 33 21 33 18 33 15 33 11 34 7 33 1 33-4 33-13 33-20 33-28 33-34 34-37 33-35 33-29 33-20 33-9 33 1 33 8 34 12 33 12 33 11 33 7 33 5 33 4 33 3 34 4 33 6 33 8 33 11 33 13 33 15 33 17 34 20 33 20 33 22 33 23 33 24 33 25 33 24 34 26 33 25 33 26 33 26 33 26 33 26 33 26 34 25 33 24 33 23 33 21 33 20 33 18 33 16 34 15 33 13 33 11"/>
<path d="M600 2406l33-59 33-82 33-108 33-141 34-173 33-204 33-225 33-234 33-223 33-192 33-143 33-81 34-15 33 45 33 92 33 119 33 126 33 118 33 105 34 90 33 80 33 75 33 70 33 63 33 53 33 40 34 29 33 18 33 12 33 9 33 9 33 11 33 13 34 15 33 18 33 20 33 21 33 22 33 22 33 21 34 19 33 18 33 15 33 12 33 10 33 7 33 5 34 2 33 1 33 0 33-1 33-2 33-3 33-4 34-5 33-6 33-7 33-7 33-6 33-7 33-6 34-4 33-3 33-1 33 1 33 4 33 7 33 10 34 12 33 14 33 17 33 19 33 21 33 23 33 24 34 26 33 27 33 27 33 29 33 29 33 29 33 29 34 28 33 28 33 28 33 27 33 25 33 25 33 24 34 22 33 21 33 19 33 18 33 17 33 15 33 14 34 11 33 11 33 9"/>
<path d="M600 2237l33-78 33-92 33-107 33-122 34-133 33-142 33-146 33-144 33-134 33-119 33-98 33-71 34-42 33-16 33 9 33 25 33 37 33 44 33 53 34 69 33 88 33 109 33 121 33 122 33 109 33 91 34 70 33 51 33 38 33 29 33 22 33 19 33 16 34 15 33 15 33 14 33 16 33 16 33 16 33 17 34 16 33 16 33 15 33 13 33 11 33 9 33 6 34 3 33 0 33-3 33-7 33-9 33-13 33-15 34-19 33-20 33-21 33-23 33-23 33-22 33-21 34-19 33-16 33-14 33-10 33-5 33-2 33 3 34 8 33 11 33 16 33 18 33 22 33 24 33 26 34 28 33 28 33 28 33 29 33 29 33 28 33 27 34 27 33 27 33 25 33 25 33 25 33 24 33 24 34 24 33 23 33 22 33 22 33 21 33 19 33 18 34 16 33 14 33 13"/>
<path d="M600 2341l33-71 33-90 33-114 33-139 34-164 33-184 33-198 33-202 33-193 33-171 33-135 33-91 34-42 33 5 33 46 33 74 33 91 33 98 33 98 34 99 33 99 33 101 33 98 33 90 33 77 33 60 34 43 33 30 33 20 33 15 33 14 33 12 33 14 34 15 33 17 33 18 33 20 33 21 33 24 33 26 34 27 33 28 33 30 33 30 33 29 33 28 33 25 34 23 33 18 33 12 33 7 33-1 33-7 33-13 34-18 33-21 33-23 33-24 33-22 33-21 33-18 34-17 33-13 33-10 33-8 33-3 33-1 33 3 34 7 33 10 33 13 33 17 33 19 33 22 33 24 34 26 33 27 33 28 33 28 33 29 33 27 33 28 34 26 33 26 33 25 33 24 33 23 33 23 33 22 34 21 33 21 33 20 33 19 33 17 33 17 33 15 34 13 33 12 33 11"/>
<path d="M600 2332l33-75 33-95 33-117 33-139 34-160 33-176 33-185 33-185 33-173 33-150 33-116 33-77 34-33 33 8 33 41 33 62 33 72 33 73 33 72 34 73 33 81 33 91 33 95 33 90 33 79 33 61 34 44 33 32 33 25 33 22 33 22 33 24 33 26 34 29 33 30 33 32 33 34 33 34 33 33 33 33 34 32 33 29 33 27 33 25 33 21 33 17 33 14 34 10 33 5 33 2 33-3 33-7 33-11 33-14 34-17 33-21 33-22 33-24 33-25 33-25 33-24 34-23 33-21 33-19 33-15 33-11 33-7 33-3 34 2 33 6 33 11 33 14 33 19 33 21 33 25 34 27 33 28 33 30 33 31 33 31 33 32 33 31 34 31 33 31 33 30 33 30 33 28 33 28 33 27 34 25 33 25 33 23 33 21 33 19 33 18 33 16 34 14 33 12 33 10"/>
<path d="M600 2297l33-74 33-93 33-114 33-138 34-159 33-179 33-191 33-195 33-188 33-168 33-136 33-96 34-50 33-4 33 34 33 63 33 76 33 80 33 80 34 86 33 100 33 118 33 132 33 131 33 115 33 91 34 66 33 46 33 33 33 25 33 23 33 22 33 22 34 23 33 24 33 24 33 25 33 24 33 24 33 23 34 21 33 20 33 18 33 16 33 13 33 11 33 9 34 6 33 5 33 2 33 1 33-1 33-3 33-4 34-5 33-6 33-8 33-10 33-11 33-14 33-15 34-18 33-18 33-19 33-18 33-16 33-13 33-9 34-5 33 0 33 6 33 10 33 14 33 18 33 21 34 23 33 26 33 26 33 28 33 28 33 28 33 27 34 27 33 25 33 25 33 24 33 23 33 22 33 21 34 21 33 20 33 19 33 19 33 18 33 17 33 17 34 14 33 14 33 11"/>
<path d="M600 2337l33-70 33-85 33-102 33-118 34-132 33-142 33-147 33-146 33-138 33-120 33-98 33-71 34-40 33-13 33 8 33 22 33 27 33 28 33 31 34 43 33 64 33 86 33 103 33 106 33 95 33 76 34 58 33 44 33 35 33 32 33 31 33 31 33 31 34 30 33 28 33 24 33 20 33 16 33 12 33 8 34 6 33 5 33 5 33 4 33 4 33 3 33 2 34 0 33-2 33-4 33-7 33-10 33-12 33-15 34-16 33-19 33-20 33-20 33-20 33-20 33-19 34-17 33-15 33-13 33-9 33-5 33-2 33 2 34 6 33 11 33 14 33 18 33 22 33 24 33 28 34 29 33 32 33 33 33 33 33 34 33 34 33 33 34 33 33 32 33 30 33 30 33 29 33 28 33 26 34 26 33 24 33 24 33 22 33 20 33 19 33 17 34 16 33 13 33 12"/>
<path d="M600 2252l33-64 33-81 33-99 33-119 34-137 33-154 33-164 33-166 33-159 33-141 33-114 33-77 34-37 33 1 33 33 33 53 33 61 33 60 33 56 34 58 33 71 33 93 33 114 33 123 33 118 33 100 34 74 33 50 33 32 33 20 33 13 33 11 33 10 34 10 33 10 33 11 33 10 33 11 33 11 33 10 34 9 33 8 33 7 33 6 33 4 33 3 33 1 34 0 33-2 33-2 33-4 33-2 33-2 33 1 34 3 33 8 33 11 33 14 33 13 33 11 33 6 34-2 33-9 33-17 33-21 33-22 33-22 33-17 34-12 33-5 33 2 33 8 33 13 33 17 33 21 34 24 33 26 33 27 33 28 33 28 33 28 33 28 34 28 33 27 33 26 33 27 33 26 33 26 33 25 34 24 33 24 33 23 33 21 33 20 33 18 33 16 34 15 33 12 33 11"/>
<path d="M600 2329l33-72 33-90 33-111 33-133 34-154 33-173 33-186 33-189 33-183 33-164 33-137 33-102 34-63 33-27 33 4 33 26 33 44 33 60 33 79 34 100 33 119 33 127 33 122 33 106 33 84 33 63 34 46 33 36 33 29 33 28 33 28 33 28 33 29 34 30 33 30 33 31 33 30 33 29 33 29 33 27 34 27 33 25 33 23 33 21 33 20 33 17 33 14 34 11 33 7 33 2 33-2 33-7 33-12 33-14 34-17 33-18 33-16 33-15 33-11 33-9 33-5 34-2 33 0 33 1 33 4 33 4 33 5 33 7 34 8 33 9 33 12 33 14 33 15 33 17 33 19 34 20 33 21 33 22 33 22 33 22 33 23 33 22 34 23 33 23 33 24 33 23 33 24 33 24 33 24 34 23 33 22 33 21 33 20 33 18 33 16 33 14 34 12 33 11 33 10"/>
<path d="M600 2316l33-65 33-85 33-108 33-133 34-159 33-183 33-199 33-206 33-199 33-176 33-141 33-92 34-38 33 17 33 62 33 94 33 109 33 107 33 98 34 89 33 87 33 95 33 103 33 104 33 93 33 76 34 56 33 40 33 29 33 24 33 21 33 21 33 22 34 22 33 23 33 23 33 23 33 23 33 22 33 21 34 19 33 19 33 16 33 14 33 13 33 10 33 7 34 5 33 2 33 0 33-4 33-6 33-10 33-13 34-15 33-18 33-20 33-21 33-22 33-22 33-21 34-20 33-16 33-14 33-10 33-7 33-2 33 1 34 5 33 9 33 11 33 14 33 17 33 18 33 20 34 21 33 21 33 23 33 23 33 23 33 23 33 24 34 25 33 24 33 26 33 26 33 26 33 27 33 27 34 27 33 27 33 25 33 24 33 23 33 20 33 18 34 17 33 14 33 12"/>
<path d="M600 2172l33-80 33-93 33-106 33-116 34-125 33-130 33-130 33-124 33-114 33-97 33-78 33-55 34-33 33-14 33 0 33 11 33 23 33 37 33 57 34 82 33 104 33 118 33 122 33 113 33 97 33 80 34 65 33 53 33 46 33 39 33 35 33 31 33 27 34 22 33 18 33 15 33 11 33 9 33 7 33 6 34 6 33 4 33 3 33 2 33-1 33-4 33-6 34-9 33-13 33-15 33-17 33-20 33-21 33-23 34-23 33-23 33-23 33-22 33-20 33-19 33-17 34-14 33-11 33-8 33-4 33 0 33 4 33 8 34 12 33 16 33 20 33 24 33 26 33 29 33 31 34 31 33 33 33 33 33 32 33 32 33 31 33 30 34 30 33 28 33 29 33 28 33 28 33 27 33 27 34 26 33 25 33 23 33 21 33 18 33 17 33 14 34 11 33 10 33 8"/>
<path d="M600 2383l33-62 33-80 33-101 33-122 34-144 33-161 33-172 33-175 33-167 33-146 33-116 33-77 34-37 33 1 33 29 33 41 33 40 33 34 33 36 34 53 33 81 33 104 33 110 33 95 33 68 33 42 34 24 33 13 33 9 33 10 33 13 33 15 33 19 34 22 33 25 33 27 33 29 33 30 33 31 33 31 34 31 33 30 33 28 33 26 33 24 33 22 33 18 34 15 33 12 33 9 33 6 33 2 33-1 33-3 34-5 33-7 33-8 33-10 33-11 33-14 33-17 34-22 33-25 33-29 33-31 33-30 33-27 33-20 34-12 33-3 33 8 33 16 33 23 33 30 33 33 34 35 33 36 33 35 33 34 33 34 33 32 33 31 34 29 33 29 33 28 33 28 33 27 33 27 33 27 34 26 33 26 33 24 33 24 33 22 33 20 33 18 34 16 33 14 33 12"/>
<path d="M600 2308l33-64 33-80 33-100 33-119 34-139 33-156 33-168 33-172 33-167 33-151 33-125 33-90 34-51 33-11 33 24 33 48 33 65 33 72 33 80 34 90 33 104 33 116 33 117 33 109 33 89 33 66 34 47 33 31 33 23 33 18 33 17 33 18 33 18 34 22 33 23 33 27 33 29 33 31 33 33 33 33 34 31 33 27 33 23 33 15 33 8 33 1 33-5 34-11 33-15 33-17 33-19 33-19 33-18 33-19 34-18 33-18 33-18 33-18 33-18 33-18 33-17 34-17 33-15 33-14 33-12 33-10 33-7 33-5 34-1 33 2 33 5 33 10 33 12 33 17 33 19 34 22 33 25 33 26 33 28 33 29 33 29 33 30 34 29 33 29 33 29 33 28 33 29 33 28 33 28 34 29 33 27 33 28 33 26 33 25 33 24 33 21 34 20 33 17 33 15"/>
<path d="M600 2271l33-72 33-92 33-114 33-140 34-164 33-185 33-198 33-200 33-189 33-163 33-125 33-77 34-26 33 23 33 62 33 87 33 96 33 95 33 89 34 85 33 87 33 92 33 96 33 95 33 86 33 72 34 56 33 44 33 35 33 32 33 30 33 30 33 31 34 30 33 29 33 29 33 28 33 28 33 26 33 27 34 25 33 25 33 23 33 22 33 19 33 16 33 12 34 9 33 5 33 1 33-3 33-8 33-10 33-14 34-17 33-19 33-21 33-24 33-25 33-26 33-27 34-27 33-26 33-24 33-20 33-18 33-13 33-9 34-5 33-1 33 3 33 8 33 14 33 18 33 23 34 29 33 31 33 35 33 37 33 37 33 37 33 36 34 35 33 33 33 32 33 30 33 29 33 28 33 27 34 26 33 25 33 23 33 22 33 20 33 18 33 15 34 13 33 11 33 9"/>
<path d="M600 2298l33-71 33-87 33-105 33-123 34-139 33-152 33-160 33-160 33-153 33-135 33-111 33-81 34-49 33-18 33 9 33 29 33 44 33 53 33 60 34 67 33 74 33 80 33 84 33 82 33 75 33 67 34 55 33 46 33 39 33 34 33 32 33 33 33 34 34 36 33 37 33 40 33 41 33 41 33 42 33 41 34 40 33 36 33 34 33 29 33 25 33 18 33 13 34 6 33-2 33-7 33-15 33-19 33-25 33-28 34-31 33-32 33-33 33-32 33-31 33-30 33-26 34-23 33-20 33-16 33-11 33-7 33-2 33 2 34 6 33 10 33 13 33 17 33 20 33 22 33 25 34 26 33 27 33 29 33 29 33 30 33 29 33 30 34 30 33 29 33 30 33 28 33 29 33 28 33 27 34 27 33 25 33 24 33 22 33 21 33 18 33 17 34 15 33 13 33 11"/>
<path d="M600 2345l33-74 33-93 33-114 33-134 34-154 33-169 33-177 33-176 33-164 33-143 33-111 33-73 34-33 33 6 33 36 33 57 33 65 33 67 33 65 34 65 33 71 33 78 33 82 33 80 33 69 33 54 34 39 33 29 33 22 33 20 33 20 33 23 33 25 34 26 33 28 33 29 33 29 33 29 33 28 33 27 34 27 33 24 33 22 33 20 33 17 33 15 33 11 34 9 33 6 33 3 33 1 33-1 33-3 33-3 34-4 33-4 33-5 33-7 33-9 33-12 33-15 34-16 33-19 33-18 33-17 33-14 33-10 33-5 34 0 33 5 33 10 33 13 33 18 33 20 33 24 34 25 33 27 33 28 33 29 33 30 33 29 33 29 34 29 33 28 33 28 33 27 33 26 33 26 33 25 34 24 33 23 33 22 33 21 33 19 33 18 33 16 34 14 33 13 33 10"/>
<path d="M600 2337l33-60 33-76 33-98 33-120 34-144 33-165 33-181 33-189 33-185 33-169 33-141 33-100 34-55 33-8 33 34 33 67 33 87 33 97 33 100 34 100 33 100 33 101 33 100 33 95 33 85 33 69 34 53 33 38 33 25 33 18 33 13 33 11 33 11 34 12 33 12 33 13 33 14 33 14 33 14 33 14 34 15 33 14 33 14 33 13 33 11 33 9 33 7 34 6 33 3 33 0 33 0 33-2 33-3 33-4 34-5 33-8 33-10 33-13 33-18 33-21 33-24 34-25 33-23 33-20 33-15 33-9 33-3 33 2 34 7 33 11 33 14 33 17 33 20 33 22 33 24 34 26 33 28 33 29 33 31 33 31 33 31 33 31 34 31 33 31 33 29 33 28 33 27 33 26 33 25 34 24 33 22 33 22 33 20 33 19 33 17 33 17 34 14 33 14 33 12"/>
<path d="M600 2252l33-80 33-98 33-117 33-135 34-152 33-162 33-166 33-162 33-148 33-124 33-93 33-57 34-19 33 15 33 43 33 62 33 73 33 78 33 78 34 80 33 82 33 85 33 85 33 81 33 71 33 57 34 44 33 32 33 23 33 18 33 15 33 14 33 15 34 16 33 16 33 18 33 18 33 18 33 18 33 18 34 18 33 16 33 15 33 14 33 11 33 10 33 7 34 5 33 3 33 1 33-2 33-4 33-5 33-8 34-8 33-9 33-10 33-10 33-10 33-9 33-8 34-5 33-3 33 0 33 3 33 7 33 10 33 14 34 17 33 19 33 20 33 20 33 21 33 20 33 20 34 20 33 21 33 20 33 21 33 21 33 22 33 23 34 23 33 24 33 23 33 24 33 23 33 22 33 22 34 21 33 20 33 19 33 17 33 17 33 14 33 14 34 11 33 11 33 9"/>
<path d="M600 2264l33-72 33-93 33-118 33-146 34-173 33-197 33-213 33-217 33-207 33-179 33-136 33-83 34-24 33 32 33 79 33 109 33 126 33 131 33 131 34 133 33 135 33 135 33 127 33 109 33 84 33 58 34 37 33 21 33 12 33 8 33 7 33 7 33 10 34 11 33 14 33 15 33 17 33 18 33 18 33 17 34 16 33 15 33 12 33 10 33 6 33 2 33 0 34-3 33-5 33-5 33-6 33-6 33-6 33-7 34-7 33-9 33-9 33-11 33-12 33-12 33-12 34-12 33-9 33-7 33-5 33-3 33 1 33 4 34 7 33 10 33 13 33 16 33 18 33 20 33 23 34 24 33 25 33 26 33 26 33 27 33 27 33 26 34 27 33 25 33 26 33 25 33 24 33 23 33 22 34 22 33 21 33 19 33 18 33 18 33 15 33 15 34 13 33 11 33 10"/>
<path d="M600 2277l33-78 33-96 33-117 33-137 34-158 33-172 33-182 33-181 33-171 33-149 33-119 33-80 34-39 33-1 33 31 33 52 33 61 33 65 33 67 34 74 33 87 33 102 33 111 33 110 33 98 33 80 34 62 33 49 33 40 33 36 33 32 33 32 33 32 34 31 33 30 33 30 33 29 33 27 33 26 33 25 34 22 33 20 33 18 33 15 33 13 33 10 33 8 34 4 33 3 33-1 33-3 33-6 33-8 33-11 34-14 33-15 33-17 33-18 33-18 33-19 33-18 34-17 33-15 33-13 33-10 33-7 33-4 33 1 34 4 33 8 33 12 33 15 33 18 33 22 33 24 34 25 33 28 33 28 33 28 33 28 33 28 33 27 34 25 33 24 33 24 33 22 33 21 33 22 33 21 34 20 33 21 33 21 33 20 33 20 33 19 33 17 34 15 33 14 33 12"/>
<path d="M600 2276l33-68 33-84 33-101 33-118 34-135 33-148 33-157 33-158 33-151 33-134 33-110 33-78 34-43 33-8 33 22 33 42 33 54 33 56 33 60 34 67 33 81 33 96 33 104 33 100 33 85 33 67 34 49 33 38 33 30 33 27 33 24 33 22 33 21 34 19 33 17 33 17 33 17 33 17 33 19 33 21 34 22 33 23 33 24 33 23 33 23 33 21 33 18 34 14 33 9 33 3 33-1 33-7 33-10 33-14 34-17 33-17 33-18 33-18 33-17 33-17 33-15 34-14 33-13 33-11 33-9 33-7 33-4 33-2 34 1 33 3 33 6 33 9 33 12 33 14 33 16 34 18 33 19 33 21 33 22 33 22 33 23 33 23 34 23 33 23 33 24 33 23 33 25 33 24 33 25 34 25 33 26 33 25 33 24 33 24 33 22 33 20 34 19 33 16 33 15"/>
<path d="M600 2376l33-53 33-71 33-94 33-120 34-149 33-176 33-198 33-210 33-207 33-188 33-152 33-101 34-44 33 13 33 60 33 91 33 104 33 100 33 94 34 89 33 94 33 102 33 102 33 93 33 72 33 49 34 29 33 15 33 8 33 6 33 6 33 8 33 10 34 13 33 15 33 17 33 20 33 22 33 24 33 27 34 29 33 31 33 32 33 33 33 33 33 31 33 27 34 23 33 17 33 11 33 5 33-3 33-8 33-14 34-17 33-21 33-23 33-24 33-23 33-22 33-20 34-17 33-15 33-13 33-10 33-9 33-6 33-4 34-1 33 3 33 6 33 11 33 15 33 18 33 21 34 24 33 25 33 27 33 27 33 27 33 28 33 27 34 26 33 27 33 26 33 26 33 26 33 26 33 25 34 26 33 24 33 24 33 22 33 21 33 19 33 17 34 14 33 13 33 11"/>
<path d="M600 2316l33-73 33-90 33-109 33-128 34-145 33-159 33-166 33-167 33-158 33-140 33-115 33-82 34-49 33-17 33 11 33 33 33 50 33 66 33 81 34 95 33 103 33 105 33 96 33 81 33 60 33 41 34 27 33 16 33 12 33 12 33 13 33 18 33 21 34 27 33 29 33 32 33 33 33 33 33 31 33 28 34 25 33 21 33 18 33 15 33 12 33 11 33 8 34 7 33 6 33 3 33 3 33 0 33-1 33-2 34-4 33-5 33-6 33-6 33-5 33-6 33-5 34-4 33-3 33-2 33 1 33 1 33 4 33 5 34 6 33 7 33 8 33 9 33 10 33 12 33 14 34 18 33 21 33 25 33 27 33 28 33 29 33 28 34 27 33 26 33 24 33 24 33 22 33 21 33 22 34 21 33 20 33 20 33 20 33 18 33 17 33 16 34 14 33 13 33 11"/>
<path d="M600 2298l33-65 33-78 33-89 33-101 34-111 33-118 33-120 33-119 33-112 33-100 33-84 33-62 34-41 33-20 33-1 33 13 33 24 33 30 33 38 34 46 33 57 33 70 33 81 33 86 33 83 33 75 34 62 33 49 33 36 33 26 33 16 33 9 33 2 34-3 33-9 33-11 33-12 33-11 33-8 33-2 34 4 33 10 33 14 33 16 33 16 33 14 33 10 34 7 33 3 33-1 33-5 33-7 33-9 33-11 34-12 33-13 33-14 33-13 33-13 33-12 33-11 34-8 33-7 33-5 33-1 33 1 33 5 33 8 34 11 33 14 33 18 33 20 33 23 33 25 33 27 34 29 33 29 33 29 33 29 33 28 33 28 33 27 34 26 33 27 33 26 33 27 33 28 33 29 33 30 34 30 33 29 33 29 33 26 33 25 33 22 33 20 34 16 33 15 33 12"/>
<path d="M600 2258l33-75 33-91 33-109 33-125 34-140 33-152 33-156 33-153 33-141 33-121 33-94 33-61 34-27 33 5 33 32 33 51 33 61 33 65 33 67 34 68 33 72 33 78 33 84 33 86 33 81 33 73 34 60 33 47 33 36 33 28 33 23 33 20 33 19 34 17 33 17 33 17 33 16 33 16 33 15 33 15 34 13 33 12 33 11 33 10 33 7 33 5 33 1 34-1 33-5 33-8 33-11 33-14 33-17 33-18 34-19 33-20 33-20 33-19 33-17 33-14 33-12 34-8 33-2 33 2 33 10 33 16 33 22 33 26 34 29 33 27 33 23 33 19 33 14 33 10 33 9 34 9 33 13 33 16 33 21 33 25 33 27 33 29 34 31 33 30 33 31 33 30 33 29 33 28 33 28 34 25 33 25 33 22 33 21 33 19 33 17 33 14 34 12 33 11 33 9"/>
<path d="M600 2326l33-61 33-77 33-95 33-116 34-135 33-153 33-166 33-173 33-169 33-155 33-130 33-98 34-59 33-19 33 17 33 44 33 61 33 69 33 70 34 71 33 75 33 83 33 92 33 98 33 97 33 87 34 72 33 57 33 44 33 34 33 28 33 26 33 25 34 25 33 25 33 25 33 25 33 24 33 22 33 21 34 17 33 15 33 10 33 6 33 1 33-4 33-8 34-12 33-16 33-18 33-20 33-21 33-20 33-20 34-19 33-18 33-18 33-16 33-17 33-15 33-15 34-14 33-12 33-10 33-8 33-5 33-3 33 0 34 2 33 5 33 9 33 11 33 16 33 19 33 23 34 27 33 30 33 32 33 34 33 36 33 35 33 36 34 36 33 36 33 35 33 35 33 34 33 34 33 32 34 32 33 29 33 27 33 26 33 22 33 21 33 17 34 16 33 13 33 11"/>
<path d="M600 2338l33-72 33-89 33-109 33-127 34-144 33-156 33-164 33-162 33-151 33-132 33-105 33-73 34-40 33-10 33 13 33 30 33 39 33 45 33 50 34 59 33 69 33 78 33 82 33 80 33 70 33 57 34 42 33 32 33 23 33 20 33 20 33 21 33 24 34 26 33 30 33 33 33 35 33 37 33 39 33 40 34 40 33 40 33 39 33 39 33 38 33 37 33 33 34 29 33 23 33 14 33 5 33-6 33-15 33-24 34-31 33-34 33-38 33-37 33-38 33-35 33-34 34-31 33-29 33-24 33-20 33-16 33-10 33-5 34 0 33 6 33 11 33 16 33 21 33 25 33 30 34 32 33 34 33 36 33 37 33 37 33 37 33 36 34 34 33 34 33 31 33 30 33 29 33 28 33 26 34 25 33 23 33 22 33 21 33 20 33 18 33 15 34 15 33 12 33 10"/>
<path d="M600 2256l33-73 33-87 33-103 33-117 34-132 33-141 33-148 33-148 33-141 33-127 33-106 33-81 34-50 33-20 33 5 33 23 33 26 33 21 33 20 34 37 33 72 33 111 33 132 33 125 33 100 33 72 34 50 33 40 33 37 33 35 33 37 33 36 33 34 34 33 33 31 33 29 33 27 33 25 33 22 33 20 34 17 33 13 33 9 33 5 33 2 33-1 33-1 34 0 33 1 33 1 33 2 33 0 33-2 33-5 34-8 33-13 33-15 33-16 33-18 33-16 33-15 34-13 33-9 33-7 33-3 33 1 33 3 33 5 34 6 33 9 33 10 33 12 33 14 33 17 33 20 34 22 33 25 33 28 33 29 33 31 33 32 33 32 34 32 33 31 33 31 33 29 33 28 33 27 33 26 34 24 33 23 33 20 33 20 33 17 33 16 33 14 34 13 33 10 33 10"/>
<path d="M600 2341l33-72 33-91 33-112 33-132 34-151 33-166 33-173 33-173 33-161 33-138 33-108 33-69 34-29 33 9 33 40 33 61 33 71 33 70 33 67 34 63 33 65 33 71 33 77 33 76 33 70 33 57 34 43 33 30 33 23 33 18 33 17 33 18 33 20 34 22 33 25 33 26 33 27 33 29 33 28 33 29 34 28 33 27 33 26 33 24 33 23 33 21 33 19 34 15 33 10 33 6 33-1 33-6 33-11 33-16 34-20 33-22 33-24 33-24 33-24 33-24 33-23 34-21 33-20 33-18 33-15 33-11 33-8 33-4 34 1 33 5 33 9 33 14 33 18 33 22 33 26 34 28 33 31 33 33 33 34 33 35 33 36 33 35 34 34 33 34 33 32 33 31 33 30 33 29 33 27 34 26 33 24 33 22 33 21 33 19 33 18 33 16 34 14 33 12 33 11"/>
<path d="M600 2280l33-70 33-88 33-109 33-130 34-150 33-168 33-179 33-181 33-174 33-153 33-123 33-84 34-39 33 4 33 42 33 69 33 80 33 84 33 85 34 93 33 109 33 125 33 129 33 116 33 92 33 64 34 43 33 28 33 21 33 16 33 15 33 15 33 15 34 16 33 17 33 18 33 17 33 18 33 17 33 16 34 14 33 13 33 9 33 7 33 4 33 1 33-3 34-7 33-9 33-13 33-15 33-17 33-19 33-20 34-21 33-21 33-20 33-19 33-17 33-16 33-13 34-11 33-7 33-3 33 0 33 4 33 8 33 13 34 17 33 21 33 24 33 28 33 31 33 34 33 36 34 36 33 38 33 38 33 37 33 36 33 35 33 33 34 32 33 30 33 28 33 26 33 24 33 23 33 22 34 20 33 18 33 17 33 16 33 13 33 12 33 11 34 9 33 7 33 6"/>
<path d="M600 2304l33-65 33-81 33-96 33-115 34-130 33-145 33-154 33-158 33-153 33-139 33-118 33-90 34-58 33-26 33 2 33 21 33 31 33 34 33 37 34 46 33 65 33 89 33 106 33 112 33 103 33 83 34 63 33 46 33 35 33 29 33 26 33 27 33 28 34 29 33 30 33 31 33 31 33 31 33 30 33 29 34 26 33 24 33 21 33 17 33 14 33 9 33 5 34 1 33-3 33-7 33-11 33-14 33-19 33-21 34-24 33-25 33-27 33-28 33-26 33-25 33-23 34-19 33-16 33-10 33-6 33 0 33 5 33 11 34 16 33 21 33 26 33 29 33 33 33 36 33 38 34 39 33 39 33 39 33 37 33 36 33 34 33 32 34 30 33 28 33 26 33 25 33 24 33 23 33 22 34 22 33 21 33 19 33 18 33 16 33 14 33 12 34 10 33 8 33 7"/>
<path d="M600 2334l33-70 33-90 33-113 33-137 34-162 33-183 33-197 33-204 33-197 33-177 33-145 33-102 34-52 33-3 33 41 33 71 33 88 33 89 33 87 34 90 33 103 33 122 33 133 33 129 33 108 33 81 34 53 33 34 33 22 33 17 33 15 33 15 33 16 34 18 33 19 33 21 33 22 33 22 33 23 33 23 34 22 33 21 33 20 33 18 33 16 33 13 33 11 34 8 33 6 33 2 33-1 33-3 33-7 33-9 34-11 33-13 33-14 33-15 33-16 33-16 33-14 34-14 33-11 33-10 33-7 33-5 33-2 33 0 34 3 33 4 33 7 33 10 33 11 33 15 33 16 34 19 33 21 33 23 33 24 33 25 33 26 33 27 34 27 33 27 33 28 33 27 33 28 33 28 33 27 34 27 33 26 33 24 33 23 33 21 33 19 33 17 34 15 33 12 33 11"/>
<path d="M600 2397l33-60 33-79 33-102 33-127 34-151 33-173 33-187 33-192 33-184 33-163 33-128 33-84 34-37 33 9 33 46 33 70 33 79 33 78 33 73 34 68 33 70 33 75 33 79 33 78 33 69 33 54 34 38 33 24 33 16 33 11 33 11 33 12 33 16 34 19 33 21 33 25 33 25 33 27 33 26 33 24 34 21 33 19 33 17 33 14 33 14 33 12 33 13 34 13 33 13 33 13 33 10 33 8 33 5 33 2 34-3 33-7 33-11 33-13 33-16 33-17 33-17 34-17 33-16 33-14 33-11 33-9 33-6 33-2 34 0 33 4 33 6 33 10 33 13 33 16 33 19 34 20 33 23 33 24 33 25 33 26 33 26 33 27 34 28 33 28 33 28 33 29 33 28 33 29 33 28 34 28 33 27 33 26 33 24 33 22 33 21 33 18 34 17 33 14 33 12"/>
<path d="M600 2314l33-75 33-92 33-110 33-127 34-144 33-157 33-164 33-165 33-156 33-139 33-116 33-86 34-55 33-24 33 4 33 26 33 44 33 59 33 73 34 84 33 93 33 98 33 97 33 88 33 75 33 61 34 48 33 38 33 33 33 29 33 30 33 30 33 31 34 33 33 34 33 35 33 35 33 34 33 34 33 31 34 30 33 28 33 25 33 23 33 20 33 17 33 13 34 9 33 5 33 1 33-3 33-8 33-13 33-16 34-21 33-23 33-27 33-28 33-29 33-29 33-28 34-26 33-23 33-18 33-15 33-9 33-4 33 1 34 5 33 11 33 14 33 19 33 21 33 24 33 25 34 27 33 28 33 29 33 28 33 29 33 28 33 27 34 27 33 27 33 26 33 25 33 26 33 25 33 26 34 25 33 26 33 24 33 24 33 23 33 22 33 19 34 18 33 16 33 13"/>
<path d="M600 2264l33-68 33-84 33-102 33-119 34-135 33-148 33-155 33-155 33-146 33-128 33-102 33-69 34-34 33 1 33 29 33 49 33 59 33 66 33 72 34 85 33 101 33 113 33 118 33 108 33 90 33 68 34 50 33 36 33 28 33 23 33 21 33 19 33 19 34 18 33 17 33 15 33 13 33 11 33 8 33 7 34 4 33 2 33-1 33-2 33-4 33-6 33-7 34-10 33-11 33-14 33-16 33-17 33-19 33-21 34-21 33-22 33-22 33-21 33-20 33-19 33-16 34-13 33-11 33-7 33-4 33 0 33 3 33 7 34 10 33 15 33 18 33 21 33 24 33 28 33 29 34 32 33 33 33 35 33 35 33 35 33 35 33 34 34 34 33 32 33 32 33 30 33 28 33 27 33 26 34 24 33 22 33 21 33 20 33 18 33 17 33 16 34 13 33 13 33 11"/>
<path d="M600 2203l33-88 33-104 33-121 33-137 34-149 33-156 33-157 33-151 33-135 33-112 33-83 33-49 34-16 33 14 33 35 33 41 33 39 33 35 33 44 34 72 33 108 33 138 33 143 33 127 33 99 33 73 34 52 33 37 33 27 33 19 33 13 33 9 33 8 34 8 33 11 33 14 33 16 33 19 33 19 33 20 34 18 33 17 33 13 33 11 33 8 33 5 33 1 34-2 33-5 33-8 33-11 33-13 33-14 33-16 34-16 33-16 33-16 33-15 33-13 33-12 33-9 34-6 33-5 33-2 33 1 33 3 33 5 33 8 34 11 33 14 33 16 33 20 33 22 33 24 33 27 34 28 33 28 33 29 33 30 33 28 33 28 33 28 34 26 33 25 33 24 33 23 33 22 33 21 33 21 34 19 33 18 33 18 33 17 33 16 33 15 33 14 34 13 33 12 33 10"/>
<path d="M600 2337l33-72 33-89 33-109 33-128 34-145 33-159 33-167 33-166 33-157 33-137 33-111 33-77 34-40 33-7 33 21 33 40 33 47 33 47 33 48 34 53 33 65 33 81 33 94 33 96 33 86 33 70 34 52 33 37 33 27 33 24 33 22 33 24 33 25 34 28 33 28 33 31 33 31 33 31 33 31 33 31 34 29 33 28 33 26 33 23 33 20 33 17 33 14 34 10 33 5 33 2 33-2 33-5 33-9 33-12 34-14 33-17 33-18 33-21 33-21 33-21 33-21 34-20 33-19 33-16 33-14 33-10 33-7 33-4 34 0 33 3 33 7 33 11 33 13 33 17 33 19 34 22 33 24 33 25 33 27 33 28 33 29 33 29 34 30 33 30 33 30 33 29 33 30 33 29 33 28 34 27 33 26 33 25 33 23 33 22 33 20 33 19 34 16 33 15 33 13"/>
<path d="M600 2234l33-85 33-101 33-117 33-130 34-142 33-149 33-149 33-143 33-129 33-109 33-84 33-55 34-26 33 1 33 23 33 40 33 50 33 57 33 62 34 68 33 72 33 75 33 75 33 70 33 60 33 48 34 35 33 26 33 19 33 17 33 18 33 21 33 26 34 29 33 34 33 36 33 37 33 38 33 36 33 34 34 31 33 28 33 25 33 21 33 17 33 15 33 11 34 7 33 5 33 1 33-1 33-5 33-7 33-10 34-12 33-15 33-16 33-19 33-19 33-19 33-19 34-18 33-16 33-13 33-9 33-5 33-1 33 3 34 8 33 13 33 16 33 21 33 24 33 26 33 29 34 30 33 32 33 31 33 32 33 30 33 29 33 28 34 26 33 24 33 22 33 22 33 20 33 20 33 21 34 20 33 20 33 21 33 20 33 19 33 18 33 16 34 15 33 13 33 11"/>
<path d="M600 2368l33-69 33-84 33-98 33-113 34-125 33-134 33-138 33-136 33-128 33-114 33-95 33-72 34-47 33-24 33-5 33 7 33 9 33 8 33 6 34 11 33 26 33 48 33 69 33 79 33 76 33 63 34 46 33 31 33 19 33 15 33 13 33 15 33 18 34 20 33 24 33 28 33 30 33 32 33 34 33 35 34 34 33 34 33 31 33 29 33 26 33 23 33 19 34 15 33 12 33 7 33 5 33 0 33-2 33-5 34-7 33-9 33-10 33-11 33-11 33-10 33-9 34-8 33-5 33-3 33-1 33 2 33 6 33 8 34 11 33 15 33 17 33 20 33 22 33 24 33 25 34 27 33 28 33 28 33 29 33 28 33 29 33 27 34 27 33 26 33 25 33 24 33 24 33 22 33 21 34 20 33 19 33 18 33 17 33 15 33 14 33 13 34 11 33 11 33 9"/>
<path d="M600 2374l33-68 33-84 33-104 33-122 34-140 33-153 33-162 33-162 33-154 33-136 33-110 33-78 34-43 33-8 33 20 33 40 33 53 33 58 33 64 34 69 33 79 33 87 33 91 33 84 33 70 33 51 34 31 33 16 33 7 33 4 33 3 33 7 33 9 34 14 33 17 33 19 33 22 33 23 33 24 33 24 34 24 33 22 33 22 33 19 33 18 33 15 33 12 34 9 33 7 33 4 33 1 33-1 33-5 33-7 34-10 33-13 33-14 33-15 33-16 33-15 33-15 34-14 33-11 33-9 33-6 33-2 33 1 33 4 34 9 33 12 33 15 33 19 33 22 33 25 33 27 34 29 33 30 33 31 33 31 33 32 33 32 33 31 34 30 33 29 33 29 33 27 33 26 33 26 33 24 34 23 33 21 33 21 33 19 33 18 33 16 33 15 34 14 33 12 33 11"/>
<path d="M600 2381l33-68 33-88 33-114 33-140 34-168 33-193 33-209 33-216 33-210 33-187 33-150 33-103 34-50 33 3 33 48 33 80 33 95 33 92 33 78 34 61 33 47 33 46 33 52 33 63 33 70 33 73 34 69 33 66 33 62 33 60 33 56 33 51 33 43 34 36 33 29 33 27 33 28 33 31 33 35 33 40 34 43 33 42 33 41 33 36 33 31 33 25 33 19 34 12 33 6 33 1 33-4 33-9 33-13 33-17 34-20 33-22 33-23 33-24 33-25 33-24 33-22 34-21 33-18 33-15 33-11 33-8 33-3 33 1 34 6 33 9 33 14 33 18 33 21 33 24 33 26 34 29 33 29 33 30 33 30 33 30 33 30 33 28 34 29 33 27 33 27 33 26 33 25 33 24 33 24 34 23 33 22 33 20 33 19 33 17 33 16 33 13 34 11 33 10 33 8"/>
<path d="M600 2353l33-71 33-88 33-106 33-124 34-140 33-152 33-158 33-158 33-147 33-130 33-104 33-73 34-40 33-8 33 18 33 39 33 52 33 60 33 68 34 76 33 83 33 90 33 91 33 84 33 72 33 54 34 38 33 23 33 14 33 8 33 7 33 6 33 9 34 11 33 15 33 17 33 19 33 22 33 23 33 24 34 24 33 24 33 23 33 20 33 19 33 15 33 13 34 8 33 4 33 0 33-5 33-10 33-13 33-17 34-19 33-20 33-19 33-17 33-16 33-12 33-11 34-9 33-7 33-6 33-5 33-2 33-1 33 3 34 5 33 9 33 13 33 15 33 20 33 22 33 25 34 27 33 29 33 30 33 31 33 32 33 32 33 32 34 31 33 31 33 29 33 30 33 28 33 27 33 26 34 25 33 24 33 22 33 21 33 20 33 17 33 16 34 15 33 12 33 11"/>
<path d="M600 2359l33-64 33-82 33-101 33-121 34-140 33-157 33-169 33-173 33-168 33-152 33-127 33-94 34-57 33-18 33 14 33 38 33 49 33 49 33 44 34 44 33 54 33 72 33 91 33 101 33 96 33 80 34 60 33 41 33 29 33 22 33 19 33 19 33 21 34 22 33 24 33 25 33 26 33 27 33 28 33 29 34 28 33 28 33 28 33 25 33 24 33 22 33 19 34 15 33 12 33 7 33 4 33-1 33-5 33-9 34-12 33-16 33-18 33-20 33-22 33-22 33-22 34-20 33-19 33-15 33-12 33-9 33-3 33 0 34 6 33 10 33 14 33 18 33 21 33 25 33 27 34 29 33 30 33 31 33 31 33 31 33 31 33 30 34 28 33 28 33 26 33 26 33 24 33 24 33 24 34 23 33 23 33 23 33 21 33 21 33 19 33 17 34 15 33 14 33 12"/>
<path d="M600 2346l33-54 33-71 33-92 33-115 34-139 33-161 33-177 33-184 33-177 33-158 33-124 33-79 34-31 33 15 33 52 33 73 33 80 33 77 33 70 34 71 33 77 33 85 33 88 33 83 33 67 33 49 34 31 33 19 33 13 33 10 33 10 33 11 33 13 34 14 33 16 33 18 33 17 33 19 33 18 33 19 34 17 33 17 33 16 33 14 33 13 33 10 33 9 34 6 33 4 33 1 33-3 33-7 33-10 33-15 34-18 33-22 33-25 33-25 33-26 33-25 33-21 34-17 33-12 33-6 33-1 33 5 33 10 33 14 34 16 33 19 33 20 33 21 33 22 33 23 33 24 34 24 33 26 33 25 33 27 33 27 33 28 33 28 34 29 33 28 33 29 33 28 33 28 33 27 33 27 34 26 33 25 33 23 33 23 33 20 33 20 33 17 34 16 33 14 33 13"/>
<path d="M600 2306l33-73 33-94 33-118 33-143 34-169 33-190 33-203 33-206 33-195 33-170 33-132 33-85 34-33 33 15 33 54 33 77 33 87 33 85 33 80 34 82 33 90 33 102 33 110 33 108 33 95 33 74 34 53 33 37 33 25 33 19 33 18 33 17 33 20 34 20 33 22 33 23 33 24 33 24 33 24 33 24 34 24 33 22 33 21 33 19 33 18 33 15 33 13 34 10 33 7 33 5 33 2 33-1 33-3 33-5 34-7 33-9 33-9 33-10 33-10 33-10 33-8 34-7 33-6 33-4 33-1 33 0 33 2 33 4 34 5 33 6 33 8 33 9 33 11 33 14 33 16 34 19 33 23 33 25 33 28 33 30 33 31 33 32 34 32 33 33 33 32 33 30 33 29 33 27 33 25 34 22 33 19 33 18 33 15 33 13 33 11 33 9 34 9 33 7 33 6"/>
<path d="M600 2234l33-81 33-99 33-119 33-137 34-152 33-164 33-166 33-160 33-143 33-117 33-83 33-45 34-7 33 27 33 50 33 61 33 58 33 49 33 43 34 45 33 61 33 81 33 95 33 95 33 82 33 63 34 46 33 33 33 26 33 23 33 23 33 24 33 26 34 25 33 27 33 26 33 25 33 25 33 24 33 22 34 20 33 19 33 15 33 14 33 11 33 8 33 6 34 3 33 0 33-2 33-5 33-7 33-8 33-11 34-11 33-13 33-13 33-14 33-13 33-13 33-11 34-11 33-9 33-7 33-5 33-3 33 0 33 1 34 5 33 7 33 10 33 13 33 16 33 19 33 23 34 25 33 28 33 29 33 30 33 30 33 30 33 28 34 28 33 26 33 25 33 23 33 23 33 23 33 22 34 23 33 22 33 21 33 21 33 20 33 19 33 17 34 16 33 14 33 13"/>
<path d="M600 2274l33-68 33-79 33-91 33-103 34-112 33-119 33-123 33-122 33-115 33-104 33-87 33-68 34-44 33-22 33-4 33 9 33 11 33 7 33 4 34 14 33 42 33 82 33 116 33 131 33 121 33 96 34 65 33 41 33 22 33 13 33 6 33 4 33 3 34 5 33 7 33 9 33 12 33 15 33 16 33 18 34 19 33 18 33 19 33 17 33 16 33 14 33 12 34 9 33 7 33 5 33 2 33-1 33-4 33-6 34-8 33-10 33-11 33-13 33-14 33-14 33-14 34-14 33-13 33-11 33-10 33-8 33-5 33-3 34 0 33 3 33 6 33 9 33 12 33 16 33 18 34 21 33 23 33 25 33 28 33 28 33 30 33 31 34 31 33 32 33 32 33 31 33 30 33 30 33 28 34 27 33 26 33 24 33 23 33 21 33 19 33 17 34 16 33 14 33 13"/>
<path d="M600 2305l33-69 33-86 33-108 33-129 34-149 33-167 33-179 33-181 33-172 33-152 33-121 33-82 34-40 33 1 33 33 33 57 33 71 33 77 33 84 34 91 33 102 33 108 33 108 33 98 33 80 33 60 34 42 33 27 33 20 33 15 33 13 33 13 33 14 34 13 33 14 33 12 33 12 33 11 33 8 33 7 34 5 33 4 33 4 33 3 33 5 33 5 33 7 34 8 33 8 33 10 33 9 33 8 33 7 33 4 34 3 33 0 33-2 33-4 33-5 33-5 33-6 34-6 33-5 33-3 33-1 33 1 33 4 33 7 34 10 33 14 33 16 33 20 33 22 33 24 33 25 34 26 33 26 33 26 33 24 33 22 33 21 33 18 34 18 33 16 33 17 33 19 33 20 33 23 33 26 34 27 33 27 33 27 33 25 33 22 33 20 33 16 34 14 33 11 33 9"/>
<path d="M600 2329l33-68 33-83 33-99 33-114 34-127 33-139 33-143 33-143 33-136 33-121 33-99 33-75 34-47 33-24 33-7 33 3 33 5 33 9 33 23 34 48 33 80 33 108 33 118 33 110 33 87 33 62 34 38 33 22 33 12 33 7 33 5 33 5 33 5 34 8 33 9 33 12 33 14 33 16 33 19 33 21 34 22 33 22 33 22 33 20 33 20 33 17 33 14 34 12 33 10 33 6 33 5 33 2 33 1 33-1 34-2 33-3 33-4 33-3 33-3 33-1 33-1 34 1 33 4 33 6 33 8 33 11 33 13 33 16 34 17 33 19 33 19 33 21 33 20 33 21 33 21 34 21 33 21 33 21 33 22 33 21 33 22 33 22 34 23 33 22 33 23 33 23 33 22 33 21 33 21 34 21 33 19 33 18 33 17 33 15 33 14 33 13 34 11 33 10 33 9"/>
<path d="M600 2372l33-52 33-68 33-87 33-109 34-134 33-157 33-177 33-189 33-189 33-178 33-151 33-114 34-69 33-22 33 19 33 50 33 67 33 75 33 81 34 90 33 103 33 113 33 115 33 104 33 85 33 62 34 44 33 31 33 25 33 25 33 28 33 31 33 34 34 38 33 38 33 38 33 36 33 32 33 27 33 22 34 16 33 11 33 7 33 3 33 0 33-3 33-4 34-7 33-9 33-12 33-13 33-16 33-18 33-20 34-22 33-24 33-24 33-25 33-25 33-24 33-23 34-22 33-19 33-15 33-13 33-8 33-5 33 1 34 4 33 9 33 14 33 18 33 22 33 26 33 29 34 31 33 34 33 36 33 36 33 37 33 37 33 37 34 35 33 35 33 33 33 32 33 30 33 28 33 27 34 24 33 24 33 21 33 20 33 19 33 17 33 15 34 14 33 12 33 11"/>
<path d="M600 2295l33-77 33-94 33-113 33-130 34-146 33-159 33-165 33-166 33-157 33-140 33-115 33-84 34-50 33-16 33 13 33 32 33 40 33 41 33 40 34 48 33 69 33 96 33 119 33 124 33 111 33 89 34 64 33 45 33 32 33 25 33 22 33 22 33 21 34 23 33 23 33 24 33 26 33 26 33 26 33 27 34 27 33 26 33 24 33 23 33 21 33 18 33 15 34 11 33 7 33 3 33-2 33-5 33-9 33-12 34-16 33-17 33-18 33-19 33-19 33-17 33-16 34-13 33-10 33-7 33-4 33 0 33 3 33 6 34 9 33 12 33 14 33 16 33 18 33 19 33 21 34 23 33 22 33 24 33 23 33 23 33 24 33 22 34 23 33 22 33 22 33 22 33 23 33 22 33 23 34 23 33 23 33 22 33 22 33 22 33 20 33 18 34 17 33 15 33 13"/>
<path d="M600 2295l33-72 33-89 33-109 33-128 34-147 33-161 33-170 33-171 33-160 33-140 33-110 33-73 34-35 33 3 33 31 33 49 33 54 33 56 33 63 34 81 33 105 33 121 33 121 33 104 33 78 33 52 34 35 33 23 33 18 33 16 33 17 33 17 33 19 34 20 33 21 33 23 33 23 33 23 33 23 33 23 34 22 33 20 33 19 33 16 33 15 33 12 33 9 34 6 33 4 33 1 33-3 33-4 33-7 33-10 34-11 33-12 33-13 33-13 33-12 33-11 33-10 34-7 33-3 33-1 33 2 33 6 33 7 33 9 34 9 33 10 33 9 33 9 33 9 33 8 33 10 34 11 33 14 33 15 33 18 33 20 33 21 33 23 34 24 33 25 33 25 33 25 33 24 33 25 33 24 34 23 33 23 33 23 33 21 33 21 33 19 33 18 34 16 33 15 33 13"/>
<path d="M600 2243l33-78 33-94 33-110 33-127 34-139 33-149 33-151 33-148 33-136 33-115 33-90 33-60 34-29 33-3 33 16 33 29 33 38 33 49 33 64 34 85 33 103 33 112 33 107 33 92 33 70 33 49 34 35 33 23 33 18 33 14 33 13 33 14 33 13 34 16 33 17 33 19 33 21 33 23 33 26 33 26 34 28 33 27 33 26 33 24 33 20 33 16 33 11 34 6 33 1 33-5 33-9 33-13 33-16 33-20 34-21 33-24 33-27 33-28 33-29 33-30 33-27 34-24 33-19 33-11 33-4 33 5 33 12 33 17 34 22 33 25 33 26 33 28 33 29 33 30 33 31 34 32 33 33 33 33 33 34 33 33 33 32 33 32 34 30 33 28 33 28 33 25 33 25 33 23 33 21 34 21 33 20 33 19 33 19 33 17 33 16 33 14 34 14 33 11 33 10"/>
<path d="M600 2316l33-71 33-88 33-108 33-126 34-145 33-159 33-167 33-166 33-158 33-138 33-111 33-78 34-43 33-10 33 15 33 32 33 39 33 45 33 52 34 64 33 78 33 89 33 93 33 85 33 69 33 51 34 35 33 23 33 17 33 13 33 12 33 9 33 7 34 6 33 6 33 7 33 12 33 19 33 28 33 37 34 44 33 48 33 49 33 45 33 39 33 31 33 23 34 15 33 9 33 4 33 0 33-4 33-7 33-8 34-10 33-11 33-11 33-11 33-11 33-10 33-8 34-7 33-4 33-2 33 0 33 4 33 6 33 9 34 12 33 15 33 17 33 20 33 22 33 23 33 25 34 25 33 27 33 26 33 27 33 27 33 26 33 27 34 26 33 26 33 26 33 25 33 25 33 24 33 23 34 23 33 21 33 20 33 18 33 16 33 14 33 13 34 11 33 10 33 8"/>
<path d="M600 2358l33-74 33-92 33-111 33-131 34-148 33-161 33-168 33-169 33-160 33-142 33-116 33-86 34-53 33-22 33 4 33 23 33 39 33 52 33 66 34 82 33 96 33 103 33 101 33 88 33 69 33 52 34 36 33 26 33 22 33 22 33 23 33 25 33 28 34 30 33 32 33 33 33 34 33 35 33 36 33 35 34 35 33 34 33 32 33 29 33 26 33 23 33 19 34 14 33 10 33 5 33 0 33-5 33-9 33-13 34-16 33-20 33-23 33-24 33-25 33-26 33-26 34-25 33-22 33-21 33-17 33-14 33-10 33-5 34-1 33 3 33 8 33 13 33 17 33 20 33 24 34 27 33 29 33 31 33 32 33 34 33 34 33 34 34 34 33 33 33 33 33 32 33 31 33 30 33 28 34 27 33 25 33 23 33 21 33 20 33 17 33 16 34 14 33 12 33 10"/>
<path d="M600 2293l33-73 33-89 33-108 33-125 34-142 33-155 33-165 33-165 33-159 33-144 33-120 33-91 34-58 33-27 33 2 33 22 33 37 33 47 33 59 34 74 33 91 33 107 33 114 33 110 33 96 33 77 34 58 33 42 33 31 33 25 33 22 33 21 33 22 34 23 33 23 33 25 33 25 33 25 33 24 33 24 34 21 33 20 33 17 33 14 33 10 33 7 33 3 34-1 33-3 33-6 33-7 33-7 33-8 33-8 34-8 33-8 33-9 33-8 33-9 33-8 33-7 34-5 33-2 33 0 33 3 33 7 33 9 33 12 34 14 33 18 33 19 33 21 33 23 33 24 33 26 34 25 33 26 33 26 33 25 33 24 33 23 33 22 34 22 33 21 33 20 33 21 33 20 33 21 33 22 34 21 33 22 33 21 33 21 33 19 33 18 33 16 34 15 33 12 33 11"/>
<path d="M600 2357l33-55 33-69 33-88 33-108 34-129 33-148 33-164 33-174 33-173 33-162 33-140 33-108 34-71 33-32 33 3 33 31 33 48 33 58 33 63 34 71 33 79 33 91 33 100 33 99 33 91 33 75 34 57 33 40 33 27 33 20 33 16 33 15 33 15 34 16 33 17 33 18 33 19 33 21 33 21 33 22 34 23 33 24 33 24 33 24 33 23 33 22 33 20 34 17 33 13 33 10 33 5 33 1 33-3 33-7 34-11 33-14 33-16 33-18 33-18 33-19 33-18 34-17 33-15 33-12 33-10 33-7 33-4 33-1 34 2 33 6 33 9 33 12 33 14 33 18 33 19 34 22 33 24 33 25 33 26 33 27 33 28 33 29 34 28 33 29 33 29 33 29 33 28 33 28 33 27 34 26 33 25 33 23 33 22 33 21 33 18 33 17 34 15 33 14 33 11"/>
<path d="M600 2391l33-67 33-87 33-108 33-131 34-152 33-171 33-182 33-186 33-179 33-161 33-131 33-94 34-52 33-9 33 28 33 50 33 58 33 52 33 48 34 57 33 84 33 116 33 134 33 127 33 100 33 66 34 39 33 21 33 13 33 10 33 12 33 15 33 19 34 25 33 30 33 34 33 37 33 36 33 34 33 29 34 23 33 16 33 10 33 5 33 2 33 1 33 1 34 1 33 2 33 2 33 1 33 0 33-1 33-3 34-5 33-6 33-8 33-8 33-10 33-9 33-9 34-8 33-7 33-6 33-5 33-2 33 0 33 3 34 5 33 7 33 11 33 14 33 16 33 18 33 20 34 22 33 23 33 24 33 24 33 23 33 24 33 24 34 23 33 22 33 23 33 22 33 22 33 23 33 22 34 23 33 22 33 22 33 21 33 20 33 19 33 17 34 16 33 15 33 12"/>
<path d="M600 2347l33-53 33-69 33-89 33-113 34-139 33-163 33-182 33-193 33-192 33-175 33-144 33-101 34-52 33-5 33 36 33 62 33 77 33 83 33 90 34 100 33 110 33 114 33 108 33 90 33 67 33 43 34 24 33 13 33 6 33 5 33 4 33 6 33 8 34 9 33 11 33 13 33 13 33 15 33 16 33 16 34 17 33 16 33 17 33 16 33 15 33 15 33 14 34 12 33 12 33 10 33 8 33 7 33 5 33 3 34 2 33 0 33 0 33-1 33-1 33-1 33 1 34 1 33 4 33 4 33 6 33 6 33 5 33 6 34 6 33 5 33 6 33 7 33 9 33 12 33 14 34 17 33 19 33 21 33 22 33 23 33 23 33 23 34 23 33 22 33 22 33 21 33 20 33 20 33 20 34 19 33 19 33 19 33 18 33 18 33 17 33 15 34 15 33 13 33 12"/>
<path d="M600 2274l33-72 33-88 33-105 33-123 34-138 33-151 33-159 33-159 33-152 33-135 33-111 33-81 34-46 33-13 33 16 33 38 33 51 33 57 33 62 34 70 33 84 33 96 33 105 33 104 33 91 33 75 34 56 33 43 33 34 33 29 33 27 33 28 33 29 34 31 33 33 33 34 33 37 33 37 33 37 33 37 34 35 33 32 33 28 33 24 33 19 33 12 33 6 34-1 33-8 33-14 33-19 33-23 33-28 33-30 34-31 33-33 33-34 33-33 33-34 33-33 33-32 34-30 33-27 33-24 33-19 33-15 33-10 33-3 34 2 33 8 33 14 33 20 33 25 33 30 33 34 34 36 33 38 33 40 33 40 33 40 33 39 33 38 34 37 33 35 33 34 33 33 33 33 33 31 33 31 34 29 33 27 33 25 33 22 33 19 33 16 33 14 34 11 33 9 33 7"/>
<path d="M600 2408l33-61 33-80 33-100 33-122 34-144 33-164 33-178 33-185 33-180 33-165 33-140 33-105 34-66 33-28 33 5 33 28 33 41 33 47 33 51 34 60 33 74 33 89 33 100 33 101 33 92 33 79 34 62 33 49 33 38 33 29 33 24 33 21 33 20 34 21 33 25 33 29 33 33 33 37 33 39 33 39 34 38 33 37 33 33 33 29 33 26 33 21 33 17 34 12 33 7 33 2 33-3 33-8 33-13 33-17 34-21 33-24 33-27 33-27 33-28 33-28 33-26 34-24 33-22 33-19 33-15 33-10 33-7 33-1 34 2 33 8 33 12 33 16 33 20 33 23 33 26 34 29 33 31 33 32 33 33 33 34 33 33 33 34 34 33 33 33 33 32 33 31 33 30 33 29 33 27 34 26 33 25 33 23 33 21 33 19 33 17 33 16 34 13 33 12 33 10"/>
<path d="M600 2336l33-55 33-71 33-91 33-113 34-137 33-160 33-180 33-191 33-194 33-182 33-157 33-120 34-75 33-26 33 20 33 55 33 75 33 84 33 84 34 85 33 92 33 106 33 117 33 119 33 107 33 87 34 63 33 42 33 28 33 20 33 16 33 14 33 14 34 13 33 13 33 13 33 13 33 12 33 12 33 11 34 11 33 11 33 10 33 10 33 9 33 9 33 9 34 9 33 11 33 11 33 12 33 12 33 10 33 8 34 4 33 1 33-3 33-5 33-9 33-10 33-12 34-12 33-12 33-13 33-12 33-11 33-10 33-9 34-6 33-4 33-1 33 3 33 6 33 9 33 12 34 15 33 17 33 19 33 21 33 22 33 24 33 24 34 25 33 26 33 26 33 27 33 28 33 28 33 28 34 28 33 28 33 28 33 26 33 25 33 23 33 22 34 20 33 17 33 16"/>
<path d="M600 2316l33-71 33-87 33-106 33-126 34-143 33-157 33-165 33-165 33-155 33-136 33-108 33-74 34-36 33 0 33 31 33 54 33 66 33 71 33 71 34 69 33 68 33 71 33 72 33 73 33 67 33 59 34 47 33 36 33 26 33 22 33 18 33 18 33 18 34 20 33 21 33 23 33 24 33 24 33 25 33 25 34 25 33 25 33 24 33 25 33 22 33 21 33 17 34 11 33 5 33-3 33-9 33-16 33-21 33-23 34-25 33-25 33-23 33-22 33-20 33-18 33-16 34-12 33-9 33-5 33-1 33 3 33 7 33 12 34 15 33 19 33 22 33 25 33 26 33 29 33 30 34 31 33 32 33 32 33 34 33 33 33 33 33 33 34 33 33 31 33 29 33 28 33 27 33 24 33 22 34 21 33 19 33 16 33 15 33 13 33 12 33 10 34 9 33 8 33 6"/>
<path d="M600 2343l33-60 33-75 33-91 33-109 34-126 33-142 33-152 33-157 33-153 33-141 33-121 33-92 34-60 33-26 33 1 33 21 33 29 33 29 33 33 34 49 33 75 33 104 33 120 33 114 33 94 33 67 34 45 33 30 33 21 33 19 33 18 33 18 33 20 34 21 33 23 33 23 33 25 33 25 33 24 33 25 34 23 33 21 33 20 33 18 33 16 33 14 33 11 34 10 33 8 33 5 33 1 33-1 33-6 33-11 34-15 33-20 33-23 33-24 33-25 33-23 33-20 34-16 33-11 33-6 33-2 33 3 33 7 33 10 34 14 33 16 33 17 33 20 33 21 33 22 33 23 34 24 33 25 33 25 33 25 33 26 33 26 33 27 34 26 33 27 33 27 33 27 33 26 33 26 33 26 34 24 33 24 33 22 33 21 33 19 33 18 33 16 34 14 33 12 33 11"/>
<path d="M600 2282l33-83 33-100 33-117 33-134 34-148 33-157 33-160 33-157 33-145 33-127 33-101 33-72 34-43 33-14 33 9 33 25 33 37 33 43 33 50 34 56 33 64 33 72 33 76 33 76 33 71 33 62 34 53 33 45 33 40 33 38 33 38 33 39 33 41 34 41 33 43 33 43 33 43 33 41 33 40 33 37 34 35 33 31 33 27 33 23 33 18 33 14 33 9 34 4 33 0 33-5 33-8 33-12 33-15 33-18 34-19 33-20 33-20 33-20 33-19 33-17 33-15 34-13 33-9 33-6 33-2 33 2 33 5 33 10 34 13 33 16 33 20 33 23 33 25 33 27 33 29 34 29 33 31 33 30 33 29 33 29 33 28 33 26 34 26 33 24 33 23 33 22 33 22 33 21 33 20 34 20 33 19 33 18 33 17 33 16 33 15 33 13 34 11 33 10 33 8"/>
<path d="M600 2335l33-63 33-81 33-100 33-122 34-144 33-164 33-178 33-185 33-181 33-167 33-141 33-104 34-62 33-20 33 19 33 46 33 63 33 70 33 77 34 88 33 103 33 119 33 124 33 117 33 96 33 71 34 50 33 33 33 24 33 20 33 18 33 17 33 18 34 18 33 18 33 17 33 17 33 14 33 13 33 10 34 8 33 6 33 4 33 2 33 2 33 1 33 0 34-1 33 0 33-2 33-2 33-4 33-6 33-7 34-9 33-12 33-12 33-14 33-14 33-13 33-13 34-10 33-8 33-5 33-1 33 3 33 7 33 12 34 17 33 20 33 24 33 28 33 31 33 34 33 35 34 36 33 36 33 37 33 35 33 34 33 32 33 30 34 29 33 27 33 25 33 23 33 23 33 22 33 21 34 21 33 20 33 19 33 18 33 17 33 15 33 14 34 12 33 10 33 9"/>
<path d="M600 2357l33-65 33-83 33-104 33-126 34-149 33-167 33-182 33-187 33-182 33-166 33-138 33-102 34-60 33-21 33 12 33 32 33 43 33 45 33 47 34 57 33 73 33 91 33 102 33 102 33 93 33 78 34 65 33 55 33 50 33 47 33 45 33 44 33 42 34 41 33 39 33 37 33 36 33 35 33 32 33 31 34 29 33 26 33 22 33 19 33 15 33 11 33 7 34 2 33-2 33-6 33-10 33-14 33-16 33-19 34-20 33-20 33-21 33-21 33-19 33-18 33-17 34-15 33-12 33-10 33-8 33-6 33-2 33 0 34 3 33 6 33 9 33 12 33 15 33 17 33 20 34 21 33 23 33 23 33 23 33 22 33 21 33 20 34 20 33 20 33 23 33 25 33 28 33 31 33 34 34 35 33 34 33 34 33 30 33 27 33 24 33 20 34 17 33 14 33 12"/>
<path d="M600 2276l33-73 33-89 33-107 33-127 34-145 33-161 33-171 33-174 33-167 33-152 33-127 33-94 34-56 33-18 33 16 33 39 33 50 33 49 33 48 34 59 33 86 33 119 33 143 33 144 33 124 33 95 34 68 33 48 33 37 33 31 33 28 33 28 33 28 34 27 33 28 33 28 33 27 33 26 33 25 33 22 34 21 33 18 33 14 33 12 33 8 33 5 33 1 34-2 33-5 33-9 33-12 33-14 33-16 33-19 34-20 33-20 33-22 33-22 33-23 33-23 33-23 34-23 33-22 33-21 33-19 33-15 33-10 33-3 34 5 33 14 33 22 33 30 33 36 33 40 33 42 34 43 33 42 33 41 33 39 33 37 33 36 33 33 34 31 33 30 33 28 33 26 33 25 33 24 33 22 34 20 33 19 33 18 33 17 33 15 33 13 33 12 34 11 33 9 33 8"/>
<path d="M600 2280l33-76 33-92 33-108 33-123 34-136 33-146 33-150 33-147 33-137 33-119 33-95 33-67 34-37 33-10 33 12 33 26 33 35 33 41 33 53 34 69 33 87 33 101 33 103 33 94 33 76 33 55 34 36 33 23 33 15 33 10 33 9 33 8 33 10 34 11 33 13 33 16 33 18 33 21 33 21 33 23 34 22 33 23 33 21 33 19 33 18 33 15 33 13 34 10 33 8 33 5 33 3 33 0 33-3 33-5 34-6 33-9 33-10 33-11 33-12 33-12 33-12 34-10 33-8 33-6 33-2 33 1 33 6 33 11 34 14 33 19 33 22 33 26 33 27 33 28 33 29 34 28 33 29 33 27 33 27 33 27 33 25 33 26 34 25 33 25 33 24 33 24 33 24 33 23 33 22 34 22 33 20 33 18 33 18 33 15 33 14 33 13 34 11 33 9 33 8"/>
<path d="M600 2254l33-79 33-95 33-112 33-128 34-140 33-150 33-151 33-146 33-132 33-110 33-82 33-49 34-16 33 14 33 33 33 40 33 37 33 26 33 24 34 39 33 70 33 106 33 132 33 133 33 114 33 84 34 56 33 34 33 20 33 13 33 8 33 7 33 7 34 8 33 9 33 10 33 11 33 11 33 10 33 10 34 8 33 7 33 7 33 6 33 5 33 6 33 5 34 4 33 5 33 2 33 2 33-1 33-4 33-7 34-9 33-13 33-15 33-17 33-18 33-18 33-18 34-17 33-16 33-12 33-10 33-6 33-3 33 1 34 6 33 9 33 14 33 17 33 21 33 24 33 26 34 29 33 31 33 32 33 33 33 34 33 33 33 34 34 33 33 33 33 32 33 31 33 31 33 29 33 28 34 27 33 25 33 24 33 22 33 20 33 18 33 15 34 14 33 12 33 10"/>
<path d="M600 2316l33-67 33-84 33-103 33-123 34-144 33-161 33-174 33-178 33-174 33-159 33-133 33-100 34-61 33-22 33 13 33 43 33 63 33 75 33 82 34 85 33 89 33 91 33 90 33 87 33 78 33 67 34 54 33 43 33 33 33 27 33 25 33 23 33 25 34 25 33 26 33 27 33 27 33 27 33 26 33 25 34 23 33 21 33 19 33 16 33 13 33 11 33 8 34 8 33 5 33 5 33 3 33 2 33 1 33-1 34-2 33-4 33-5 33-6 33-6 33-5 33-3 34-2 33 1 33 3 33 6 33 8 33 9 33 12 34 12 33 13 33 14 33 13 33 13 33 12 33 11 34 11 33 10 33 11 33 11 33 14 33 14 33 17 34 18 33 19 33 20 33 21 33 21 33 21 33 21 34 21 33 20 33 20 33 19 33 18 33 17 33 16 34 14 33 13 33 12"/>
<path d="M600 2264l33-79 33-96 33-114 33-132 34-147 33-158 33-161 33-155 33-142 33-117 33-87 33-50 34-12 33 21 33 44 33 51 33 41 33 27 33 27 34 55 33 102 33 140 33 147 33 123 33 87 33 54 34 33 33 23 33 19 33 18 33 17 33 19 33 20 34 21 33 22 33 22 33 22 33 22 33 21 33 19 34 18 33 15 33 13 33 11 33 8 33 4 33 2 34-1 33-5 33-7 33-11 33-14 33-17 33-19 34-22 33-24 33-25 33-26 33-26 33-26 33-24 34-22 33-20 33-17 33-14 33-11 33-7 33-2 34 1 33 6 33 11 33 16 33 20 33 25 33 28 34 32 33 33 33 35 33 37 33 36 33 36 33 36 34 36 33 35 33 34 33 33 33 33 33 31 33 30 34 29 33 27 33 26 33 24 33 21 33 20 33 17 34 16 33 13 33 11"/>
<path d="M600 2336l33-64 33-83 33-104 33-127 34-149 33-168 33-180 33-182 33-172 33-149 33-114 33-70 34-23 33 23 33 60 33 83 33 89 33 77 33 60 34 50 33 58 33 79 33 101 33 106 33 94 33 69 34 43 33 24 33 14 33 10 33 8 33 11 33 11 34 13 33 14 33 14 33 12 33 10 33 7 33 2 34-2 33-7 33-10 33-12 33-13 33-12 33-11 34-8 33-6 33-3 33 0 33 1 33 3 33 4 34 3 33 4 33 3 33 4 33 4 33 3 33 4 34 4 33 5 33 6 33 6 33 8 33 9 33 11 34 13 33 15 33 16 33 18 33 20 33 21 33 23 34 24 33 24 33 25 33 26 33 26 33 27 33 26 34 27 33 27 33 26 33 26 33 26 33 25 33 24 34 23 33 22 33 21 33 19 33 17 33 16 33 14 34 13 33 11 33 10"/>
<path d="M600 2286l33-78 33-95 33-111 33-128 34-143 33-154 33-159 33-159 33-150 33-135 33-111 33-84 34-53 33-24 33-2 33 15 33 24 33 30 33 42 34 60 33 85 33 108 33 121 33 118 33 104 33 83 34 65 33 51 33 42 33 38 33 37 33 36 33 37 34 38 33 37 33 38 33 36 33 36 33 34 33 31 34 28 33 25 33 21 33 16 33 11 33 7 33 0 34-4 33-11 33-15 33-21 33-25 33-28 33-29 34-31 33-31 33-30 33-29 33-26 33-25 33-22 34-20 33-17 33-12 33-8 33-2 33 3 33 9 34 15 33 20 33 24 33 28 33 30 33 33 33 34 34 35 33 36 33 35 33 36 33 35 33 34 33 33 34 33 33 31 33 29 33 28 33 27 33 26 33 24 34 22 33 21 33 20 33 18 33 17 33 14 33 14 34 11 33 10 33 9"/>
<path d="M600 2390l33-58 33-75 33-93 33-115 34-136 33-153 33-166 33-171 33-165 33-149 33-121 33-86 34-46 33-8 33 24 33 48 33 59 33 65 33 67 34 71 33 81 33 88 33 93 33 87 33 74 33 55 34 37 33 23 33 14 33 9 33 9 33 8 33 11 34 12 33 14 33 16 33 18 33 19 33 19 33 20 34 19 33 17 33 16 33 13 33 11 33 8 33 5 34 1 33-1 33-3 33-7 33-8 33-12 33-13 34-15 33-16 33-18 33-17 33-18 33-17 33-15 34-12 33-10 33-6 33-3 33 0 33 2 33 6 34 7 33 9 33 12 33 15 33 18 33 21 33 24 34 26 33 29 33 31 33 31 33 32 33 32 33 31 34 31 33 32 33 30 33 31 33 31 33 30 33 30 34 29 33 29 33 27 33 25 33 24 33 21 33 20 34 16 33 15 33 12"/>
<path d="M600 2329l33-69 33-83 33-97 33-110 34-122 33-131 33-133 33-132 33-123 33-109 33-89 33-65 34-39 33-14 33 7 33 20 33 25 33 21 33 15 34 15 33 27 33 49 33 74 33 88 33 88 33 75 34 56 33 39 33 26 33 21 33 19 33 19 33 21 34 23 33 24 33 24 33 24 33 23 33 21 33 20 34 19 33 18 33 16 33 15 33 13 33 11 33 9 34 5 33 3 33 0 33-3 33-6 33-7 33-9 34-10 33-11 33-12 33-12 33-12 33-13 33-11 34-11 33-10 33-7 33-6 33-2 33 0 33 3 34 7 33 11 33 13 33 17 33 21 33 23 33 25 34 28 33 30 33 30 33 32 33 33 33 33 33 32 34 32 33 31 33 30 33 29 33 28 33 26 33 25 34 23 33 22 33 20 33 19 33 17 33 15 33 14 34 13 33 11 33 10"/>
<path d="M600 2356l33-50 33-63 33-81 33-103 34-125 33-148 33-169 33-183 33-187 33-181 33-162 33-130 34-91 33-50 33-12 33 18 33 39 33 58 33 76 34 97 33 120 33 133 33 136 33 123 33 99 33 74 34 51 33 34 33 25 33 20 33 18 33 18 33 18 34 18 33 20 33 19 33 20 33 19 33 19 33 18 34 18 33 16 33 14 33 13 33 10 33 8 33 6 34 3 33 0 33-2 33-4 33-7 33-9 33-11 34-12 33-13 33-13 33-14 33-13 33-12 33-10 34-7 33-4 33 1 33 5 33 12 33 17 33 21 34 26 33 26 33 26 33 22 33 19 33 15 33 13 34 11 33 12 33 14 33 17 33 19 33 22 33 23 34 24 33 25 33 25 33 25 33 25 33 24 33 24 34 23 33 23 33 22 33 20 33 20 33 18 33 17 34 15 33 13 33 12"/>
<path d="M600 2354l33-59 33-77 33-102 33-131 34-162 33-191 33-215 33-226 33-221 33-198 33-157 33-100 34-38 33 24 33 75 33 107 33 119 33 115 33 102 34 90 33 85 33 88 33 93 33 93 33 83 33 68 34 48 33 32 33 19 33 13 33 11 33 12 33 14 34 18 33 20 33 23 33 24 33 25 33 25 33 26 34 24 33 23 33 22 33 19 33 18 33 15 33 12 34 10 33 7 33 5 33 2 33 0 33-2 33-5 34-5 33-8 33-9 33-9 33-11 33-11 33-11 34-10 33-10 33-10 33-8 33-6 33-4 33-1 34 1 33 4 33 6 33 9 33 12 33 13 33 16 34 18 33 18 33 20 33 21 33 22 33 22 33 23 34 24 33 25 33 26 33 26 33 26 33 27 33 26 34 26 33 25 33 24 33 22 33 21 33 18 33 16 34 15 33 12 33 11"/>
<path d="M600 2333l33-67 33-85 33-105 33-126 34-146 33-163 33-174 33-178 33-170 33-153 33-124 33-88 34-48 33-11 33 20 33 39 33 46 33 46 33 52 34 68 33 94 33 122 33 137 33 135 33 114 33 86 34 59 33 38 33 25 33 19 33 17 33 16 33 18 34 18 33 20 33 20 33 21 33 21 33 21 33 20 34 18 33 18 33 15 33 13 33 10 33 8 33 5 34 1 33-1 33-4 33-7 33-10 33-11 33-14 34-17 33-18 33-21 33-24 33-25 33-26 33-27 34-25 33-24 33-20 33-16 33-11 33-6 33 0 34 6 33 11 33 16 33 21 33 24 33 29 33 31 34 34 33 36 33 37 33 38 33 38 33 38 33 37 34 36 33 35 33 34 33 32 33 30 33 29 33 27 34 25 33 23 33 21 33 20 33 17 33 16 33 14 34 13 33 11 33 9"/>
<path d="M600 2320l33-65 33-81 33-98 33-117 34-133 33-147 33-156 33-157 33-150 33-133 33-108 33-78 34-44 33-12 33 15 33 38 33 53 33 63 33 72 34 78 33 84 33 85 33 81 33 72 33 59 33 44 34 32 33 22 33 17 33 13 33 13 33 13 33 15 34 17 33 18 33 20 33 22 33 25 33 26 33 30 34 31 33 35 33 35 33 34 33 32 33 25 33 17 34 8 33-1 33-10 33-14 33-18 33-17 33-15 34-12 33-9 33-6 33-4 33-3 33-1 33-2 34-2 33-3 33-3 33-3 33-2 33-1 33 1 34 3 33 7 33 9 33 13 33 16 33 19 33 21 34 23 33 25 33 25 33 26 33 26 33 25 33 24 34 22 33 21 33 20 33 18 33 17 33 18 33 18 34 20 33 20 33 22 33 22 33 21 33 20 33 19 34 16 33 14 33 12"/>
<path d="M600 2305l33-82 33-101 33-118 33-135 34-149 33-160 33-165 33-161 33-150 33-133 33-107 33-77 34-47 33-17 33 5 33 21 33 29 33 34 33 38 34 49 33 64 33 83 33 94 33 97 33 88 33 72 34 53 33 37 33 25 33 20 33 18 33 22 33 26 34 32 33 37 33 43 33 47 33 48 33 48 33 46 34 44 33 39 33 36 33 31 33 26 33 22 33 17 34 13 33 8 33 4 33 0 33-3 33-7 33-9 34-12 33-14 33-15 33-15 33-16 33-15 33-13 34-12 33-9 33-6 33-2 33 1 33 4 33 7 34 10 33 13 33 14 33 16 33 17 33 18 33 19 34 20 33 21 33 22 33 23 33 23 33 23 33 24 34 22 33 23 33 22 33 22 33 21 33 21 33 22 34 21 33 21 33 20 33 19 33 18 33 17 33 14 34 13 33 11 33 9"/>
<path d="M600 2303l33-73 33-90 33-110 33-130 34-148 33-165 33-174 33-176 33-168 33-151 33-123 33-90 34-52 33-16 33 15 33 39 33 56 33 66 33 73 34 80 33 89 33 96 33 100 33 96 33 87 33 73 34 58 33 45 33 35 33 30 33 26 33 26 33 27 34 27 33 29 33 29 33 30 33 29 33 29 33 28 34 26 33 24 33 22 33 19 33 16 33 12 33 10 34 5 33 2 33-2 33-6 33-10 33-14 33-16 34-19 33-20 33-21 33-21 33-20 33-17 33-13 34-9 33-5 33 1 33 6 33 10 33 13 33 15 34 16 33 17 33 18 33 17 33 17 33 18 33 19 34 20 33 22 33 23 33 24 33 25 33 25 33 25 34 25 33 24 33 24 33 23 33 22 33 23 33 21 34 22 33 21 33 20 33 19 33 19 33 16 33 15 34 13 33 12 33 10"/>
<path d="M600 2374l33-55 33-72 33-96 33-122 34-152 33-180 33-203 33-216 33-215 33-197 33-161 33-112 34-53 33 4 33 52 33 85 33 102 33 106 33 108 34 113 33 119 33 121 33 111 33 93 33 67 33 45 34 28 33 19 33 14 33 15 33 17 33 19 33 21 34 24 33 25 33 27 33 26 33 26 33 24 33 22 34 20 33 18 33 14 33 11 33 8 33 6 33 2 34-1 33-3 33-7 33-9 33-13 33-15 33-18 34-20 33-23 33-24 33-25 33-26 33-25 33-25 34-23 33-20 33-18 33-14 33-10 33-6 33 0 34 6 33 12 33 19 33 25 33 32 33 36 33 41 34 43 33 45 33 44 33 43 33 41 33 39 33 36 34 33 33 31 33 29 33 28 33 26 33 26 33 24 34 23 33 23 33 21 33 20 33 18 33 17 33 15 34 13 33 12 33 9"/>
<path d="M600 2325l33-59 33-77 33-98 33-120 34-145 33-166 33-182 33-188 33-181 33-162 33-129 33-86 34-41 33 4 33 40 33 65 33 80 33 86 33 90 34 94 33 97 33 99 33 94 33 83 33 66 33 46 34 28 33 16 33 7 33 4 33 4 33 7 33 10 34 15 33 20 33 23 33 25 33 28 33 27 33 27 34 26 33 25 33 22 33 20 33 18 33 16 33 12 34 10 33 7 33 4 33 0 33-2 33-6 33-9 34-12 33-14 33-15 33-17 33-17 33-17 33-17 34-15 33-14 33-11 33-8 33-6 33-2 33 2 34 6 33 9 33 12 33 16 33 19 33 22 33 24 34 25 33 27 33 28 33 29 33 30 33 30 33 31 34 32 33 32 33 32 33 32 33 32 33 32 33 29 34 29 33 26 33 24 33 21 33 19 33 16 33 14 34 12 33 9 33 9"/>
<path d="M600 2246l33-70 33-85 33-103 33-118 34-134 33-145 33-152 33-150 33-142 33-123 33-99 33-69 34-37 33-8 33 13 33 25 33 30 33 35 33 47 34 69 33 95 33 117 33 125 33 116 33 97 33 72 34 52 33 37 33 28 33 22 33 20 33 17 33 15 34 14 33 13 33 12 33 11 33 11 33 10 33 9 34 8 33 7 33 6 33 4 33 3 33 0 33-1 34-3 33-4 33-7 33-8 33-10 33-11 33-11 34-13 33-13 33-13 33-12 33-13 33-11 33-10 34-9 33-6 33-3 33 2 33 6 33 12 33 16 34 21 33 25 33 28 33 30 33 32 33 32 33 33 34 34 33 33 33 33 33 32 33 31 33 30 33 28 34 27 33 25 33 25 33 23 33 23 33 22 33 22 34 21 33 21 33 19 33 18 33 16 33 15 33 12 34 11 33 9 33 7"/>
<path d="M600 2236l33-72 33-88 33-104 33-121 34-135 33-145 33-150 33-148 33-138 33-118 33-91 33-61 34-26 33 3 33 24 33 34 33 34 33 28 33 33 34 53 33 86 33 120 33 139 33 132 33 109 33 77 34 49 33 29 33 18 33 13 33 10 33 11 33 11 34 13 33 14 33 15 33 16 33 16 33 16 33 16 34 15 33 13 33 12 33 10 33 7 33 4 33 2 34 0 33-4 33-5 33-8 33-10 33-12 33-14 34-14 33-16 33-16 33-17 33-15 33-15 33-14 34-11 33-10 33-6 33-4 33 0 33 3 33 6 34 11 33 13 33 18 33 20 33 23 33 26 33 27 34 29 33 29 33 30 33 29 33 29 33 28 33 27 34 26 33 25 33 24 33 25 33 24 33 26 33 25 34 26 33 25 33 25 33 24 33 22 33 21 33 18 34 16 33 13 33 11"/>
<path d="M600 2313l33-59 33-73 33-91 33-111 34-131 33-149 33-164 33-170 33-168 33-156 33-132 33-101 34-62 33-25 33 8 33 33 33 53 33 68 33 88 34 112 33 134 33 146 33 140 33 118 33 85 33 53 34 26 33 9 33-1 33-3 33-2 33 3 33 7 34 12 33 14 33 16 33 17 33 15 33 14 33 11 34 10 33 10 33 11 33 14 33 15 33 18 33 18 34 17 33 14 33 11 33 5 33 0 33-4 33-8 34-11 33-13 33-15 33-16 33-16 33-16 33-15 34-14 33-12 33-11 33-7 33-5 33-2 33 1 34 5 33 8 33 11 33 14 33 18 33 20 33 22 34 25 33 26 33 27 33 28 33 29 33 29 33 28 34 29 33 29 33 28 33 28 33 27 33 27 33 26 34 25 33 24 33 22 33 22 33 20 33 18 33 16 34 15 33 12 33 11"/>
<path d="M600 2331l33-71 33-89 33-109 33-130 34-150 33-166 33-178 33-181 33-175 33-157 33-131 33-94 34-55 33-14 33 22 33 49 33 67 33 73 33 75 34 75 33 81 33 90 33 98 33 102 33 96 33 84 34 68 33 52 33 42 33 35 33 31 33 30 33 30 34 29 33 30 33 29 33 29 33 27 33 26 33 24 34 22 33 20 33 16 33 13 33 11 33 6 33 3 34 0 33-4 33-8 33-10 33-14 33-16 33-18 34-20 33-21 33-22 33-22 33-22 33-20 33-20 34-18 33-15 33-12 33-10 33-6 33-2 33 1 34 6 33 9 33 13 33 16 33 20 33 22 33 25 34 26 33 28 33 29 33 29 33 30 33 29 33 29 34 29 33 28 33 28 33 28 33 27 33 26 33 27 34 25 33 25 33 25 33 23 33 21 33 20 33 18 34 16 33 15 33 12"/>
<path d="M600 2354l33-69 33-87 33-109 33-131 34-153 33-171 33-182 33-184 33-173 33-151 33-118 33-77 34-34 33 6 33 39 33 59 33 68 33 71 33 72 34 78 33 86 33 93 33 95 33 87 33 73 33 58 34 46 33 39 33 36 33 35 33 35 33 34 33 30 34 25 33 21 33 15 33 11 33 9 33 8 33 9 34 11 33 11 33 13 33 13 33 11 33 11 33 7 34 5 33 2 33-2 33-5 33-8 33-11 33-13 34-16 33-17 33-19 33-19 33-19 33-18 33-16 34-14 33-11 33-8 33-4 33 1 33 4 33 9 34 13 33 16 33 20 33 23 33 25 33 27 33 29 34 31 33 30 33 32 33 31 33 31 33 30 33 29 34 28 33 26 33 25 33 24 33 23 33 22 33 21 34 20 33 19 33 19 33 18 33 17 33 16 33 15 34 13 33 13 33 11"/>
<path d="M600 2397l33-58 33-75 33-95 33-115 34-135 33-155 33-170 33-177 33-175 33-164 33-141 33-110 34-75 33-40 33-12 33 7 33 15 33 21 33 32 34 54 33 84 33 110 33 122 33 115 33 94 33 69 34 46 33 32 33 24 33 23 33 24 33 26 33 29 34 32 33 34 33 36 33 38 33 38 33 38 33 38 34 36 33 34 33 31 33 28 33 25 33 22 33 17 34 13 33 8 33 4 33-1 33-5 33-9 33-11 34-14 33-16 33-18 33-17 33-18 33-16 33-16 34-15 33-12 33-10 33-7 33-4 33 0 33 4 34 9 33 12 33 17 33 20 33 23 33 25 33 27 34 28 33 28 33 28 33 28 33 28 33 26 33 26 34 25 33 24 33 24 33 24 33 23 33 23 33 23 34 21 33 22 33 19 33 19 33 17 33 15 33 14 34 12 33 10 33 8"/>
<path d="M600 2330l33-68 33-82 33-100 33-117 34-133 33-146 33-154 33-155 33-149 33-135 33-113 33-85 34-54 33-25 33 0 33 18 33 29 33 36 33 45 34 58 33 76 33 91 33 99 33 96 33 83 33 66 34 47 33 33 33 24 33 20 33 18 33 19 33 21 34 23 33 24 33 27 33 28 33 29 33 29 33 29 34 28 33 27 33 24 33 22 33 19 33 15 33 12 34 9 33 5 33 1 33-1 33-5 33-7 33-9 34-12 33-12 33-14 33-15 33-15 33-15 33-14 34-13 33-12 33-9 33-7 33-4 33-2 33 2 34 6 33 9 33 12 33 16 33 19 33 21 33 23 34 25 33 27 33 28 33 29 33 29 33 29 33 29 34 29 33 28 33 27 33 27 33 27 33 25 33 25 34 24 33 22 33 22 33 20 33 19 33 18 33 15 34 14 33 13 33 11"/>
<path d="M600 2306l33-78 33-93 33-110 33-126 34-139 33-150 33-155 33-155 33-146 33-131 33-110 33-86 34-59 33-35 33-13 33 3 33 18 33 35 33 56 34 78 33 98 33 110 33 111 33 100 33 85 33 67 34 53 33 43 33 37 33 34 33 33 33 33 33 34 34 36 33 36 33 36 33 36 33 36 33 35 33 32 34 31 33 28 33 24 33 21 33 17 33 13 33 9 34 5 33 0 33-3 33-7 33-10 33-13 33-15 34-18 33-19 33-20 33-20 33-20 33-20 33-17 34-16 33-14 33-12 33-9 33-6 33-4 33 1 34 4 33 8 33 13 33 17 33 20 33 23 33 25 34 25 33 25 33 25 33 24 33 22 33 22 33 21 34 22 33 21 33 21 33 22 33 23 33 23 33 24 34 24 33 25 33 25 33 24 33 23 33 21 33 20 34 17 33 15 33 14"/>
<path d="M600 2331l33-67 33-88 33-110 33-136 34-161 33-183 33-198 33-202 33-192 33-167 33-129 33-82 34-29 33 19 33 57 33 80 33 86 33 82 33 76 34 77 33 85 33 97 33 104 33 100 33 83 33 61 34 42 33 27 33 20 33 16 33 17 33 19 33 21 34 24 33 26 33 28 33 28 33 29 33 28 33 27 34 25 33 23 33 22 33 18 33 16 33 13 33 10 34 6 33 2 33-2 33-5 33-9 33-12 33-16 34-18 33-20 33-22 33-22 33-23 33-22 33-21 34-19 33-17 33-13 33-9 33-6 33-1 33 3 34 8 33 12 33 17 33 20 33 24 33 28 33 30 34 32 33 34 33 35 33 36 33 36 33 35 33 35 34 35 33 33 33 31 33 30 33 29 33 26 33 25 34 23 33 21 33 19 33 17 33 16 33 13 33 12 34 11 33 9 33 7"/>
<path d="M600 2337l33-64 33-85 33-111 33-140 34-169 33-197 33-216 33-223 33-213 33-187 33-142 33-86 34-25 33 32 33 75 33 98 33 101 33 94 33 87 34 90 33 103 33 116 33 118 33 105 33 81 33 54 34 34 33 21 33 15 33 14 33 15 33 16 33 18 34 21 33 21 33 22 33 24 33 23 33 24 33 22 34 22 33 21 33 19 33 18 33 15 33 12 33 10 34 8 33 5 33 2 33-1 33-2 33-5 33-7 34-8 33-9 33-10 33-10 33-10 33-9 33-7 34-7 33-4 33-1 33 0 33 4 33 6 33 8 34 11 33 12 33 13 33 14 33 15 33 15 33 15 34 16 33 16 33 17 33 17 33 18 33 18 33 19 34 20 33 21 33 21 33 23 33 23 33 25 33 25 34 25 33 25 33 24 33 23 33 21 33 20 33 17 34 15 33 12 33 11"/>
<path d="M600 2244l33-73 33-91 33-111 33-132 34-151 33-166 33-176 33-176 33-167 33-146 33-115 33-76 34-35 33 4 33 38 33 60 33 72 33 75 33 76 34 83 33 94 33 109 33 119 33 118 33 106 33 86 34 62 33 43 33 29 33 21 33 17 33 16 33 16 34 16 33 18 33 18 33 18 33 19 33 17 33 17 34 15 33 12 33 10 33 7 33 5 33 2 33-1 34-4 33-6 33-7 33-10 33-11 33-12 33-13 34-13 33-14 33-14 33-13 33-12 33-11 33-9 34-8 33-4 33-2 33 1 33 5 33 9 33 13 34 16 33 19 33 22 33 24 33 24 33 26 33 26 34 26 33 26 33 26 33 26 33 25 33 25 33 24 34 23 33 23 33 21 33 21 33 21 33 20 33 21 34 21 33 21 33 21 33 19 33 19 33 17 33 15 34 13 33 11 33 10"/>
<path d="M600 2353l33-78 33-98 33-120 33-144 34-165 33-183 33-195 33-198 33-192 33-174 33-146 33-110 34-68 33-26 33 11 33 37 33 44 33 33 33 15 34 12 33 39 33 94 33 143 33 161 33 144 33 108 34 72 33 51 33 40 33 37 33 38 33 41 33 44 34 47 33 50 33 51 33 53 33 52 33 52 33 49 34 47 33 42 33 37 33 31 33 25 33 18 33 12 34 5 33-1 33-6 33-9 33-12 33-12 33-13 34-13 33-13 33-13 33-14 33-15 33-15 33-15 34-15 33-14 33-12 33-10 33-6 33-3 33 0 34 4 33 8 33 11 33 14 33 16 33 18 33 20 34 20 33 22 33 22 33 22 33 23 33 23 33 23 34 25 33 24 33 26 33 26 33 26 33 26 33 25 34 25 33 23 33 21 33 19 33 17 33 15 33 12 34 11 33 9 33 8"/>
<path d="M600 2373l33-67 33-84 33-100 33-117 34-133 33-146 33-154 33-157 33-152 33-140 33-122 33-98 34-71 33-45 33-21 33-2 33 15 33 31 33 46 34 63 33 79 33 91 33 97 33 93 33 82 33 69 34 54 33 42 33 34 33 30 33 29 33 28 33 31 34 32 33 33 33 35 33 36 33 36 33 36 33 35 34 34 33 31 33 28 33 25 33 22 33 19 33 14 34 11 33 6 33 3 33-1 33-4 33-8 33-10 34-12 33-15 33-16 33-18 33-18 33-18 33-18 34-18 33-17 33-15 33-14 33-12 33-9 33-7 34-4 33-1 33 3 33 7 33 10 33 15 33 17 34 21 33 24 33 27 33 28 33 30 33 30 33 32 34 31 33 30 33 31 33 29 33 29 33 27 33 26 34 26 33 23 33 23 33 21 33 20 33 19 33 17 34 15 33 14 33 13"/>
<path d="M600 2253l33-74 33-90 33-110 33-129 34-147 33-161 33-170 33-170 33-161 33-140 33-111 33-75 34-35 33 3 33 37 33 57 33 66 33 64 33 60 34 63 33 77 33 98 33 115 33 116 33 103 33 79 34 58 33 40 33 32 33 27 33 28 33 29 33 31 34 32 33 33 33 32 33 29 33 26 33 22 33 18 34 14 33 10 33 9 33 6 33 5 33 3 33 1 34 0 33-3 33-6 33-10 33-12 33-17 33-19 34-23 33-24 33-27 33-28 33-28 33-28 33-25 34-24 33-20 33-15 33-11 33-5 33 1 33 7 34 13 33 18 33 23 33 28 33 31 33 34 33 35 34 37 33 38 33 37 33 37 33 36 33 35 33 33 34 32 33 31 33 29 33 28 33 28 33 26 33 25 34 24 33 22 33 21 33 18 33 17 33 15 33 12 34 10 33 9 33 7"/>
<path d="M600 2316l33-68 33-83 33-98 33-113 34-126 33-135 33-140 33-138 33-129 33-113 33-90 33-63 34-34 33-5 33 18 33 33 33 39 33 38 33 37 34 42 33 58 33 78 33 94 33 96 33 84 33 62 34 40 33 22 33 11 33 5 33 5 33 6 33 9 34 10 33 14 33 15 33 17 33 18 33 18 33 18 34 17 33 16 33 15 33 13 33 10 33 8 33 4 34 2 33-2 33-5 33-8 33-11 33-13 33-16 34-16 33-17 33-17 33-14 33-10 33-6 33 0 34 5 33 10 33 12 33 13 33 11 33 7 33 4 34 1 33 0 33 3 33 8 33 14 33 20 33 27 34 31 33 36 33 39 33 39 33 40 33 40 33 38 34 37 33 35 33 34 33 31 33 29 33 27 33 24 34 23 33 20 33 19 33 16 33 15 33 13 33 11 34 9 33 8 33 7"/>
<path d="M600 2297l33-75 33-89 33-104 33-117 34-131 33-139 33-144 33-143 33-137 33-123 33-105 33-82 34-56 33-32 33-9 33 6 33 17 33 24 33 32 34 45 33 63 33 82 33 97 33 102 33 98 33 84 34 67 33 52 33 40 33 33 33 30 33 28 33 28 34 29 33 30 33 30 33 31 33 30 33 30 33 29 34 28 33 26 33 23 33 21 33 17 33 14 33 11 34 7 33 2 33 0 33-5 33-8 33-11 33-13 34-16 33-18 33-19 33-20 33-20 33-20 33-20 34-18 33-17 33-16 33-15 33-13 33-11 33-7 34-3 33 4 33 10 33 18 33 25 33 30 33 34 34 36 33 37 33 37 33 36 33 34 33 34 33 32 34 32 33 30 33 29 33 28 33 26 33 26 33 24 34 23 33 22 33 21 33 19 33 17 33 16 33 14 34 13 33 11 33 10"/>
<path d="M600 2354l33-67 33-85 33-106 33-129 34-150 33-167 33-180 33-182 33-173 33-154 33-122 33-82 34-38 33 5 33 40 33 65 33 75 33 73 33 67 34 65 33 72 33 87 33 101 33 106 33 96 33 77 34 54 33 34 33 21 33 13 33 10 33 9 33 11 34 11 33 13 33 13 33 15 33 15 33 15 33 16 34 16 33 16 33 16 33 15 33 14 33 12 33 10 34 6 33 4 33 0 33-4 33-7 33-10 33-13 34-16 33-18 33-20 33-21 33-22 33-21 33-21 34-19 33-17 33-13 33-9 33-4 33 0 33 6 34 11 33 15 33 20 33 24 33 27 33 29 33 31 34 33 33 33 33 33 33 33 33 32 33 31 33 30 34 29 33 27 33 26 33 25 33 25 33 23 33 23 34 23 33 22 33 22 33 22 33 21 33 19 33 19 34 17 33 16 33 14"/>
<path d="M600 2266l33-76 33-91 33-109 33-127 34-142 33-156 33-164 33-164 33-158 33-143 33-119 33-90 34-57 33-24 33 5 33 28 33 46 33 60 33 75 34 91 33 110 33 125 33 131 33 126 33 111 33 90 34 68 33 51 33 37 33 30 33 24 33 23 33 23 34 23 33 25 33 28 33 30 33 32 33 35 33 36 34 35 33 31 33 27 33 18 33 10 33 0 33-8 34-14 33-19 33-20 33-21 33-21 33-20 33-20 34-20 33-19 33-20 33-21 33-20 33-21 33-21 34-20 33-19 33-17 33-14 33-12 33-8 33-5 34-1 33 3 33 8 33 11 33 16 33 19 33 22 34 26 33 28 33 30 33 32 33 32 33 32 33 32 34 31 33 31 33 29 33 28 33 28 33 26 33 26 34 26 33 26 33 24 33 24 33 23 33 21 33 18 34 17 33 15 33 12"/>
<path d="M600 2329l33-73 33-92 33-114 33-136 34-156 33-174 33-185 33-187 33-177 33-156 33-126 33-87 34-44 33-5 33 26 33 45 33 54 33 58 33 67 34 85 33 108 33 125 33 125 33 110 33 85 33 60 34 40 33 29 33 23 33 21 33 21 33 23 33 24 34 25 33 27 33 28 33 28 33 29 33 28 33 28 34 27 33 24 33 23 33 20 33 17 33 14 33 10 34 6 33 2 33-1 33-6 33-8 33-12 33-15 34-17 33-19 33-20 33-21 33-21 33-20 33-19 34-18 33-14 33-12 33-8 33-4 33 1 33 4 34 10 33 14 33 18 33 23 33 25 33 29 33 31 34 33 33 33 33 35 33 33 33 34 33 32 33 32 34 30 33 30 33 28 33 27 33 27 33 25 33 24 34 23 33 22 33 20 33 17 33 16 33 14 33 12 34 10 33 9 33 6"/>
<path d="M600 2219l33-86 33-104 33-123 33-142 34-158 33-171 33-177 33-174 33-163 33-141 33-112 33-76 34-39 33-3 33 27 33 49 33 62 33 68 33 73 34 82 33 95 33 110 33 121 33 123 33 115 33 99 34 78 33 61 33 45 33 36 33 30 33 28 33 25 34 26 33 24 33 24 33 23 33 21 33 20 33 17 34 15 33 13 33 11 33 9 33 6 33 5 33 2 34 1 33-2 33-4 33-6 33-10 33-12 33-15 34-17 33-20 33-21 33-21 33-21 33-20 33-17 34-15 33-12 33-8 33-5 33 0 33 3 33 8 34 10 33 14 33 16 33 20 33 22 33 23 33 26 34 27 33 28 33 28 33 29 33 28 33 29 33 28 34 27 33 27 33 26 33 25 33 25 33 24 33 24 34 22 33 23 33 21 33 19 33 19 33 17 33 15 34 13 33 12 33 9"/>
<path d="M600 2261l33-79 33-97 33-116 33-135 34-153 33-167 33-175 33-175 33-166 33-146 33-118 33-82 34-44 33-5 33 27 33 49 33 59 33 62 33 65 34 76 33 96 33 115 33 125 33 119 33 99 33 75 34 54 33 41 33 32 33 29 33 28 33 28 33 29 34 30 33 30 33 31 33 30 33 30 33 29 33 28 34 25 33 23 33 20 33 18 33 14 33 10 33 7 34 4 33 0 33-4 33-6 33-9 33-11 33-13 34-15 33-16 33-17 33-17 33-17 33-16 33-16 34-14 33-12 33-10 33-8 33-5 33-2 33 0 34 3 33 6 33 8 33 12 33 13 33 16 33 19 34 20 33 21 33 24 33 24 33 25 33 26 33 26 34 26 33 26 33 26 33 25 33 25 33 25 33 24 34 23 33 23 33 22 33 20 33 20 33 18 33 17 34 15 33 14 33 13"/>
<path d="M600 2278l33-72 33-90 33-111 33-135 34-156 33-177 33-190 33-196 33-190 33-172 33-142 33-103 34-59 33-16 33 20 33 47 33 60 33 69 33 75 34 87 33 103 33 121 33 129 33 125 33 110 33 89 34 67 33 51 33 42 33 36 33 36 33 36 33 38 34 40 33 42 33 42 33 42 33 42 33 40 33 37 34 35 33 31 33 27 33 23 33 19 33 14 33 9 34 5 33 1 33-3 33-8 33-11 33-15 33-19 34-21 33-24 33-27 33-28 33-30 33-30 33-30 34-30 33-28 33-26 33-24 33-19 33-15 33-10 34-5 33 0 33 6 33 10 33 15 33 18 33 21 34 24 33 27 33 29 33 30 33 32 33 33 33 34 34 34 33 35 33 34 33 34 33 33 33 32 33 31 34 29 33 27 33 24 33 23 33 20 33 18 33 16 34 13 33 12 33 9"/>
<path d="M600 2434l33-44 33-62 33-85 33-118 34-156 33-199 33-238 33-266 33-276 33-260 33-216 33-149 34-69 33 11 33 78 33 124 33 147 33 148 33 138 34 123 33 107 33 93 33 78 33 64 33 52 33 40 34 32 33 25 33 21 33 18 33 18 33 16 33 15 34 17 33 19 33 25 33 33 33 42 33 50 33 58 34 60 33 58 33 53 33 45 33 35 33 25 33 17 34 8 33 3 33-3 33-7 33-11 33-15 33-18 34-21 33-23 33-25 33-26 33-27 33-26 33-25 34-24 33-22 33-19 33-16 33-12 33-9 33-4 34 0 33 4 33 8 33 12 33 17 33 19 33 23 34 26 33 28 33 29 33 31 33 30 33 31 33 31 34 30 33 30 33 29 33 30 33 29 33 30 33 29 34 29 33 27 33 26 33 23 33 21 33 19 33 16 34 14 33 12 33 10"/>
<path d="M600 2317l33-79 33-96 33-115 33-133 34-149 33-159 33-164 33-161 33-149 33-127 33-100 33-68 34-33 33-2 33 22 33 37 33 41 33 39 33 41 34 49 33 65 33 83 33 95 33 93 33 82 33 63 34 47 33 33 33 28 33 24 33 26 33 27 33 29 34 32 33 34 33 35 33 36 33 36 33 35 33 34 34 33 33 29 33 26 33 22 33 17 33 13 33 7 34 2 33-3 33-9 33-13 33-19 33-22 33-26 34-29 33-30 33-31 33-30 33-28 33-26 33-22 34-18 33-14 33-10 33-5 33-1 33 4 33 7 34 13 33 16 33 22 33 25 33 30 33 35 33 37 34 41 33 43 33 43 33 44 33 43 33 41 33 39 34 35 33 33 33 30 33 27 33 24 33 23 33 21 34 21 33 19 33 17 33 17 33 15 33 14 33 12 34 10 33 9 33 7"/>
<path d="M600 2299l33-66 33-79 33-94 33-107 34-120 33-129 33-134 33-132 33-125 33-110 33-90 33-64 34-37 33-11 33 12 33 29 33 39 33 42 33 45 34 47 33 55 33 65 33 74 33 78 33 75 33 65 34 52 33 37 33 27 33 19 33 15 33 14 33 13 34 14 33 15 33 16 33 18 33 18 33 18 33 19 34 18 33 17 33 14 33 12 33 8 33 5 33 2 34-3 33-5 33-9 33-11 33-13 33-15 33-17 34-18 33-19 33-19 33-20 33-19 33-18 33-16 34-15 33-12 33-9 33-5 33-2 33 3 33 6 34 11 33 14 33 19 33 23 33 26 33 29 33 32 34 33 33 35 33 36 33 36 33 35 33 33 33 32 34 30 33 28 33 27 33 26 33 26 33 26 33 27 34 28 33 27 33 27 33 26 33 24 33 21 33 19 34 15 33 13 33 11"/>
<path d="M600 2273l33-63 33-79 33-98 33-120 34-142 33-162 33-177 33-183 33-178 33-162 33-133 33-96 34-53 33-11 33 24 33 48 33 62 33 71 33 81 34 95 33 111 33 124 33 125 33 114 33 94 33 71 34 51 33 38 33 29 33 26 33 24 33 23 33 22 34 21 33 20 33 18 33 16 33 16 33 15 33 15 34 15 33 15 33 14 33 14 33 12 33 10 33 8 34 5 33 2 33-2 33-5 33-9 33-11 33-15 34-17 33-18 33-20 33-20 33-20 33-20 33-17 34-16 33-13 33-10 33-6 33-2 33 3 33 6 34 11 33 16 33 19 33 23 33 27 33 29 33 32 34 33 33 35 33 34 33 35 33 33 33 31 33 29 34 27 33 25 33 23 33 22 33 21 33 21 33 21 34 21 33 22 33 21 33 20 33 20 33 17 33 16 34 13 33 11 33 9"/>
<path d="M600 2362l33-67 33-84 33-105 33-125 34-146 33-162 33-173 33-176 33-169 33-150 33-123 33-87 34-47 33-9 33 23 33 48 33 62 33 69 33 73 34 78 33 85 33 91 33 93 33 87 33 73 33 57 34 40 33 29 33 20 33 17 33 17 33 17 33 20 34 22 33 25 33 26 33 28 33 29 33 30 33 29 34 29 33 28 33 26 33 24 33 21 33 18 33 15 34 11 33 7 33 3 33-1 33-4 33-9 33-13 34-17 33-21 33-23 33-26 33-27 33-27 33-26 34-24 33-22 33-19 33-15 33-11 33-7 33-2 34 3 33 7 33 12 33 16 33 21 33 24 33 27 34 30 33 31 33 33 33 32 33 33 33 32 33 30 34 30 33 29 33 28 33 27 33 28 33 28 33 28 34 29 33 28 33 27 33 26 33 23 33 22 33 19 34 16 33 13 33 11"/>
<path d="M600 2374l33-62 33-80 33-101 33-122 34-144 33-162 33-175 33-178 33-170 33-151 33-121 33-82 34-40 33-2 33 30 33 51 33 60 33 63 33 66 34 72 33 82 33 92 33 95 33 89 33 74 33 55 34 37 33 22 33 15 33 11 33 10 33 11 33 14 34 15 33 18 33 19 33 20 33 22 33 22 33 21 34 21 33 20 33 19 33 17 33 15 33 12 33 9 34 7 33 4 33 2 33-1 33-3 33-6 33-6 34-8 33-7 33-8 33-6 33-5 33-2 33 2 34 4 33 8 33 10 33 12 33 11 33 10 33 7 34 3 33 0 33-1 33-2 33 0 33 4 33 9 34 13 33 19 33 22 33 26 33 27 33 29 33 29 34 28 33 28 33 26 33 26 33 24 33 24 33 22 34 22 33 22 33 20 33 20 33 19 33 18 33 17 34 15 33 14 33 12"/>
<path d="M600 2305l33-69 33-87 33-108 33-128 34-149 33-166 33-178 33-182 33-176 33-159 33-130 33-96 34-55 33-17 33 17 33 43 33 61 33 74 33 83 34 93 33 103 33 108 33 107 33 99 33 85 33 66 34 50 33 37 33 28 33 23 33 23 33 22 33 25 34 28 33 30 33 33 33 36 33 38 33 40 33 41 34 40 33 39 33 35 33 31 33 23 33 16 33 9 34 1 33-4 33-10 33-13 33-16 33-17 33-17 34-18 33-18 33-18 33-19 33-17 33-18 33-16 34-15 33-13 33-12 33-9 33-6 33-3 33 0 34 3 33 6 33 10 33 12 33 15 33 17 33 20 34 22 33 23 33 25 33 25 33 26 33 27 33 27 34 26 33 26 33 26 33 25 33 25 33 24 33 23 34 22 33 21 33 21 33 19 33 18 33 17 33 16 34 14 33 13 33 11"/>
<path d="M600 2186l33-82 33-97 33-113 33-127 34-139 33-146 33-148 33-142 33-129 33-108 33-83 33-52 34-21 33 6 33 27 33 38 33 44 33 46 33 51 34 65 33 84 33 101 33 110 33 106 33 92 33 71 34 52 33 37 33 27 33 23 33 19 33 19 33 19 34 20 33 20 33 20 33 20 33 19 33 19 33 19 34 16 33 15 33 13 33 11 33 7 33 5 33 1 34-2 33-5 33-8 33-11 33-14 33-15 33-17 34-18 33-17 33-18 33-16 33-15 33-12 33-11 34-9 33-6 33-3 33 0 33 2 33 5 33 7 34 10 33 12 33 15 33 16 33 18 33 20 33 21 34 23 33 25 33 25 33 27 33 27 33 28 33 28 34 29 33 28 33 29 33 28 33 27 33 27 33 26 34 26 33 24 33 22 33 22 33 19 33 18 33 16 34 15 33 13 33 11"/>
<path d="M600 2267l33-67 33-83 33-102 33-121 34-138 33-153 33-161 33-162 33-153 33-134 33-106 33-71 34-33 33 2 33 32 33 51 33 61 33 65 33 66 34 70 33 78 33 88 33 94 33 94 33 85 33 70 34 52 33 37 33 25 33 18 33 15 33 13 33 14 34 15 33 16 33 16 33 17 33 18 33 17 33 17 34 16 33 14 33 12 33 9 33 6 33 4 33-1 34-4 33-7 33-10 33-12 33-14 33-13 33-12 34-11 33-7 33-3 33 0 33 4 33 6 33 9 34 10 33 9 33 8 33 6 33 3 33 0 33-1 34-2 33-2 33 0 33 2 33 5 33 10 33 13 34 17 33 20 33 22 33 25 33 27 33 27 33 28 34 29 33 28 33 29 33 29 33 28 33 28 33 27 34 26 33 26 33 24 33 23 33 21 33 19 33 18 34 16 33 14 33 12"/>
<path d="M600 2313l33-63 33-81 33-100 33-121 34-143 33-161 33-177 33-182 33-180 33-165 33-140 33-105 34-66 33-24 33 13 33 43 33 65 33 79 33 88 34 95 33 101 33 104 33 102 33 97 33 84 33 69 34 54 33 41 33 31 33 24 33 22 33 22 33 21 34 23 33 24 33 25 33 25 33 26 33 26 33 25 34 24 33 23 33 21 33 19 33 17 33 15 33 11 34 10 33 6 33 5 33 2 33 0 33-1 33-2 34-3 33-3 33-3 33-3 33-3 33-2 33-2 34-4 33-4 33-6 33-9 33-9 33-11 33-10 34-9 33-6 33-2 33 2 33 7 33 12 33 16 34 19 33 22 33 23 33 25 33 25 33 26 33 25 34 26 33 24 33 25 33 24 33 23 33 23 33 23 34 22 33 21 33 21 33 20 33 18 33 18 33 15 34 15 33 13 33 11"/>
<path d="M600 2340l33-78 33-100 33-125 33-148 34-171 33-187 33-195 33-192 33-175 33-146 33-106 33-58 34-10 33 35 33 69 33 88 33 88 33 77 33 62 34 56 33 66 33 85 33 99 33 99 33 84 33 60 34 39 33 25 33 17 33 14 33 16 33 18 33 21 34 24 33 27 33 28 33 30 33 31 33 32 33 30 34 30 33 28 33 26 33 24 33 21 33 18 33 16 34 13 33 11 33 8 33 6 33 3 33 0 33-4 34-8 33-14 33-18 33-24 33-28 33-31 33-32 34-33 33-31 33-27 33-23 33-18 33-13 33-8 34-2 33 2 33 7 33 12 33 15 33 19 33 23 34 25 33 28 33 29 33 31 33 32 33 32 33 32 34 32 33 31 33 30 33 30 33 28 33 28 33 26 34 26 33 24 33 23 33 22 33 20 33 19 33 17 34 15 33 14 33 12"/>
<path d="M600 2313l33-71 33-86 33-104 33-123 34-140 33-155 33-164 33-167 33-162 33-148 33-125 33-98 34-66 33-35 33-6 33 16 33 34 33 49 33 62 34 75 33 88 33 97 33 101 33 97 33 87 33 73 34 58 33 47 33 39 33 34 33 32 33 32 33 33 34 34 33 36 33 37 33 38 33 38 33 38 33 38 34 37 33 35 33 32 33 28 33 24 33 18 33 12 34 4 33-3 33-10 33-16 33-20 33-23 33-25 34-26 33-26 33-25 33-24 33-22 33-21 33-18 34-16 33-13 33-10 33-6 33-3 33 1 33 5 34 10 33 13 33 18 33 21 33 24 33 28 33 30 34 31 33 34 33 33 33 34 33 34 33 33 33 32 34 31 33 29 33 27 33 26 33 24 33 23 33 22 34 20 33 18 33 18 33 16 33 15 33 14 33 12 34 11 33 10 33 8"/>
<path d="M600 2232l33-82 33-99 33-116 33-132 34-145 33-152 33-155 33-149 33-134 33-112 33-82 33-49 34-15 33 16 33 41 33 55 33 58 33 57 33 54 34 59 33 73 33 89 33 103 33 104 33 94 33 75 34 54 33 38 33 28 33 21 33 19 33 18 33 19 34 20 33 20 33 21 33 22 33 21 33 21 33 21 34 20 33 19 33 18 33 16 33 15 33 14 33 13 34 11 33 10 33 9 33 6 33 4 33-1 33-5 34-11 33-18 33-24 33-30 33-36 33-40 33-42 34-42 33-40 33-36 33-32 33-25 33-18 33-12 34-4 33 2 33 9 33 14 33 20 33 24 33 28 34 31 33 33 33 36 33 36 33 37 33 38 33 37 34 38 33 36 33 35 33 35 33 33 33 32 33 31 34 28 33 27 33 26 33 23 33 21 33 19 33 17 34 14 33 13 33 11"/>
<path d="M600 2322l33-74 33-92 33-110 33-130 34-146 33-159 33-167 33-166 33-156 33-137 33-110 33-78 34-42 33-11 33 15 33 33 33 41 33 46 33 53 34 64 33 81 33 96 33 105 33 103 33 91 33 74 34 60 33 48 33 43 33 41 33 42 33 43 33 45 34 44 33 45 33 43 33 41 33 37 33 36 33 32 34 29 33 26 33 22 33 18 33 10 33 3 33-6 34-14 33-22 33-29 33-32 33-35 33-35 33-35 34-34 33-33 33-32 33-30 33-28 33-25 33-23 34-20 33-16 33-13 33-8 33-4 33 1 33 6 34 10 33 14 33 19 33 23 33 27 33 29 33 33 34 34 33 36 33 37 33 37 33 37 33 36 33 36 34 33 33 33 33 30 33 28 33 27 33 24 33 23 34 22 33 19 33 19 33 18 33 16 33 15 33 14 34 13 33 11 33 10"/>
<path d="M600 2299l33-72 33-88 33-107 33-125 34-142 33-156 33-165 33-166 33-159 33-142 33-116 33-85 34-49 33-15 33 16 33 37 33 47 33 50 33 51 34 57 33 71 33 92 33 109 33 114 33 106 33 87 34 64 33 45 33 31 33 23 33 20 33 19 33 20 34 22 33 24 33 25 33 27 33 28 33 28 33 28 34 27 33 25 33 22 33 20 33 16 33 13 33 9 34 7 33 4 33 1 33-1 33-4 33-5 33-7 34-8 33-11 33-11 33-13 33-13 33-13 33-14 34-13 33-11 33-10 33-8 33-6 33-3 33 0 34 2 33 5 33 8 33 10 33 12 33 14 33 16 34 17 33 19 33 20 33 20 33 21 33 21 33 20 34 21 33 21 33 20 33 22 33 21 33 23 33 24 34 24 33 25 33 25 33 25 33 24 33 23 33 21 34 19 33 18 33 15"/>
<path d="M600 2281l33-69 33-85 33-103 33-121 34-137 33-152 33-161 33-163 33-156 33-142 33-118 33-88 34-54 33-19 33 10 33 32 33 46 33 54 33 63 34 76 33 93 33 109 33 118 33 116 33 100 33 79 34 57 33 39 33 25 33 17 33 13 33 11 33 9 34 9 33 9 33 10 33 11 33 12 33 14 33 14 34 16 33 17 33 18 33 18 33 18 33 17 33 14 34 13 33 9 33 6 33 3 33-1 33-5 33-8 34-11 33-13 33-15 33-16 33-16 33-15 33-15 34-14 33-11 33-8 33-5 33-2 33 2 33 5 34 10 33 13 33 17 33 20 33 24 33 26 33 29 34 31 33 32 33 33 33 34 33 33 33 34 33 32 34 31 33 31 33 29 33 27 33 26 33 24 33 23 34 21 33 20 33 18 33 17 33 15 33 13 33 13 34 10 33 10 33 8"/>
<path d="M600 2234l33-75 33-91 33-111 33-129 34-145 33-158 33-164 33-161 33-149 33-127 33-97 33-59 34-22 33 14 33 42 33 61 33 68 33 72 33 77 34 84 33 95 33 104 33 105 33 95 33 77 33 56 34 38 33 26 33 18 33 15 33 13 33 15 33 15 34 16 33 17 33 18 33 17 33 16 33 15 33 13 34 11 33 10 33 8 33 5 33 4 33 1 33 0 34-2 33-4 33-7 33-8 33-10 33-13 33-13 34-16 33-16 33-17 33-17 33-16 33-15 33-13 34-11 33-8 33-4 33-1 33 4 33 7 33 13 34 16 33 20 33 24 33 28 33 30 33 32 33 34 34 35 33 34 33 35 33 33 33 32 33 30 33 27 34 26 33 23 33 22 33 21 33 21 33 21 33 21 34 21 33 22 33 22 33 21 33 20 33 18 33 17 34 14 33 12 33 9"/>
<path d="M600 2243l33-75 33-88 33-102 33-114 34-125 33-133 33-135 33-133 33-124 33-109 33-90 33-66 34-41 33-15 33 6 33 20 33 28 33 30 33 31 34 40 33 57 33 77 33 92 33 97 33 87 33 72 34 54 33 41 33 31 33 27 33 25 33 25 33 25 34 27 33 27 33 28 33 29 33 29 33 29 33 28 34 27 33 26 33 23 33 22 33 18 33 17 33 13 34 11 33 8 33 4 33 1 33-3 33-8 33-12 34-17 33-21 33-24 33-27 33-26 33-26 33-24 34-22 33-19 33-15 33-12 33-8 33-4 33-1 34 4 33 7 33 11 33 15 33 19 33 21 33 25 34 27 33 29 33 30 33 31 33 32 33 32 33 31 34 31 33 29 33 29 33 27 33 26 33 26 33 24 34 23 33 23 33 21 33 21 33 19 33 18 33 16 34 15 33 14 33 11"/>
<path d="M600 2331l33-75 33-89 33-106 33-120 34-134 33-144 33-148 33-149 33-140 33-127 33-108 33-83 34-58 33-33 33-12 33 4 33 16 33 25 33 38 34 52 33 69 33 82 33 87 33 82 33 71 33 56 34 43 33 34 33 29 33 27 33 29 33 32 33 33 34 34 33 36 33 37 33 36 33 36 33 35 33 34 34 32 33 30 33 28 33 26 33 22 33 20 33 15 34 13 33 8 33 6 33 2 33-1 33-4 33-6 34-8 33-10 33-11 33-11 33-11 33-11 33-9 34-8 33-7 33-4 33-1 33 1 33 4 33 7 34 9 33 12 33 14 33 17 33 18 33 19 33 20 34 21 33 21 33 22 33 21 33 22 33 23 33 22 34 22 33 22 33 22 33 23 33 22 33 21 33 22 34 20 33 20 33 19 33 18 33 16 33 16 33 14 34 12 33 12 33 10"/>
<path d="M600 2261l33-69 33-88 33-111 33-138 34-166 33-192 33-211 33-220 33-215 33-193 33-155 33-104 34-45 33 13 33 65 33 106 33 133 33 144 33 144 34 137 33 124 33 111 33 97 33 84 33 72 33 60 34 52 33 43 33 39 33 36 33 35 33 34 33 35 34 35 33 34 33 35 33 33 33 31 33 29 33 26 34 23 33 19 33 16 33 11 33 7 33 3 33-2 34-7 33-11 33-16 33-18 33-21 33-22 33-22 34-21 33-19 33-18 33-16 33-15 33-14 33-13 34-14 33-12 33-12 33-11 33-10 33-7 33-5 34-2 33 0 33 4 33 7 33 11 33 13 33 16 34 18 33 21 33 22 33 25 33 26 33 26 33 28 34 28 33 29 33 29 33 29 33 28 33 28 33 28 34 26 33 25 33 24 33 23 33 21 33 19 33 18 34 16 33 14 33 13"/>
</g>
<g stroke="#B0B0B0" stroke-width="8.9" fill="none"><line x1="423.8" x2="423.8" y1="45.8" y2="2720.5"/><line x1="423.8" x2="4154.2" y1="2720.5" y2="2720.5"/></g>
<g stroke="#262626" stroke-width="8.9" fill="none">
<line x1="401.1" x2="423.8" y1="2598.6" y2="2598.6"/><line x1="401.1" x2="423.8" y1="2103.9" y2="2103.9"/><line x1="401.1" x2="423.8" y1="1609.3" y2="1609.3"/><line x1="401.1" x2="423.8" y1="1114.6" y2="1114.6"/><line x1="401.1" x2="423.8" y1="620.0" y2="620.0"/><line x1="401.1" x2="423.8" y1="125.3" y2="125.3"/><line y1="2720.5" y2="2743.2" x1="980.5" x2="980.5"/><line y1="2720.5" y2="2743.2" x1="1989.1" x2="1989.1"/><line y1="2720.5" y2="2743.2" x1="2997.8" x2="2997.8"/><line y1="2720.5" y2="2743.2" x1="4006.4" x2="4006.4"/>
</g>
<g fill="#3B3B3B">
<text x="382" y="2630.8" text-anchor="end">0.000</text><text x="382" y="2136.1" text-anchor="end">0.005</text><text x="382" y="1641.5" text-anchor="end">0.010</text><text x="382" y="1146.8" text-anchor="end">0.015</text><text x="382" y="652.2" text-anchor="end">0.020</text><text x="382" y="157.5" text-anchor="end">0.025</text><text x="980.5" y="2827" text-anchor="middle">40</text><text x="1989.1" y="2827" text-anchor="middle">80</text><text x="2997.8" y="2827" text-anchor="middle">120</text><text x="4006.4" y="2827" text-anchor="middle">160</text>
</g>
<text transform="translate(111.4,1383.4) rotate(-90)" text-anchor="middle" fill="#000">Density</text>
</svg>
</body></html>
